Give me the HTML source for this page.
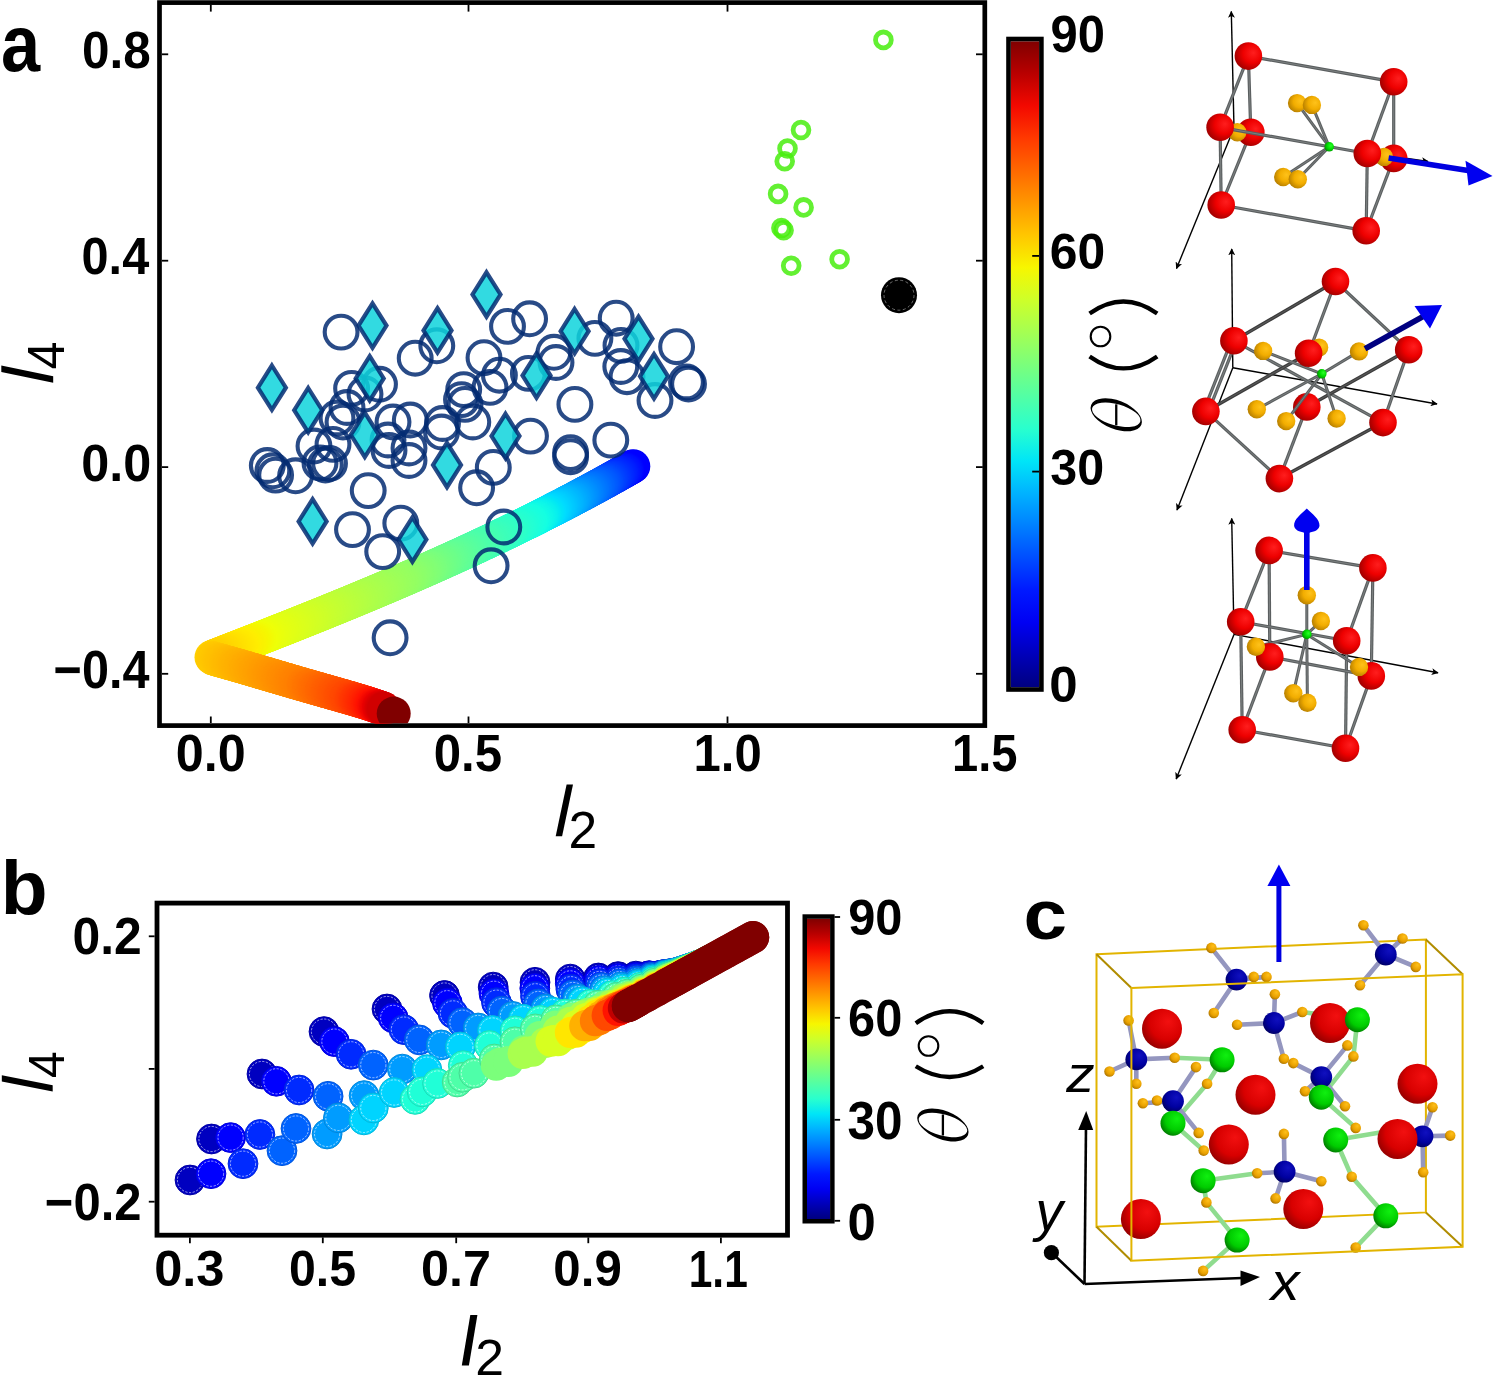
<!DOCTYPE html><html><head><meta charset="utf-8"><style>html,body{margin:0;padding:0;background:#fff;}svg{display:block;}text{font-family:"Liberation Sans",sans-serif;filter:grayscale(1);}</style></head><body>
<svg width="1495" height="1377" viewBox="0 0 1495 1377">
<rect width="1495" height="1377" fill="#fff"/>
<g fill="none" stroke="#000">
<rect x="159.5" y="2.6" width="825.3" height="723" stroke-width="4.7"/>
</g>
<g stroke="#000" stroke-width="1.8">
<line x1="210.8" y1="723" x2="210.8" y2="716.5"/>
<line x1="210.8" y1="4.8" x2="210.8" y2="11.6"/>
<line x1="468.5" y1="723" x2="468.5" y2="716.5"/>
<line x1="468.5" y1="4.8" x2="468.5" y2="11.6"/>
<line x1="727.5" y1="723" x2="727.5" y2="716.5"/>
<line x1="727.5" y1="4.8" x2="727.5" y2="11.6"/>
<line x1="162" y1="54.3" x2="168.2" y2="54.3"/>
<line x1="982.8" y1="54.3" x2="976" y2="54.3"/>
<line x1="162" y1="260.7" x2="168.2" y2="260.7"/>
<line x1="982.8" y1="260.7" x2="976" y2="260.7"/>
<line x1="162" y1="467.1" x2="168.2" y2="467.1"/>
<line x1="982.8" y1="467.1" x2="976" y2="467.1"/>
<line x1="162" y1="673.8" x2="168.2" y2="673.8"/>
<line x1="982.8" y1="673.8" x2="976" y2="673.8"/>
</g>
<text x="100" y="200" font-size="100" font-weight="bold" font-style="normal" fill="#000" transform="matrix(0.70370 0.00002 0 0.78909 -69.281 -87.207)">a</text>
<text x="100" y="200" font-size="100" font-weight="bold" font-style="normal" fill="#000" transform="matrix(0.49470 0.00002 0 0.52113 32.552 -36.546)">0.8</text>
<text x="100" y="200" font-size="100" font-weight="bold" font-style="normal" fill="#000" transform="matrix(0.48667 0.00002 0 0.52254 32.887 169.870)">0.4</text>
<text x="100" y="200" font-size="100" font-weight="bold" font-style="normal" fill="#000" transform="matrix(0.50382 0.00002 0 0.52254 30.903 376.170)">0.0</text>
<text x="100" y="200" font-size="100" font-weight="bold" font-style="normal" fill="#000" transform="matrix(0.48549 0.00002 0 0.52817 5.009 582.038)">−0.4</text>
<text x="100" y="200" font-size="100" font-weight="bold" font-style="normal" fill="#000" transform="matrix(0.50305 0.00002 0 0.52254 125.482 666.470)">0.0</text>
<text x="100" y="200" font-size="100" font-weight="bold" font-style="normal" fill="#000" transform="matrix(0.49098 0.00002 0 0.52254 384.638 666.470)">0.5</text>
<text x="100" y="200" font-size="100" font-weight="bold" font-style="normal" fill="#000" transform="matrix(0.49070 0.00002 0 0.52254 644.486 666.470)">1.0</text>
<text x="100" y="200" font-size="100" font-weight="bold" font-style="normal" fill="#000" transform="matrix(0.47099 0.00002 0 0.52429 904.975 665.919)">1.5</text>
<polygon points="566.6,784.4 573,784.4 562.1,836.2 555.7,836.2" fill="#000"/>
<text x="100" y="200" font-size="100" font-weight="normal" font-style="normal" fill="#000" transform="matrix(0.51522 0.00002 0 0.52286 516.902 743.329)">2</text>
<polygon points="1.3,365.4 1.3,371.9 53.2,382.8 53.2,376.3" fill="#000"/>
<text x="100" y="200" font-size="100" font-weight="normal" font-style="normal" transform="matrix(0 -0.50392 0.51000 0 -38.400 419.800)">4</text>
<defs><linearGradient id="cb1010" x1="0" y1="1" x2="0" y2="0">
<stop offset="0.000" stop-color="#000080"/>
<stop offset="0.050" stop-color="#0000b9"/>
<stop offset="0.100" stop-color="#0000f3"/>
<stop offset="0.150" stop-color="#0019ff"/>
<stop offset="0.200" stop-color="#004dff"/>
<stop offset="0.250" stop-color="#0080ff"/>
<stop offset="0.300" stop-color="#00b2ff"/>
<stop offset="0.350" stop-color="#00e5f7"/>
<stop offset="0.400" stop-color="#29ffce"/>
<stop offset="0.450" stop-color="#52ffa5"/>
<stop offset="0.500" stop-color="#7bff7b"/>
<stop offset="0.550" stop-color="#a5ff52"/>
<stop offset="0.600" stop-color="#ceff29"/>
<stop offset="0.650" stop-color="#f7f600"/>
<stop offset="0.700" stop-color="#ffc600"/>
<stop offset="0.750" stop-color="#ff9700"/>
<stop offset="0.800" stop-color="#ff6800"/>
<stop offset="0.850" stop-color="#ff3900"/>
<stop offset="0.900" stop-color="#f30900"/>
<stop offset="0.950" stop-color="#b90000"/>
<stop offset="1.000" stop-color="#800000"/>
</linearGradient></defs>
<rect x="1010.8" y="41.3" width="28.299999999999955" height="645.9000000000001" fill="url(#cb1010)"/>
<rect x="1008.5" y="39.0" width="32.899999999999956" height="650.5000000000001" fill="none" stroke="#000" stroke-width="4.6"/>
<text x="100" y="200" font-size="100" font-weight="bold" font-style="normal" fill="#000" transform="matrix(0.48942 0.00002 0 0.51268 1001.589 -50.648)">90</text>
<text x="100" y="200" font-size="100" font-weight="bold" font-style="normal" fill="#000" transform="matrix(0.49808 0.00002 0 0.50704 999.898 168.085)">60</text>
<text x="100" y="200" font-size="100" font-weight="bold" font-style="normal" fill="#000" transform="matrix(0.48381 0.00002 0 0.50704 1001.851 383.785)">30</text>
<text x="100" y="200" font-size="100" font-weight="bold" font-style="normal" fill="#000" transform="matrix(0.51042 0.00002 0 0.50704 998.117 601.085)">0</text>
<path fill="#000" d="M1089.25,414.8 a27.0,14.2 0 1,0 54.0,0 a27.0,14.2 0 1,0 -54.0,0 Z" transform="rotate(21.5 1116.25 414.8)"/>
<path fill="#fff" d="M1091.25,414.8 a25.0,10.6 0 1,0 50.0,0 a25.0,10.6 0 1,0 -50.0,0 Z" transform="rotate(15.5 1116.25 414.8)"/>
<line x1="1116.25" y1="404.3" x2="1116.25" y2="425.3" stroke="#000" stroke-width="2.3"/>
<circle cx="1100.5" cy="336.5" r="9.8" stroke="#000" fill="none" stroke-width="2.1"/>
<path d="M1089.6,313.5 Q1123.4,289.5 1157.2,313.5" fill="none" stroke="#000" stroke-width="4.3"/>
<path d="M1089.6,356.40000000000003 Q1123.4,380.40000000000003 1157.2,356.40000000000003" fill="none" stroke="#000" stroke-width="4.3"/>
<g stroke="#000" stroke-width="1.8">
<line x1="1032.2" y1="255.9" x2="1039" y2="255.9"/>
<line x1="1032.2" y1="471.6" x2="1039" y2="471.6"/>
</g>
<defs><clipPath id="clipA"><rect x="161.8" y="4.9" width="821" height="718.3"/></clipPath></defs>
<g clip-path="url(#clipA)">
<circle cx="633.3" cy="466.2" r="17" fill="#0000f9"/>
<circle cx="632.3" cy="466.7" r="17" fill="#0000fe"/>
<circle cx="631.3" cy="467.3" r="17" fill="#0000ff"/>
<circle cx="630.3" cy="467.9" r="17" fill="#0000ff"/>
<circle cx="629.3" cy="468.5" r="17" fill="#0000ff"/>
<circle cx="628.3" cy="469.0" r="17" fill="#0001ff"/>
<circle cx="627.3" cy="469.6" r="17" fill="#0005ff"/>
<circle cx="626.3" cy="470.2" r="17" fill="#000aff"/>
<circle cx="625.3" cy="470.7" r="17" fill="#000eff"/>
<circle cx="624.3" cy="471.3" r="17" fill="#0011ff"/>
<circle cx="623.3" cy="471.9" r="17" fill="#0014ff"/>
<circle cx="622.3" cy="472.4" r="17" fill="#0017ff"/>
<circle cx="621.3" cy="473.0" r="17" fill="#001bff"/>
<circle cx="620.3" cy="473.6" r="17" fill="#001eff"/>
<circle cx="619.3" cy="474.1" r="17" fill="#0021ff"/>
<circle cx="618.3" cy="474.7" r="17" fill="#0024ff"/>
<circle cx="617.3" cy="475.2" r="17" fill="#0027ff"/>
<circle cx="616.3" cy="475.8" r="17" fill="#002aff"/>
<circle cx="615.3" cy="476.4" r="17" fill="#002dff"/>
<circle cx="614.3" cy="476.9" r="17" fill="#0030ff"/>
<circle cx="613.3" cy="477.5" r="17" fill="#0033ff"/>
<circle cx="612.3" cy="478.0" r="17" fill="#0036ff"/>
<circle cx="611.3" cy="478.6" r="17" fill="#0039ff"/>
<circle cx="610.3" cy="479.1" r="17" fill="#003cff"/>
<circle cx="609.3" cy="479.7" r="17" fill="#003fff"/>
<circle cx="608.3" cy="480.2" r="17" fill="#0042ff"/>
<circle cx="607.3" cy="480.8" r="17" fill="#0045ff"/>
<circle cx="606.3" cy="481.4" r="17" fill="#0049ff"/>
<circle cx="605.3" cy="481.9" r="17" fill="#004cff"/>
<circle cx="604.3" cy="482.5" r="17" fill="#004fff"/>
<circle cx="603.3" cy="483.0" r="17" fill="#0052ff"/>
<circle cx="602.3" cy="483.6" r="17" fill="#0055ff"/>
<circle cx="601.3" cy="484.1" r="17" fill="#0058ff"/>
<circle cx="600.3" cy="484.7" r="17" fill="#005bff"/>
<circle cx="599.3" cy="485.2" r="17" fill="#005dff"/>
<circle cx="598.3" cy="485.7" r="17" fill="#0060ff"/>
<circle cx="597.3" cy="486.3" r="17" fill="#0063ff"/>
<circle cx="596.3" cy="486.8" r="17" fill="#0065ff"/>
<circle cx="595.3" cy="487.4" r="17" fill="#0068ff"/>
<circle cx="594.3" cy="487.9" r="17" fill="#006bff"/>
<circle cx="593.3" cy="488.5" r="17" fill="#006dff"/>
<circle cx="592.3" cy="489.0" r="17" fill="#0070ff"/>
<circle cx="591.3" cy="489.5" r="17" fill="#0073ff"/>
<circle cx="590.3" cy="490.1" r="17" fill="#0075ff"/>
<circle cx="589.3" cy="490.6" r="17" fill="#0078ff"/>
<circle cx="588.3" cy="491.2" r="17" fill="#007aff"/>
<circle cx="587.3" cy="491.7" r="17" fill="#007dff"/>
<circle cx="586.3" cy="492.2" r="17" fill="#0080ff"/>
<circle cx="585.3" cy="492.8" r="17" fill="#0082ff"/>
<circle cx="584.3" cy="493.3" r="17" fill="#0085ff"/>
<circle cx="583.3" cy="493.8" r="17" fill="#0087ff"/>
<circle cx="582.3" cy="494.4" r="17" fill="#008aff"/>
<circle cx="581.3" cy="494.9" r="17" fill="#008dff"/>
<circle cx="580.3" cy="495.4" r="17" fill="#008fff"/>
<circle cx="579.3" cy="496.0" r="17" fill="#0092ff"/>
<circle cx="578.3" cy="496.5" r="17" fill="#0094ff"/>
<circle cx="577.3" cy="497.0" r="17" fill="#0097ff"/>
<circle cx="576.3" cy="497.6" r="17" fill="#009aff"/>
<circle cx="575.3" cy="498.1" r="17" fill="#009cff"/>
<circle cx="574.3" cy="498.6" r="17" fill="#009fff"/>
<circle cx="573.3" cy="499.1" r="17" fill="#00a2ff"/>
<circle cx="572.3" cy="499.7" r="17" fill="#00a4ff"/>
<circle cx="571.3" cy="500.2" r="17" fill="#00a7ff"/>
<circle cx="570.3" cy="500.7" r="17" fill="#00a9ff"/>
<circle cx="569.3" cy="501.2" r="17" fill="#00acff"/>
<circle cx="568.3" cy="501.8" r="17" fill="#00aeff"/>
<circle cx="567.3" cy="502.3" r="17" fill="#00b1ff"/>
<circle cx="566.3" cy="502.8" r="17" fill="#00b4ff"/>
<circle cx="565.3" cy="503.3" r="17" fill="#00b6ff"/>
<circle cx="564.3" cy="503.9" r="17" fill="#00b8ff"/>
<circle cx="563.3" cy="504.4" r="17" fill="#00bbff"/>
<circle cx="562.3" cy="504.9" r="17" fill="#00bdff"/>
<circle cx="561.3" cy="505.4" r="17" fill="#00bfff"/>
<circle cx="560.3" cy="505.9" r="17" fill="#00c2ff"/>
<circle cx="559.3" cy="506.4" r="17" fill="#00c4ff"/>
<circle cx="558.3" cy="507.0" r="17" fill="#00c7ff"/>
<circle cx="557.3" cy="507.5" r="17" fill="#00c9ff"/>
<circle cx="556.3" cy="508.0" r="17" fill="#00cbff"/>
<circle cx="555.3" cy="508.5" r="17" fill="#00ceff"/>
<circle cx="554.3" cy="509.0" r="17" fill="#00d0ff"/>
<circle cx="553.3" cy="509.5" r="17" fill="#00d2ff"/>
<circle cx="552.3" cy="510.1" r="17" fill="#00d5ff"/>
<circle cx="551.3" cy="510.6" r="17" fill="#00d7ff"/>
<circle cx="550.3" cy="511.1" r="17" fill="#00d9ff"/>
<circle cx="549.3" cy="511.6" r="17" fill="#00dcff"/>
<circle cx="548.3" cy="512.1" r="17" fill="#00defd"/>
<circle cx="547.3" cy="512.6" r="17" fill="#00e1fb"/>
<circle cx="546.3" cy="513.1" r="17" fill="#00e3f9"/>
<circle cx="545.3" cy="513.6" r="17" fill="#00e5f7"/>
<circle cx="544.3" cy="514.1" r="17" fill="#02e8f5"/>
<circle cx="543.3" cy="514.6" r="17" fill="#04eaf3"/>
<circle cx="542.3" cy="515.1" r="17" fill="#05ecf1"/>
<circle cx="541.3" cy="515.6" r="17" fill="#07efef"/>
<circle cx="540.3" cy="516.1" r="17" fill="#09f0ee"/>
<circle cx="539.3" cy="516.7" r="17" fill="#0af2ed"/>
<circle cx="538.3" cy="517.2" r="17" fill="#0bf4eb"/>
<circle cx="537.3" cy="517.7" r="17" fill="#0df5ea"/>
<circle cx="536.3" cy="518.2" r="17" fill="#0ef7e9"/>
<circle cx="535.3" cy="518.7" r="17" fill="#0ff8e8"/>
<circle cx="534.3" cy="519.2" r="17" fill="#10f9e7"/>
<circle cx="533.3" cy="519.7" r="17" fill="#11fbe6"/>
<circle cx="532.3" cy="520.2" r="17" fill="#12fce4"/>
<circle cx="531.3" cy="520.7" r="17" fill="#13fee3"/>
<circle cx="530.3" cy="521.2" r="17" fill="#15ffe2"/>
<circle cx="529.3" cy="521.7" r="17" fill="#16ffe1"/>
<circle cx="528.3" cy="522.2" r="17" fill="#17ffe0"/>
<circle cx="527.3" cy="522.6" r="17" fill="#18ffdf"/>
<circle cx="526.3" cy="523.1" r="17" fill="#19ffde"/>
<circle cx="525.3" cy="523.6" r="17" fill="#1affdd"/>
<circle cx="524.3" cy="524.1" r="17" fill="#1bffdc"/>
<circle cx="523.3" cy="524.6" r="17" fill="#1cffdb"/>
<circle cx="522.3" cy="525.1" r="17" fill="#1dffd9"/>
<circle cx="521.3" cy="525.6" r="17" fill="#1effd8"/>
<circle cx="520.3" cy="526.1" r="17" fill="#1fffd7"/>
<circle cx="519.3" cy="526.6" r="17" fill="#21ffd6"/>
<circle cx="518.3" cy="527.1" r="17" fill="#22ffd5"/>
<circle cx="517.3" cy="527.6" r="17" fill="#23ffd4"/>
<circle cx="516.3" cy="528.1" r="17" fill="#24ffd3"/>
<circle cx="515.3" cy="528.6" r="17" fill="#25ffd2"/>
<circle cx="514.3" cy="529.0" r="17" fill="#26ffd1"/>
<circle cx="513.3" cy="529.5" r="17" fill="#27ffd0"/>
<circle cx="512.3" cy="530.0" r="17" fill="#28ffcf"/>
<circle cx="511.3" cy="530.5" r="17" fill="#29ffcd"/>
<circle cx="510.3" cy="531.0" r="17" fill="#2affcc"/>
<circle cx="509.3" cy="531.5" r="17" fill="#2cffcb"/>
<circle cx="508.3" cy="532.0" r="17" fill="#2dffca"/>
<circle cx="507.3" cy="532.4" r="17" fill="#2effc9"/>
<circle cx="506.3" cy="532.9" r="17" fill="#2fffc8"/>
<circle cx="505.3" cy="533.4" r="17" fill="#30ffc7"/>
<circle cx="504.3" cy="533.9" r="17" fill="#31ffc6"/>
<circle cx="503.3" cy="534.4" r="17" fill="#32ffc5"/>
<circle cx="502.3" cy="534.8" r="17" fill="#33ffc4"/>
<circle cx="501.3" cy="535.3" r="17" fill="#34ffc3"/>
<circle cx="500.3" cy="535.8" r="17" fill="#35ffc2"/>
<circle cx="499.3" cy="536.3" r="17" fill="#35ffc1"/>
<circle cx="498.3" cy="536.8" r="17" fill="#36ffc0"/>
<circle cx="497.3" cy="537.2" r="17" fill="#37ffc0"/>
<circle cx="496.3" cy="537.7" r="17" fill="#38ffbf"/>
<circle cx="495.3" cy="538.2" r="17" fill="#39ffbe"/>
<circle cx="494.3" cy="538.7" r="17" fill="#3affbd"/>
<circle cx="493.3" cy="539.2" r="17" fill="#3bffbc"/>
<circle cx="492.3" cy="539.6" r="17" fill="#3cffbb"/>
<circle cx="491.3" cy="540.1" r="17" fill="#3cffba"/>
<circle cx="490.3" cy="540.6" r="17" fill="#3dffb9"/>
<circle cx="489.3" cy="541.0" r="17" fill="#3effb9"/>
<circle cx="488.3" cy="541.5" r="17" fill="#3fffb8"/>
<circle cx="487.3" cy="542.0" r="17" fill="#40ffb7"/>
<circle cx="486.3" cy="542.5" r="17" fill="#41ffb6"/>
<circle cx="485.3" cy="542.9" r="17" fill="#42ffb5"/>
<circle cx="484.3" cy="543.4" r="17" fill="#43ffb4"/>
<circle cx="483.3" cy="543.9" r="17" fill="#43ffb3"/>
<circle cx="482.3" cy="544.3" r="17" fill="#44ffb2"/>
<circle cx="481.3" cy="544.8" r="17" fill="#45ffb2"/>
<circle cx="480.3" cy="545.3" r="17" fill="#46ffb1"/>
<circle cx="479.3" cy="545.7" r="17" fill="#47ffb0"/>
<circle cx="478.3" cy="546.2" r="17" fill="#48ffaf"/>
<circle cx="477.3" cy="546.7" r="17" fill="#49ffae"/>
<circle cx="476.3" cy="547.1" r="17" fill="#4affad"/>
<circle cx="475.3" cy="547.6" r="17" fill="#4affac"/>
<circle cx="474.3" cy="548.1" r="17" fill="#4bffab"/>
<circle cx="473.3" cy="548.5" r="17" fill="#4cffab"/>
<circle cx="472.3" cy="549.0" r="17" fill="#4dffaa"/>
<circle cx="471.3" cy="549.5" r="17" fill="#4effa9"/>
<circle cx="470.3" cy="549.9" r="17" fill="#4fffa8"/>
<circle cx="469.3" cy="550.4" r="17" fill="#50ffa7"/>
<circle cx="468.3" cy="550.9" r="17" fill="#51ffa6"/>
<circle cx="467.3" cy="551.3" r="17" fill="#52ffa5"/>
<circle cx="466.3" cy="551.8" r="17" fill="#53ffa4"/>
<circle cx="465.3" cy="552.2" r="17" fill="#54ffa3"/>
<circle cx="464.3" cy="552.7" r="17" fill="#55ffa2"/>
<circle cx="463.3" cy="553.2" r="17" fill="#56ffa1"/>
<circle cx="462.3" cy="553.6" r="17" fill="#57ffa0"/>
<circle cx="461.3" cy="554.1" r="17" fill="#58ff9f"/>
<circle cx="460.3" cy="554.5" r="17" fill="#59ff9e"/>
<circle cx="459.3" cy="555.0" r="17" fill="#5aff9d"/>
<circle cx="458.3" cy="555.4" r="17" fill="#5bff9c"/>
<circle cx="457.3" cy="555.9" r="17" fill="#5cff9b"/>
<circle cx="456.3" cy="556.4" r="17" fill="#5dff9a"/>
<circle cx="455.3" cy="556.8" r="17" fill="#5eff99"/>
<circle cx="454.3" cy="557.3" r="17" fill="#5fff98"/>
<circle cx="453.3" cy="557.7" r="17" fill="#60ff97"/>
<circle cx="452.3" cy="558.2" r="17" fill="#61ff96"/>
<circle cx="451.3" cy="558.6" r="17" fill="#62ff95"/>
<circle cx="450.3" cy="559.1" r="17" fill="#63ff94"/>
<circle cx="449.3" cy="559.5" r="17" fill="#64ff93"/>
<circle cx="448.3" cy="560.0" r="17" fill="#65ff92"/>
<circle cx="447.3" cy="560.4" r="17" fill="#66ff91"/>
<circle cx="446.3" cy="560.9" r="17" fill="#67ff90"/>
<circle cx="445.3" cy="561.3" r="17" fill="#68ff8f"/>
<circle cx="444.3" cy="561.8" r="17" fill="#69ff8d"/>
<circle cx="443.3" cy="562.2" r="17" fill="#6aff8c"/>
<circle cx="442.3" cy="562.7" r="17" fill="#6bff8b"/>
<circle cx="441.3" cy="563.1" r="17" fill="#6cff8a"/>
<circle cx="440.3" cy="563.6" r="17" fill="#6dff89"/>
<circle cx="439.3" cy="564.0" r="17" fill="#6eff88"/>
<circle cx="438.3" cy="564.5" r="17" fill="#6fff87"/>
<circle cx="437.3" cy="564.9" r="17" fill="#70ff86"/>
<circle cx="436.3" cy="565.4" r="17" fill="#71ff85"/>
<circle cx="435.3" cy="565.8" r="17" fill="#72ff84"/>
<circle cx="434.3" cy="566.3" r="17" fill="#73ff83"/>
<circle cx="433.3" cy="566.7" r="17" fill="#74ff82"/>
<circle cx="432.3" cy="567.1" r="17" fill="#75ff81"/>
<circle cx="431.3" cy="567.6" r="17" fill="#76ff80"/>
<circle cx="430.3" cy="568.0" r="17" fill="#78ff7f"/>
<circle cx="429.3" cy="568.5" r="17" fill="#79ff7e"/>
<circle cx="428.3" cy="568.9" r="17" fill="#7aff7d"/>
<circle cx="427.3" cy="569.4" r="17" fill="#7bff7c"/>
<circle cx="426.3" cy="569.8" r="17" fill="#7cff7b"/>
<circle cx="425.3" cy="570.2" r="17" fill="#7dff7a"/>
<circle cx="424.3" cy="570.7" r="17" fill="#7eff79"/>
<circle cx="423.3" cy="571.1" r="17" fill="#7fff78"/>
<circle cx="422.3" cy="571.6" r="17" fill="#80ff77"/>
<circle cx="421.3" cy="572.0" r="17" fill="#81ff76"/>
<circle cx="420.3" cy="572.4" r="17" fill="#82ff75"/>
<circle cx="419.3" cy="572.9" r="17" fill="#83ff74"/>
<circle cx="418.3" cy="573.3" r="17" fill="#83ff73"/>
<circle cx="417.3" cy="573.7" r="17" fill="#84ff72"/>
<circle cx="416.3" cy="574.2" r="17" fill="#85ff71"/>
<circle cx="415.3" cy="574.6" r="17" fill="#86ff71"/>
<circle cx="414.3" cy="575.1" r="17" fill="#87ff70"/>
<circle cx="413.3" cy="575.5" r="17" fill="#88ff6f"/>
<circle cx="412.3" cy="575.9" r="17" fill="#89ff6e"/>
<circle cx="411.3" cy="576.4" r="17" fill="#8aff6d"/>
<circle cx="410.3" cy="576.8" r="17" fill="#8bff6c"/>
<circle cx="409.3" cy="577.2" r="17" fill="#8cff6b"/>
<circle cx="408.3" cy="577.7" r="17" fill="#8dff6a"/>
<circle cx="407.3" cy="578.1" r="17" fill="#8dff69"/>
<circle cx="406.3" cy="578.5" r="17" fill="#8eff68"/>
<circle cx="405.3" cy="579.0" r="17" fill="#8fff68"/>
<circle cx="404.3" cy="579.4" r="17" fill="#90ff67"/>
<circle cx="403.3" cy="579.8" r="17" fill="#91ff66"/>
<circle cx="402.3" cy="580.3" r="17" fill="#92ff65"/>
<circle cx="401.3" cy="580.7" r="17" fill="#93ff64"/>
<circle cx="400.3" cy="581.1" r="17" fill="#94ff63"/>
<circle cx="399.3" cy="581.5" r="17" fill="#94ff62"/>
<circle cx="398.3" cy="582.0" r="17" fill="#95ff62"/>
<circle cx="397.3" cy="582.4" r="17" fill="#96ff61"/>
<circle cx="396.3" cy="582.8" r="17" fill="#96ff60"/>
<circle cx="395.3" cy="583.3" r="17" fill="#97ff60"/>
<circle cx="394.3" cy="583.7" r="17" fill="#98ff5f"/>
<circle cx="393.3" cy="584.1" r="17" fill="#98ff5f"/>
<circle cx="392.3" cy="584.5" r="17" fill="#99ff5e"/>
<circle cx="391.3" cy="585.0" r="17" fill="#99ff5d"/>
<circle cx="390.3" cy="585.4" r="17" fill="#9aff5d"/>
<circle cx="389.3" cy="585.8" r="17" fill="#9bff5c"/>
<circle cx="388.3" cy="586.2" r="17" fill="#9bff5b"/>
<circle cx="387.3" cy="586.7" r="17" fill="#9cff5b"/>
<circle cx="386.3" cy="587.1" r="17" fill="#9dff5a"/>
<circle cx="385.3" cy="587.5" r="17" fill="#9dff5a"/>
<circle cx="384.3" cy="587.9" r="17" fill="#9eff59"/>
<circle cx="383.3" cy="588.4" r="17" fill="#9eff58"/>
<circle cx="382.3" cy="588.8" r="17" fill="#9fff58"/>
<circle cx="381.3" cy="589.2" r="17" fill="#a0ff57"/>
<circle cx="380.3" cy="589.6" r="17" fill="#a0ff56"/>
<circle cx="379.3" cy="590.1" r="17" fill="#a1ff56"/>
<circle cx="378.3" cy="590.5" r="17" fill="#a2ff55"/>
<circle cx="377.3" cy="590.9" r="17" fill="#a2ff55"/>
<circle cx="376.3" cy="591.3" r="17" fill="#a3ff54"/>
<circle cx="375.3" cy="591.7" r="17" fill="#a3ff53"/>
<circle cx="374.3" cy="592.2" r="17" fill="#a4ff53"/>
<circle cx="373.3" cy="592.6" r="17" fill="#a5ff52"/>
<circle cx="372.3" cy="593.0" r="17" fill="#a5ff52"/>
<circle cx="371.3" cy="593.4" r="17" fill="#a6ff51"/>
<circle cx="370.3" cy="593.8" r="17" fill="#a7ff50"/>
<circle cx="369.3" cy="594.3" r="17" fill="#a7ff50"/>
<circle cx="368.3" cy="594.7" r="17" fill="#a8ff4f"/>
<circle cx="367.3" cy="595.1" r="17" fill="#a8ff4e"/>
<circle cx="366.3" cy="595.5" r="17" fill="#a9ff4e"/>
<circle cx="365.3" cy="595.9" r="17" fill="#aaff4d"/>
<circle cx="364.3" cy="596.3" r="17" fill="#aaff4d"/>
<circle cx="363.3" cy="596.8" r="17" fill="#abff4c"/>
<circle cx="362.3" cy="597.2" r="17" fill="#abff4b"/>
<circle cx="361.3" cy="597.6" r="17" fill="#acff4b"/>
<circle cx="360.3" cy="598.0" r="17" fill="#adff4a"/>
<circle cx="359.3" cy="598.4" r="17" fill="#adff49"/>
<circle cx="358.3" cy="598.8" r="17" fill="#aeff49"/>
<circle cx="357.3" cy="599.3" r="17" fill="#afff48"/>
<circle cx="356.3" cy="599.7" r="17" fill="#afff48"/>
<circle cx="355.3" cy="600.1" r="17" fill="#b0ff47"/>
<circle cx="354.3" cy="600.5" r="17" fill="#b0ff46"/>
<circle cx="353.3" cy="600.9" r="17" fill="#b1ff46"/>
<circle cx="352.3" cy="601.3" r="17" fill="#b2ff45"/>
<circle cx="351.3" cy="601.7" r="17" fill="#b2ff44"/>
<circle cx="350.3" cy="602.2" r="17" fill="#b3ff44"/>
<circle cx="349.3" cy="602.6" r="17" fill="#b4ff43"/>
<circle cx="348.3" cy="603.0" r="17" fill="#b4ff43"/>
<circle cx="347.3" cy="603.4" r="17" fill="#b5ff42"/>
<circle cx="346.3" cy="603.8" r="17" fill="#b5ff41"/>
<circle cx="345.3" cy="604.2" r="17" fill="#b6ff41"/>
<circle cx="344.3" cy="604.6" r="17" fill="#b7ff40"/>
<circle cx="343.3" cy="605.0" r="17" fill="#b7ff3f"/>
<circle cx="342.3" cy="605.4" r="17" fill="#b8ff3f"/>
<circle cx="341.3" cy="605.8" r="17" fill="#b9ff3e"/>
<circle cx="340.3" cy="606.3" r="17" fill="#b9ff3e"/>
<circle cx="339.3" cy="606.7" r="17" fill="#baff3d"/>
<circle cx="338.3" cy="607.1" r="17" fill="#baff3c"/>
<circle cx="337.3" cy="607.5" r="17" fill="#bbff3c"/>
<circle cx="336.3" cy="607.9" r="17" fill="#bcff3b"/>
<circle cx="335.3" cy="608.3" r="17" fill="#bcff3b"/>
<circle cx="334.3" cy="608.7" r="17" fill="#bdff3a"/>
<circle cx="333.3" cy="609.1" r="17" fill="#beff39"/>
<circle cx="332.3" cy="609.5" r="17" fill="#beff39"/>
<circle cx="331.3" cy="609.9" r="17" fill="#bfff38"/>
<circle cx="330.3" cy="610.3" r="17" fill="#bfff37"/>
<circle cx="329.3" cy="610.7" r="17" fill="#c0ff37"/>
<circle cx="328.3" cy="611.1" r="17" fill="#c1ff36"/>
<circle cx="327.3" cy="611.6" r="17" fill="#c1ff35"/>
<circle cx="326.3" cy="612.0" r="17" fill="#c2ff35"/>
<circle cx="325.3" cy="612.4" r="17" fill="#c3ff34"/>
<circle cx="324.3" cy="612.8" r="17" fill="#c3ff33"/>
<circle cx="323.3" cy="613.2" r="17" fill="#c4ff33"/>
<circle cx="322.3" cy="613.6" r="17" fill="#c5ff32"/>
<circle cx="321.3" cy="614.0" r="17" fill="#c5ff32"/>
<circle cx="320.3" cy="614.4" r="17" fill="#c6ff31"/>
<circle cx="319.3" cy="614.8" r="17" fill="#c7ff30"/>
<circle cx="318.3" cy="615.2" r="17" fill="#c7ff30"/>
<circle cx="317.3" cy="615.6" r="17" fill="#c8ff2f"/>
<circle cx="316.3" cy="616.0" r="17" fill="#c8ff2e"/>
<circle cx="315.3" cy="616.4" r="17" fill="#c9ff2e"/>
<circle cx="314.3" cy="616.8" r="17" fill="#caff2d"/>
<circle cx="313.3" cy="617.2" r="17" fill="#caff2c"/>
<circle cx="312.3" cy="617.6" r="17" fill="#cbff2c"/>
<circle cx="311.3" cy="618.0" r="17" fill="#ccff2b"/>
<circle cx="310.3" cy="618.4" r="17" fill="#ccff2a"/>
<circle cx="309.3" cy="618.8" r="17" fill="#cdff2a"/>
<circle cx="308.3" cy="619.2" r="17" fill="#ceff29"/>
<circle cx="307.3" cy="619.6" r="17" fill="#ceff28"/>
<circle cx="306.3" cy="620.0" r="17" fill="#cfff28"/>
<circle cx="305.3" cy="620.4" r="17" fill="#d0ff27"/>
<circle cx="304.3" cy="620.8" r="17" fill="#d0ff27"/>
<circle cx="303.3" cy="621.2" r="17" fill="#d1ff26"/>
<circle cx="302.3" cy="621.6" r="17" fill="#d2ff25"/>
<circle cx="301.3" cy="622.0" r="17" fill="#d2ff25"/>
<circle cx="300.3" cy="622.4" r="17" fill="#d3ff24"/>
<circle cx="299.3" cy="622.8" r="17" fill="#d3ff23"/>
<circle cx="298.3" cy="623.2" r="17" fill="#d4ff23"/>
<circle cx="297.3" cy="623.6" r="17" fill="#d5ff22"/>
<circle cx="296.3" cy="624.0" r="17" fill="#d5ff21"/>
<circle cx="295.3" cy="624.4" r="17" fill="#d6ff21"/>
<circle cx="294.3" cy="624.8" r="17" fill="#d7ff20"/>
<circle cx="293.3" cy="625.2" r="17" fill="#d7ff1f"/>
<circle cx="292.3" cy="625.6" r="17" fill="#d8ff1f"/>
<circle cx="291.3" cy="626.0" r="17" fill="#d9ff1e"/>
<circle cx="290.3" cy="626.4" r="17" fill="#d9ff1e"/>
<circle cx="289.3" cy="626.8" r="17" fill="#daff1d"/>
<circle cx="288.3" cy="627.2" r="17" fill="#dbff1c"/>
<circle cx="287.3" cy="627.6" r="17" fill="#dbff1c"/>
<circle cx="286.3" cy="628.0" r="17" fill="#dcff1b"/>
<circle cx="285.3" cy="628.4" r="17" fill="#dcff1a"/>
<circle cx="284.3" cy="628.8" r="17" fill="#ddff1a"/>
<circle cx="283.3" cy="629.2" r="17" fill="#deff19"/>
<circle cx="282.3" cy="629.6" r="17" fill="#deff18"/>
<circle cx="281.3" cy="630.0" r="17" fill="#dfff18"/>
<circle cx="280.3" cy="630.3" r="17" fill="#e0ff17"/>
<circle cx="279.3" cy="630.7" r="17" fill="#e0ff16"/>
<circle cx="278.3" cy="631.1" r="17" fill="#e1ff16"/>
<circle cx="277.3" cy="631.5" r="17" fill="#e2ff15"/>
<circle cx="276.3" cy="631.9" r="17" fill="#e2ff15"/>
<circle cx="275.3" cy="632.3" r="17" fill="#e3ff14"/>
<circle cx="274.3" cy="632.7" r="17" fill="#e4ff13"/>
<circle cx="273.3" cy="633.1" r="17" fill="#e4ff13"/>
<circle cx="272.3" cy="633.5" r="17" fill="#e5ff12"/>
<circle cx="271.3" cy="633.9" r="17" fill="#e6ff11"/>
<circle cx="270.3" cy="634.3" r="17" fill="#e6ff11"/>
<circle cx="269.3" cy="634.7" r="17" fill="#e7ff10"/>
<circle cx="268.3" cy="635.1" r="17" fill="#e8ff0f"/>
<circle cx="267.3" cy="635.5" r="17" fill="#e9ff0e"/>
<circle cx="266.3" cy="635.9" r="17" fill="#e9ff0d"/>
<circle cx="265.3" cy="636.2" r="17" fill="#eaff0c"/>
<circle cx="264.3" cy="636.6" r="17" fill="#ebff0c"/>
<circle cx="263.3" cy="637.0" r="17" fill="#ecff0b"/>
<circle cx="262.3" cy="637.4" r="17" fill="#edff0a"/>
<circle cx="261.3" cy="637.8" r="17" fill="#eeff09"/>
<circle cx="260.3" cy="638.2" r="17" fill="#efff08"/>
<circle cx="259.3" cy="638.6" r="17" fill="#effe07"/>
<circle cx="258.3" cy="639.0" r="17" fill="#f0fd07"/>
<circle cx="257.3" cy="639.4" r="17" fill="#f1fc06"/>
<circle cx="256.3" cy="639.8" r="17" fill="#f2fb05"/>
<circle cx="255.3" cy="640.2" r="17" fill="#f3fa04"/>
<circle cx="254.3" cy="640.6" r="17" fill="#f4f903"/>
<circle cx="253.3" cy="640.9" r="17" fill="#f4f802"/>
<circle cx="252.3" cy="641.3" r="17" fill="#f5f702"/>
<circle cx="251.3" cy="641.7" r="17" fill="#f6f601"/>
<circle cx="250.3" cy="642.1" r="17" fill="#f7f500"/>
<circle cx="249.3" cy="642.5" r="17" fill="#f8f400"/>
<circle cx="248.3" cy="642.9" r="17" fill="#f9f300"/>
<circle cx="247.3" cy="643.3" r="17" fill="#f9f200"/>
<circle cx="246.3" cy="643.7" r="17" fill="#faf100"/>
<circle cx="245.3" cy="644.1" r="17" fill="#fbf100"/>
<circle cx="244.3" cy="644.5" r="17" fill="#fcf000"/>
<circle cx="243.3" cy="644.8" r="17" fill="#fdef00"/>
<circle cx="242.3" cy="645.2" r="17" fill="#feee00"/>
<circle cx="241.3" cy="645.6" r="17" fill="#ffed00"/>
<circle cx="240.3" cy="646.0" r="17" fill="#ffec00"/>
<circle cx="239.3" cy="646.4" r="17" fill="#ffeb00"/>
<circle cx="238.3" cy="646.8" r="17" fill="#ffea00"/>
<circle cx="237.3" cy="647.2" r="17" fill="#ffe900"/>
<circle cx="236.3" cy="647.6" r="17" fill="#ffe800"/>
<circle cx="235.3" cy="648.0" r="17" fill="#ffe700"/>
<circle cx="234.3" cy="648.3" r="17" fill="#ffe600"/>
<circle cx="233.3" cy="648.7" r="17" fill="#ffe500"/>
<circle cx="232.3" cy="649.1" r="17" fill="#ffe400"/>
<circle cx="231.3" cy="649.5" r="17" fill="#ffe300"/>
<circle cx="230.3" cy="649.9" r="17" fill="#ffe200"/>
<circle cx="229.3" cy="650.3" r="17" fill="#ffe100"/>
<circle cx="228.3" cy="650.7" r="17" fill="#ffe000"/>
<circle cx="227.3" cy="651.1" r="17" fill="#ffdf00"/>
<circle cx="226.3" cy="651.5" r="17" fill="#ffde00"/>
<circle cx="225.3" cy="651.8" r="17" fill="#ffdd00"/>
<circle cx="224.3" cy="652.2" r="17" fill="#ffdc00"/>
<circle cx="223.3" cy="652.6" r="17" fill="#ffdb00"/>
<circle cx="222.3" cy="653.0" r="17" fill="#ffda00"/>
<circle cx="221.3" cy="653.4" r="17" fill="#ffd900"/>
<circle cx="220.3" cy="653.8" r="17" fill="#ffd800"/>
<circle cx="219.3" cy="654.2" r="17" fill="#ffd700"/>
<circle cx="218.3" cy="654.6" r="17" fill="#ffd600"/>
<circle cx="217.3" cy="654.9" r="17" fill="#ffd500"/>
<circle cx="216.3" cy="655.3" r="17" fill="#ffd400"/>
<circle cx="215.3" cy="655.7" r="17" fill="#ffd300"/>
<circle cx="214.3" cy="656.1" r="17" fill="#ffd200"/>
<circle cx="213.3" cy="656.5" r="17" fill="#ffd200"/>
<circle cx="211.5" cy="657.2" r="17" fill="#ffd000"/>
<circle cx="212.5" cy="658.3" r="17" fill="#ffca00"/>
<circle cx="213.5" cy="658.5" r="17" fill="#ffc900"/>
<circle cx="214.4" cy="658.8" r="17" fill="#ffc800"/>
<circle cx="215.4" cy="659.1" r="17" fill="#ffc800"/>
<circle cx="216.4" cy="659.4" r="17" fill="#ffc700"/>
<circle cx="217.4" cy="659.7" r="17" fill="#ffc600"/>
<circle cx="218.4" cy="659.9" r="17" fill="#ffc500"/>
<circle cx="219.4" cy="660.2" r="17" fill="#ffc400"/>
<circle cx="220.3" cy="660.5" r="17" fill="#ffc300"/>
<circle cx="221.3" cy="660.8" r="17" fill="#ffc200"/>
<circle cx="222.3" cy="661.0" r="17" fill="#ffc100"/>
<circle cx="223.3" cy="661.3" r="17" fill="#ffc100"/>
<circle cx="224.3" cy="661.6" r="17" fill="#ffc000"/>
<circle cx="225.2" cy="661.9" r="17" fill="#ffbf00"/>
<circle cx="226.2" cy="662.2" r="17" fill="#ffbe00"/>
<circle cx="227.2" cy="662.4" r="17" fill="#ffbd00"/>
<circle cx="228.2" cy="662.7" r="17" fill="#ffbc00"/>
<circle cx="229.2" cy="663.0" r="17" fill="#ffbb00"/>
<circle cx="230.1" cy="663.3" r="17" fill="#ffba00"/>
<circle cx="231.1" cy="663.6" r="17" fill="#ffba00"/>
<circle cx="232.1" cy="663.8" r="17" fill="#ffb900"/>
<circle cx="233.1" cy="664.1" r="17" fill="#ffb800"/>
<circle cx="234.1" cy="664.4" r="17" fill="#ffb700"/>
<circle cx="235.1" cy="664.7" r="17" fill="#ffb600"/>
<circle cx="236.0" cy="664.9" r="17" fill="#ffb500"/>
<circle cx="237.0" cy="665.2" r="17" fill="#ffb400"/>
<circle cx="238.0" cy="665.5" r="17" fill="#ffb300"/>
<circle cx="239.0" cy="665.8" r="17" fill="#ffb300"/>
<circle cx="239.9" cy="666.1" r="17" fill="#ffb200"/>
<circle cx="240.9" cy="666.4" r="17" fill="#ffb100"/>
<circle cx="241.9" cy="666.6" r="17" fill="#ffb000"/>
<circle cx="242.8" cy="666.9" r="17" fill="#ffb000"/>
<circle cx="243.8" cy="667.2" r="17" fill="#ffaf00"/>
<circle cx="244.8" cy="667.5" r="17" fill="#ffae00"/>
<circle cx="245.8" cy="667.8" r="17" fill="#ffad00"/>
<circle cx="246.7" cy="668.1" r="17" fill="#ffac00"/>
<circle cx="247.7" cy="668.3" r="17" fill="#ffac00"/>
<circle cx="248.7" cy="668.6" r="17" fill="#ffab00"/>
<circle cx="249.6" cy="668.9" r="17" fill="#ffaa00"/>
<circle cx="250.6" cy="669.2" r="17" fill="#ffa900"/>
<circle cx="251.6" cy="669.5" r="17" fill="#ffa800"/>
<circle cx="252.5" cy="669.8" r="17" fill="#ffa800"/>
<circle cx="253.5" cy="670.1" r="17" fill="#ffa700"/>
<circle cx="254.5" cy="670.3" r="17" fill="#ffa600"/>
<circle cx="255.5" cy="670.6" r="17" fill="#ffa500"/>
<circle cx="256.4" cy="670.9" r="17" fill="#ffa400"/>
<circle cx="257.4" cy="671.2" r="17" fill="#ffa400"/>
<circle cx="258.4" cy="671.5" r="17" fill="#ffa300"/>
<circle cx="259.3" cy="671.8" r="17" fill="#ffa200"/>
<circle cx="260.3" cy="672.1" r="17" fill="#ffa100"/>
<circle cx="261.3" cy="672.3" r="17" fill="#ffa100"/>
<circle cx="262.2" cy="672.6" r="17" fill="#ffa000"/>
<circle cx="263.2" cy="672.9" r="17" fill="#ff9f00"/>
<circle cx="264.2" cy="673.2" r="17" fill="#ff9e00"/>
<circle cx="265.2" cy="673.5" r="17" fill="#ff9d00"/>
<circle cx="266.1" cy="673.8" r="17" fill="#ff9d00"/>
<circle cx="267.1" cy="674.0" r="17" fill="#ff9c00"/>
<circle cx="268.1" cy="674.3" r="17" fill="#ff9b00"/>
<circle cx="269.0" cy="674.6" r="17" fill="#ff9a00"/>
<circle cx="270.0" cy="674.9" r="17" fill="#ff9900"/>
<circle cx="271.0" cy="675.2" r="17" fill="#ff9900"/>
<circle cx="271.9" cy="675.5" r="17" fill="#ff9800"/>
<circle cx="272.9" cy="675.8" r="17" fill="#ff9700"/>
<circle cx="273.9" cy="676.0" r="17" fill="#ff9600"/>
<circle cx="274.8" cy="676.3" r="17" fill="#ff9600"/>
<circle cx="275.8" cy="676.6" r="17" fill="#ff9500"/>
<circle cx="276.8" cy="676.9" r="17" fill="#ff9400"/>
<circle cx="277.8" cy="677.2" r="17" fill="#ff9300"/>
<circle cx="278.7" cy="677.5" r="17" fill="#ff9200"/>
<circle cx="279.7" cy="677.7" r="17" fill="#ff9200"/>
<circle cx="280.7" cy="678.0" r="17" fill="#ff9100"/>
<circle cx="281.6" cy="678.3" r="17" fill="#ff9000"/>
<circle cx="282.6" cy="678.6" r="17" fill="#ff8f00"/>
<circle cx="283.6" cy="678.9" r="17" fill="#ff8e00"/>
<circle cx="284.5" cy="679.2" r="17" fill="#ff8e00"/>
<circle cx="285.5" cy="679.5" r="17" fill="#ff8d00"/>
<circle cx="286.5" cy="679.7" r="17" fill="#ff8c00"/>
<circle cx="287.5" cy="680.0" r="17" fill="#ff8b00"/>
<circle cx="288.4" cy="680.3" r="17" fill="#ff8b00"/>
<circle cx="289.4" cy="680.6" r="17" fill="#ff8a00"/>
<circle cx="290.4" cy="680.9" r="17" fill="#ff8900"/>
<circle cx="291.3" cy="681.2" r="17" fill="#ff8800"/>
<circle cx="292.3" cy="681.5" r="17" fill="#ff8700"/>
<circle cx="293.3" cy="681.7" r="17" fill="#ff8700"/>
<circle cx="294.2" cy="682.0" r="17" fill="#ff8600"/>
<circle cx="295.2" cy="682.3" r="17" fill="#ff8500"/>
<circle cx="296.2" cy="682.6" r="17" fill="#ff8400"/>
<circle cx="297.2" cy="682.9" r="17" fill="#ff8300"/>
<circle cx="298.1" cy="683.2" r="17" fill="#ff8300"/>
<circle cx="299.1" cy="683.4" r="17" fill="#ff8200"/>
<circle cx="300.1" cy="683.7" r="17" fill="#ff8100"/>
<circle cx="301.0" cy="684.0" r="17" fill="#ff8000"/>
<circle cx="302.0" cy="684.3" r="17" fill="#ff8000"/>
<circle cx="303.0" cy="684.6" r="17" fill="#ff7e00"/>
<circle cx="304.0" cy="684.9" r="17" fill="#ff7d00"/>
<circle cx="304.9" cy="685.1" r="17" fill="#ff7c00"/>
<circle cx="305.9" cy="685.4" r="17" fill="#ff7b00"/>
<circle cx="306.9" cy="685.7" r="17" fill="#ff7a00"/>
<circle cx="307.9" cy="686.0" r="17" fill="#ff7900"/>
<circle cx="308.9" cy="686.3" r="17" fill="#ff7700"/>
<circle cx="309.8" cy="686.5" r="17" fill="#ff7600"/>
<circle cx="310.8" cy="686.8" r="17" fill="#ff7500"/>
<circle cx="311.8" cy="687.1" r="17" fill="#ff7400"/>
<circle cx="312.8" cy="687.4" r="17" fill="#ff7300"/>
<circle cx="313.8" cy="687.7" r="17" fill="#ff7200"/>
<circle cx="314.7" cy="687.9" r="17" fill="#ff7000"/>
<circle cx="315.7" cy="688.2" r="17" fill="#ff6f00"/>
<circle cx="316.7" cy="688.5" r="17" fill="#ff6e00"/>
<circle cx="317.7" cy="688.8" r="17" fill="#ff6d00"/>
<circle cx="318.7" cy="689.1" r="17" fill="#ff6c00"/>
<circle cx="319.6" cy="689.3" r="17" fill="#ff6b00"/>
<circle cx="320.6" cy="689.6" r="17" fill="#ff6a00"/>
<circle cx="321.6" cy="689.9" r="17" fill="#ff6800"/>
<circle cx="322.6" cy="690.2" r="17" fill="#ff6700"/>
<circle cx="323.6" cy="690.5" r="17" fill="#ff6600"/>
<circle cx="324.5" cy="690.7" r="17" fill="#ff6500"/>
<circle cx="325.5" cy="691.0" r="17" fill="#ff6400"/>
<circle cx="326.5" cy="691.3" r="17" fill="#ff6300"/>
<circle cx="327.5" cy="691.6" r="17" fill="#ff6100"/>
<circle cx="328.4" cy="691.8" r="17" fill="#ff6000"/>
<circle cx="329.4" cy="692.1" r="17" fill="#ff5f00"/>
<circle cx="330.4" cy="692.4" r="17" fill="#ff5e00"/>
<circle cx="331.4" cy="692.7" r="17" fill="#ff5d00"/>
<circle cx="332.4" cy="693.0" r="17" fill="#ff5c00"/>
<circle cx="333.3" cy="693.2" r="17" fill="#ff5a00"/>
<circle cx="334.3" cy="693.5" r="17" fill="#ff5900"/>
<circle cx="335.3" cy="693.8" r="17" fill="#ff5800"/>
<circle cx="336.3" cy="694.1" r="17" fill="#ff5700"/>
<circle cx="337.3" cy="694.4" r="17" fill="#ff5600"/>
<circle cx="338.2" cy="694.6" r="17" fill="#ff5500"/>
<circle cx="339.2" cy="694.9" r="17" fill="#ff5400"/>
<circle cx="340.2" cy="695.2" r="17" fill="#ff5200"/>
<circle cx="341.2" cy="695.5" r="17" fill="#ff5100"/>
<circle cx="342.2" cy="695.8" r="17" fill="#ff5000"/>
<circle cx="343.1" cy="696.0" r="17" fill="#ff4f00"/>
<circle cx="344.1" cy="696.3" r="17" fill="#ff4e00"/>
<circle cx="345.1" cy="696.6" r="17" fill="#ff4d00"/>
<circle cx="346.1" cy="696.9" r="17" fill="#ff4b00"/>
<circle cx="347.1" cy="697.2" r="17" fill="#ff4a00"/>
<circle cx="348.0" cy="697.4" r="17" fill="#ff4900"/>
<circle cx="349.0" cy="697.7" r="17" fill="#ff4800"/>
<circle cx="350.0" cy="698.0" r="17" fill="#ff4700"/>
<circle cx="351.0" cy="698.3" r="17" fill="#ff4500"/>
<circle cx="352.0" cy="698.6" r="17" fill="#ff4300"/>
<circle cx="353.0" cy="698.9" r="17" fill="#ff4100"/>
<circle cx="354.0" cy="699.2" r="17" fill="#ff3f00"/>
<circle cx="355.0" cy="699.5" r="17" fill="#ff3d00"/>
<circle cx="356.0" cy="699.8" r="17" fill="#ff3a00"/>
<circle cx="357.0" cy="700.1" r="17" fill="#ff3800"/>
<circle cx="358.0" cy="700.4" r="17" fill="#ff3600"/>
<circle cx="359.0" cy="700.7" r="17" fill="#ff3400"/>
<circle cx="360.0" cy="701.0" r="17" fill="#ff3200"/>
<circle cx="361.0" cy="701.3" r="17" fill="#ff3000"/>
<circle cx="362.0" cy="701.6" r="17" fill="#ff2e00"/>
<circle cx="363.0" cy="701.9" r="17" fill="#ff2c00"/>
<circle cx="364.0" cy="702.2" r="17" fill="#ff2a00"/>
<circle cx="365.0" cy="702.5" r="17" fill="#ff2800"/>
<circle cx="366.0" cy="702.8" r="17" fill="#ff2600"/>
<circle cx="367.0" cy="703.1" r="17" fill="#ff2300"/>
<circle cx="368.0" cy="703.5" r="17" fill="#ff2000"/>
<circle cx="369.0" cy="703.8" r="17" fill="#ff1e00"/>
<circle cx="370.0" cy="704.1" r="17" fill="#ff1b00"/>
<circle cx="371.0" cy="704.5" r="17" fill="#ff1800"/>
<circle cx="372.0" cy="704.8" r="17" fill="#ff1500"/>
<circle cx="373.0" cy="705.1" r="17" fill="#ff1200"/>
<circle cx="374.0" cy="705.5" r="17" fill="#fb1000"/>
<circle cx="375.0" cy="705.8" r="17" fill="#f80d00"/>
<circle cx="376.0" cy="706.1" r="17" fill="#f40a00"/>
<circle cx="377.0" cy="706.5" r="17" fill="#f10700"/>
<circle cx="378.0" cy="706.8" r="17" fill="#ee0500"/>
<circle cx="379.0" cy="707.1" r="17" fill="#e90100"/>
<circle cx="380.0" cy="707.5" r="17" fill="#e40000"/>
<circle cx="381.0" cy="707.8" r="17" fill="#df0000"/>
<circle cx="382.0" cy="708.1" r="17" fill="#da0000"/>
<circle cx="383.0" cy="708.5" r="17" fill="#d50000"/>
<circle cx="384.0" cy="708.8" r="17" fill="#d10000"/>
<circle cx="393.7" cy="713.6" r="17" fill="#800000"/>
<g fill="none" stroke="#042b72" stroke-opacity="0.85" stroke-width="4.1">
<circle cx="341.1" cy="332.1" r="16.4"/>
<circle cx="415.2" cy="358.2" r="16.4"/>
<circle cx="436.8" cy="345.8" r="16.4"/>
<circle cx="351.6" cy="388.4" r="16.4"/>
<circle cx="379.5" cy="384.3" r="16.4"/>
<circle cx="365" cy="394" r="16.4"/>
<circle cx="347" cy="407.5" r="16.4"/>
<circle cx="393" cy="422" r="16.4"/>
<circle cx="410.3" cy="420" r="16.4"/>
<circle cx="388" cy="440" r="16.4"/>
<circle cx="389" cy="450.5" r="16.4"/>
<circle cx="409" cy="448" r="16.4"/>
<circle cx="409" cy="460.5" r="16.4"/>
<circle cx="441.5" cy="432" r="16.4"/>
<circle cx="442.5" cy="423.5" r="16.4"/>
<circle cx="461.5" cy="399.6" r="16.4"/>
<circle cx="463.7" cy="389.6" r="16.4"/>
<circle cx="472.8" cy="422" r="16.4"/>
<circle cx="465" cy="404.4" r="16.4"/>
<circle cx="484" cy="357.7" r="16.4"/>
<circle cx="499.4" cy="375.2" r="16.4"/>
<circle cx="490" cy="387.4" r="16.4"/>
<circle cx="507.5" cy="326.4" r="16.4"/>
<circle cx="529.6" cy="318.8" r="16.4"/>
<circle cx="528.4" cy="373.4" r="16.4"/>
<circle cx="554" cy="352.3" r="16.4"/>
<circle cx="556" cy="362.5" r="16.4"/>
<circle cx="616.2" cy="318.2" r="16.4"/>
<circle cx="594.9" cy="338.4" r="16.4"/>
<circle cx="621" cy="345.4" r="16.4"/>
<circle cx="620.8" cy="366.5" r="16.4"/>
<circle cx="627" cy="376.7" r="16.4"/>
<circle cx="655" cy="400.5" r="16.4"/>
<circle cx="676.6" cy="346.7" r="16.4"/>
<circle cx="686.5" cy="382" r="16.4"/>
<circle cx="688.5" cy="384" r="16.4"/>
<circle cx="574.9" cy="404.4" r="16.4"/>
<circle cx="610.8" cy="440.1" r="16.4"/>
<circle cx="570.6" cy="452.7" r="16.4"/>
<circle cx="570.6" cy="456.7" r="16.4"/>
<circle cx="530.5" cy="436.1" r="16.4"/>
<circle cx="493.3" cy="467.4" r="16.4"/>
<circle cx="476.6" cy="487.8" r="16.4"/>
<circle cx="503.8" cy="527" r="16.4"/>
<circle cx="491.1" cy="565.8" r="16.4"/>
<circle cx="368.2" cy="490.6" r="16.4"/>
<circle cx="352.5" cy="529.6" r="16.4"/>
<circle cx="400.8" cy="523.2" r="16.4"/>
<circle cx="382.7" cy="551.6" r="16.4"/>
<circle cx="390.1" cy="637.8" r="16.4"/>
<circle cx="267.3" cy="465.5" r="16.4"/>
<circle cx="272.9" cy="470.8" r="16.4"/>
<circle cx="275.6" cy="475.1" r="16.4"/>
<circle cx="295.6" cy="475.8" r="16.4"/>
<circle cx="314" cy="446" r="16.4"/>
<circle cx="320" cy="463" r="16.4"/>
<circle cx="325.4" cy="465" r="16.4"/>
<circle cx="329.5" cy="463.5" r="16.4"/>
<circle cx="343" cy="422" r="16.4"/>
<circle cx="337" cy="418" r="16.4"/>
<circle cx="333" cy="444.4" r="16.4"/>
</g>
<g fill="#0ed3dc" fill-opacity="0.85" stroke="#042b72" stroke-opacity="0.85" stroke-width="4.2" stroke-linejoin="miter" stroke-miterlimit="10">
<path d="M486.5,272.3 L500.5,294.5 L486.5,316.7 L472.5,294.5 Z"/>
<path d="M372.5,303.40000000000003 L386.5,325.6 L372.5,347.8 L358.5,325.6 Z"/>
<path d="M437.5,308.2 L451.5,330.4 L437.5,352.59999999999997 L423.5,330.4 Z"/>
<path d="M574.6,309.0 L588.6,331.2 L574.6,353.4 L560.6,331.2 Z"/>
<path d="M638.5,316.6 L652.5,338.8 L638.5,361.0 L624.5,338.8 Z"/>
<path d="M271.9,365.5 L285.9,387.7 L271.9,409.9 L257.9,387.7 Z"/>
<path d="M369.7,356.2 L383.7,378.4 L369.7,400.59999999999997 L355.7,378.4 Z"/>
<path d="M308.2,388.0 L322.2,410.2 L308.2,432.4 L294.2,410.2 Z"/>
<path d="M364.8,412.6 L378.8,434.8 L364.8,457.0 L350.8,434.8 Z"/>
<path d="M505.5,413.8 L519.5,436 L505.5,458.2 L491.5,436 Z"/>
<path d="M536.5,353.40000000000003 L550.5,375.6 L536.5,397.8 L522.5,375.6 Z"/>
<path d="M654,354.1 L668,376.3 L654,398.5 L640,376.3 Z"/>
<path d="M447,442.8 L461,465 L447,487.2 L433,465 Z"/>
<path d="M312.6,499.2 L326.6,521.4 L312.6,543.6 L298.6,521.4 Z"/>
<path d="M412.4,517.4 L426.4,539.6 L412.4,561.8000000000001 L398.4,539.6 Z"/>
</g>
<g fill="none" stroke="#48ed0e" stroke-opacity="0.85" stroke-width="4.8">
<circle cx="883.4" cy="39.9" r="7.9"/>
<circle cx="801" cy="130" r="7.9"/>
<circle cx="787.5" cy="148.5" r="7.9"/>
<circle cx="784.7" cy="161.2" r="7.9"/>
<circle cx="778.1" cy="193.9" r="7.9"/>
<circle cx="803.6" cy="207.4" r="7.9"/>
<circle cx="781.4" cy="228" r="7.9"/>
<circle cx="783.6" cy="230.2" r="7.9"/>
<circle cx="791.2" cy="265.8" r="7.9"/>
<circle cx="839.6" cy="259.2" r="7.9"/>
</g>
<circle cx="899" cy="295.2" r="18" fill="#000"/>
<circle cx="899" cy="295.2" r="15" fill="none" stroke="#999" stroke-width="0.7" stroke-dasharray="3 2.5"/>
</g>
<defs>
<radialGradient id="gR" cx="0.62" cy="0.42" r="0.62" fx="0.68" fy="0.38"><stop offset="0" stop-color="#ff1e1e"/><stop offset="0.55" stop-color="#ee0000"/><stop offset="1" stop-color="#a40000"/></radialGradient>
<radialGradient id="gO" cx="0.62" cy="0.42" r="0.62" fx="0.68" fy="0.38"><stop offset="0" stop-color="#ffc21a"/><stop offset="0.55" stop-color="#f2ad00"/><stop offset="1" stop-color="#b98100"/></radialGradient>
<radialGradient id="gG" cx="0.62" cy="0.42" r="0.62" fx="0.68" fy="0.38"><stop offset="0" stop-color="#2cff2c"/><stop offset="0.55" stop-color="#00dd00"/><stop offset="1" stop-color="#009200"/></radialGradient>
<radialGradient id="gN" cx="0.62" cy="0.42" r="0.62" fx="0.68" fy="0.38"><stop offset="0" stop-color="#2a2ad0"/><stop offset="0.55" stop-color="#0a0aa8"/><stop offset="1" stop-color="#000068"/></radialGradient>
<marker id="ah" viewBox="0 0 10 10" refX="9" refY="5" markerWidth="7" markerHeight="7" orient="auto" markerUnits="userSpaceOnUse"><path d="M0,0 L10,5 L0,10 L2.5,5 Z" fill="#000"/></marker>
</defs>
<line x1="1234" y1="128" x2="1231.3" y2="11.5" stroke="#000" stroke-width="1.4" marker-end="url(#ah)"/>
<line x1="1234" y1="128" x2="1176.5" y2="268.5" stroke="#000" stroke-width="1.4" marker-end="url(#ah)"/>
<line x1="1380" y1="154.5" x2="1428" y2="161.5" stroke="#000" stroke-width="1.4" marker-end="url(#ah)"/>
<line x1="1248.4" y1="56.1" x2="1393.7" y2="81.8" stroke="#5b5f60" stroke-width="3.2"/>
<line x1="1248.4" y1="56.1" x2="1393.7" y2="81.8" stroke="#8c9090" stroke-width="0.96" stroke-opacity="0.7"/>
<line x1="1248.4" y1="56.1" x2="1220.1" y2="127.3" stroke="#5b5f60" stroke-width="3.2"/>
<line x1="1248.4" y1="56.1" x2="1220.1" y2="127.3" stroke="#8c9090" stroke-width="0.96" stroke-opacity="0.7"/>
<line x1="1248.4" y1="56.1" x2="1250.8" y2="132.2" stroke="#5b5f60" stroke-width="3.2"/>
<line x1="1248.4" y1="56.1" x2="1250.8" y2="132.2" stroke="#8c9090" stroke-width="0.96" stroke-opacity="0.7"/>
<line x1="1393.7" y1="81.8" x2="1367.3" y2="153.5" stroke="#5b5f60" stroke-width="3.2"/>
<line x1="1393.7" y1="81.8" x2="1367.3" y2="153.5" stroke="#8c9090" stroke-width="0.96" stroke-opacity="0.7"/>
<line x1="1393.7" y1="81.8" x2="1393.7" y2="158.4" stroke="#5b5f60" stroke-width="3.2"/>
<line x1="1393.7" y1="81.8" x2="1393.7" y2="158.4" stroke="#8c9090" stroke-width="0.96" stroke-opacity="0.7"/>
<line x1="1220.1" y1="127.3" x2="1221.2" y2="205" stroke="#5b5f60" stroke-width="3.2"/>
<line x1="1220.1" y1="127.3" x2="1221.2" y2="205" stroke="#8c9090" stroke-width="0.96" stroke-opacity="0.7"/>
<line x1="1250.8" y1="132.2" x2="1221.2" y2="205" stroke="#5b5f60" stroke-width="3.2"/>
<line x1="1250.8" y1="132.2" x2="1221.2" y2="205" stroke="#8c9090" stroke-width="0.96" stroke-opacity="0.7"/>
<line x1="1367.3" y1="153.5" x2="1366.2" y2="230.8" stroke="#5b5f60" stroke-width="3.2"/>
<line x1="1367.3" y1="153.5" x2="1366.2" y2="230.8" stroke="#8c9090" stroke-width="0.96" stroke-opacity="0.7"/>
<line x1="1393.7" y1="158.4" x2="1366.2" y2="230.8" stroke="#5b5f60" stroke-width="3.2"/>
<line x1="1393.7" y1="158.4" x2="1366.2" y2="230.8" stroke="#8c9090" stroke-width="0.96" stroke-opacity="0.7"/>
<line x1="1221.2" y1="205" x2="1366.2" y2="230.8" stroke="#5b5f60" stroke-width="3.2"/>
<line x1="1221.2" y1="205" x2="1366.2" y2="230.8" stroke="#8c9090" stroke-width="0.96" stroke-opacity="0.7"/>
<line x1="1329.2" y1="146.8" x2="1297.1" y2="103.1" stroke="#5b5f60" stroke-width="3.0"/>
<line x1="1329.2" y1="146.8" x2="1297.1" y2="103.1" stroke="#8c9090" stroke-width="0.90" stroke-opacity="0.7"/>
<line x1="1329.2" y1="146.8" x2="1311.9" y2="104.9" stroke="#5b5f60" stroke-width="3.0"/>
<line x1="1329.2" y1="146.8" x2="1311.9" y2="104.9" stroke="#8c9090" stroke-width="0.90" stroke-opacity="0.7"/>
<line x1="1329.2" y1="146.8" x2="1283.2" y2="177" stroke="#5b5f60" stroke-width="3.0"/>
<line x1="1329.2" y1="146.8" x2="1283.2" y2="177" stroke="#8c9090" stroke-width="0.90" stroke-opacity="0.7"/>
<line x1="1329.2" y1="146.8" x2="1297.8" y2="179.3" stroke="#5b5f60" stroke-width="3.0"/>
<line x1="1329.2" y1="146.8" x2="1297.8" y2="179.3" stroke="#8c9090" stroke-width="0.90" stroke-opacity="0.7"/>
<circle cx="1297.1" cy="103.1" r="9.2" fill="url(#gO)"/>
<circle cx="1311.9" cy="104.9" r="9.2" fill="url(#gO)"/>
<circle cx="1283.2" cy="177" r="9.2" fill="url(#gO)"/>
<circle cx="1297.8" cy="179.3" r="9.2" fill="url(#gO)"/>
<circle cx="1250.8" cy="132.2" r="13.8" fill="url(#gR)"/>
<circle cx="1237.3" cy="132.2" r="9.2" fill="url(#gO)"/>
<line x1="1220.1" y1="127.3" x2="1367.3" y2="153.5" stroke="#5b5f60" stroke-width="3.2"/>
<line x1="1220.1" y1="127.3" x2="1367.3" y2="153.5" stroke="#8c9090" stroke-width="0.96" stroke-opacity="0.7"/>
<circle cx="1220.1" cy="127.3" r="13.8" fill="url(#gR)"/>
<circle cx="1393.7" cy="158.4" r="13.8" fill="url(#gR)"/>
<circle cx="1384" cy="156.9" r="9.2" fill="url(#gO)"/>
<circle cx="1367.3" cy="153.5" r="13.8" fill="url(#gR)"/>
<circle cx="1248.4" cy="56.1" r="13.8" fill="url(#gR)"/>
<circle cx="1393.7" cy="81.8" r="13.8" fill="url(#gR)"/>
<circle cx="1221.2" cy="205" r="13.8" fill="url(#gR)"/>
<circle cx="1366.2" cy="230.8" r="13.8" fill="url(#gR)"/>
<circle cx="1329.2" cy="146.8" r="4.8" fill="url(#gG)"/>
<line x1="1388.6" y1="158" x2="1468" y2="170.6" stroke="#0000e0" stroke-width="5.6"/>
<polygon points="1465.5,160.8 1492.5,176 1468.5,185.5" fill="#0000f0"/>
<line x1="1232.8" y1="367.7" x2="1231.7" y2="249" stroke="#000" stroke-width="1.4" marker-end="url(#ah)"/>
<line x1="1232.8" y1="367.7" x2="1437" y2="404" stroke="#000" stroke-width="1.4" marker-end="url(#ah)"/>
<line x1="1232.8" y1="367.7" x2="1177" y2="510" stroke="#000" stroke-width="1.4" marker-end="url(#ah)"/>
<line x1="1335.5" y1="281.5" x2="1308.6" y2="353.2" stroke="#5b5f60" stroke-width="3.2"/>
<line x1="1335.5" y1="281.5" x2="1308.6" y2="353.2" stroke="#8c9090" stroke-width="0.96" stroke-opacity="0.7"/>
<line x1="1335.5" y1="281.5" x2="1408.7" y2="349.8" stroke="#5b5f60" stroke-width="3.2"/>
<line x1="1335.5" y1="281.5" x2="1408.7" y2="349.8" stroke="#8c9090" stroke-width="0.96" stroke-opacity="0.7"/>
<line x1="1408.7" y1="349.8" x2="1383" y2="422.6" stroke="#5b5f60" stroke-width="3.2"/>
<line x1="1408.7" y1="349.8" x2="1383" y2="422.6" stroke="#8c9090" stroke-width="0.96" stroke-opacity="0.7"/>
<line x1="1205.9" y1="411.4" x2="1279.4" y2="478.6" stroke="#5b5f60" stroke-width="3.2"/>
<line x1="1205.9" y1="411.4" x2="1279.4" y2="478.6" stroke="#8c9090" stroke-width="0.96" stroke-opacity="0.7"/>
<line x1="1279.4" y1="478.6" x2="1306.8" y2="406.9" stroke="#5b5f60" stroke-width="3.2"/>
<line x1="1279.4" y1="478.6" x2="1306.8" y2="406.9" stroke="#8c9090" stroke-width="0.96" stroke-opacity="0.7"/>
<line x1="1233.9" y1="340.8" x2="1383" y2="422.6" stroke="#5b5f60" stroke-width="3.2"/>
<line x1="1233.9" y1="340.8" x2="1383" y2="422.6" stroke="#8c9090" stroke-width="0.96" stroke-opacity="0.7"/>
<line x1="1233.9" y1="340.8" x2="1335.5" y2="281.5" stroke="#3c3c3c" stroke-width="3.4"/>
<line x1="1233.9" y1="340.8" x2="1335.5" y2="281.5" stroke="#666" stroke-width="1.02" stroke-opacity="0.7"/>
<line x1="1279.4" y1="478.6" x2="1383" y2="422.6" stroke="#3c3c3c" stroke-width="3.4"/>
<line x1="1279.4" y1="478.6" x2="1383" y2="422.6" stroke="#666" stroke-width="1.02" stroke-opacity="0.7"/>
<line x1="1205.9" y1="411.4" x2="1308.6" y2="353.2" stroke="#3c3c3c" stroke-width="3.4"/>
<line x1="1205.9" y1="411.4" x2="1308.6" y2="353.2" stroke="#666" stroke-width="1.02" stroke-opacity="0.7"/>
<line x1="1306.8" y1="406.9" x2="1408.7" y2="349.8" stroke="#3c3c3c" stroke-width="3.4"/>
<line x1="1306.8" y1="406.9" x2="1408.7" y2="349.8" stroke="#666" stroke-width="1.02" stroke-opacity="0.7"/>
<line x1="1231.4" y1="340.8" x2="1203.4" y2="411.4" stroke="#5b5f60" stroke-width="3.2"/>
<line x1="1231.4" y1="340.8" x2="1203.4" y2="411.4" stroke="#8c9090" stroke-width="0.96" stroke-opacity="0.7"/>
<line x1="1236.4" y1="340.8" x2="1208.4" y2="411.4" stroke="#5b5f60" stroke-width="3.2"/>
<line x1="1236.4" y1="340.8" x2="1208.4" y2="411.4" stroke="#8c9090" stroke-width="0.96" stroke-opacity="0.7"/>
<circle cx="1319.1" cy="347.6" r="9.2" fill="url(#gO)"/>
<circle cx="1306.8" cy="406.9" r="13.8" fill="url(#gR)"/>
<line x1="1321.8" y1="373.8" x2="1263.1" y2="350.9" stroke="#5b5f60" stroke-width="3.0"/>
<line x1="1321.8" y1="373.8" x2="1263.1" y2="350.9" stroke="#8c9090" stroke-width="0.90" stroke-opacity="0.7"/>
<line x1="1321.8" y1="373.8" x2="1359" y2="351.4" stroke="#5b5f60" stroke-width="3.0"/>
<line x1="1321.8" y1="373.8" x2="1359" y2="351.4" stroke="#8c9090" stroke-width="0.90" stroke-opacity="0.7"/>
<line x1="1321.8" y1="373.8" x2="1256.8" y2="409.2" stroke="#5b5f60" stroke-width="3.0"/>
<line x1="1321.8" y1="373.8" x2="1256.8" y2="409.2" stroke="#8c9090" stroke-width="0.90" stroke-opacity="0.7"/>
<line x1="1321.8" y1="373.8" x2="1286.2" y2="421.1" stroke="#5b5f60" stroke-width="3.0"/>
<line x1="1321.8" y1="373.8" x2="1286.2" y2="421.1" stroke="#8c9090" stroke-width="0.90" stroke-opacity="0.7"/>
<line x1="1321.8" y1="373.8" x2="1336.6" y2="418.6" stroke="#5b5f60" stroke-width="3.0"/>
<line x1="1321.8" y1="373.8" x2="1336.6" y2="418.6" stroke="#8c9090" stroke-width="0.90" stroke-opacity="0.7"/>
<circle cx="1263.1" cy="350.9" r="9.2" fill="url(#gO)"/>
<circle cx="1359" cy="351.4" r="9.2" fill="url(#gO)"/>
<circle cx="1256.8" cy="409.2" r="9.2" fill="url(#gO)"/>
<circle cx="1286.2" cy="421.1" r="9.2" fill="url(#gO)"/>
<circle cx="1336.6" cy="418.6" r="9.2" fill="url(#gO)"/>
<circle cx="1321.8" cy="373.8" r="4.8" fill="url(#gG)"/>
<circle cx="1335.5" cy="281.5" r="13.8" fill="url(#gR)"/>
<circle cx="1233.9" cy="340.8" r="13.8" fill="url(#gR)"/>
<circle cx="1308.6" cy="353.2" r="13.8" fill="url(#gR)"/>
<circle cx="1408.7" cy="349.8" r="13.8" fill="url(#gR)"/>
<circle cx="1205.9" cy="411.4" r="13.8" fill="url(#gR)"/>
<circle cx="1383" cy="422.6" r="13.8" fill="url(#gR)"/>
<circle cx="1279.4" cy="478.6" r="13.8" fill="url(#gR)"/>
<line x1="1365" y1="348.7" x2="1424" y2="316" stroke="#000080" stroke-width="5.6"/>
<polygon points="1414.5,306 1442,305 1430,328.5" fill="#0000f0"/>
<line x1="1234" y1="634.4" x2="1231.7" y2="518.5" stroke="#000" stroke-width="1.4" marker-end="url(#ah)"/>
<line x1="1234" y1="634.4" x2="1438" y2="672.8" stroke="#000" stroke-width="1.4" marker-end="url(#ah)"/>
<line x1="1234" y1="634.4" x2="1176.2" y2="779" stroke="#000" stroke-width="1.4" marker-end="url(#ah)"/>
<line x1="1269.1" y1="550.4" x2="1372.9" y2="567.9" stroke="#5b5f60" stroke-width="3.2"/>
<line x1="1269.1" y1="550.4" x2="1372.9" y2="567.9" stroke="#8c9090" stroke-width="0.96" stroke-opacity="0.7"/>
<line x1="1269.1" y1="550.4" x2="1240.7" y2="621.7" stroke="#5b5f60" stroke-width="3.2"/>
<line x1="1269.1" y1="550.4" x2="1240.7" y2="621.7" stroke="#8c9090" stroke-width="0.96" stroke-opacity="0.7"/>
<line x1="1269.1" y1="550.4" x2="1269.8" y2="656.9" stroke="#5b5f60" stroke-width="3.2"/>
<line x1="1269.1" y1="550.4" x2="1269.8" y2="656.9" stroke="#8c9090" stroke-width="0.96" stroke-opacity="0.7"/>
<line x1="1372.9" y1="567.9" x2="1346.7" y2="640.7" stroke="#5b5f60" stroke-width="3.2"/>
<line x1="1372.9" y1="567.9" x2="1346.7" y2="640.7" stroke="#8c9090" stroke-width="0.96" stroke-opacity="0.7"/>
<line x1="1372.9" y1="567.9" x2="1371.3" y2="675.9" stroke="#5b5f60" stroke-width="3.2"/>
<line x1="1372.9" y1="567.9" x2="1371.3" y2="675.9" stroke="#8c9090" stroke-width="0.96" stroke-opacity="0.7"/>
<line x1="1240.7" y1="621.7" x2="1242.2" y2="729.7" stroke="#5b5f60" stroke-width="3.2"/>
<line x1="1240.7" y1="621.7" x2="1242.2" y2="729.7" stroke="#8c9090" stroke-width="0.96" stroke-opacity="0.7"/>
<line x1="1269.8" y1="656.9" x2="1242.2" y2="729.7" stroke="#5b5f60" stroke-width="3.2"/>
<line x1="1269.8" y1="656.9" x2="1242.2" y2="729.7" stroke="#8c9090" stroke-width="0.96" stroke-opacity="0.7"/>
<line x1="1346.7" y1="640.7" x2="1345.5" y2="748.3" stroke="#5b5f60" stroke-width="3.2"/>
<line x1="1346.7" y1="640.7" x2="1345.5" y2="748.3" stroke="#8c9090" stroke-width="0.96" stroke-opacity="0.7"/>
<line x1="1371.3" y1="675.9" x2="1345.5" y2="748.3" stroke="#5b5f60" stroke-width="3.2"/>
<line x1="1371.3" y1="675.9" x2="1345.5" y2="748.3" stroke="#8c9090" stroke-width="0.96" stroke-opacity="0.7"/>
<line x1="1242.2" y1="729.7" x2="1345.5" y2="748.3" stroke="#5b5f60" stroke-width="3.2"/>
<line x1="1242.2" y1="729.7" x2="1345.5" y2="748.3" stroke="#8c9090" stroke-width="0.96" stroke-opacity="0.7"/>
<line x1="1269.8" y1="656.9" x2="1371.3" y2="675.9" stroke="#5b5f60" stroke-width="3.2"/>
<line x1="1269.8" y1="656.9" x2="1371.3" y2="675.9" stroke="#8c9090" stroke-width="0.96" stroke-opacity="0.7"/>
<line x1="1240.7" y1="621.7" x2="1346.7" y2="640.7" stroke="#5b5f60" stroke-width="3.2"/>
<line x1="1240.7" y1="621.7" x2="1346.7" y2="640.7" stroke="#8c9090" stroke-width="0.96" stroke-opacity="0.7"/>
<line x1="1306.8" y1="634.4" x2="1306.8" y2="595.2" stroke="#5b5f60" stroke-width="3.0"/>
<line x1="1306.8" y1="634.4" x2="1306.8" y2="595.2" stroke="#8c9090" stroke-width="0.90" stroke-opacity="0.7"/>
<line x1="1306.8" y1="634.4" x2="1320.9" y2="621" stroke="#5b5f60" stroke-width="3.0"/>
<line x1="1306.8" y1="634.4" x2="1320.9" y2="621" stroke="#8c9090" stroke-width="0.90" stroke-opacity="0.7"/>
<line x1="1306.8" y1="634.4" x2="1255.9" y2="646.8" stroke="#5b5f60" stroke-width="3.0"/>
<line x1="1306.8" y1="634.4" x2="1255.9" y2="646.8" stroke="#8c9090" stroke-width="0.90" stroke-opacity="0.7"/>
<line x1="1306.8" y1="634.4" x2="1359" y2="666.9" stroke="#5b5f60" stroke-width="3.0"/>
<line x1="1306.8" y1="634.4" x2="1359" y2="666.9" stroke="#8c9090" stroke-width="0.90" stroke-opacity="0.7"/>
<line x1="1306.8" y1="634.4" x2="1293.3" y2="693.2" stroke="#5b5f60" stroke-width="3.0"/>
<line x1="1306.8" y1="634.4" x2="1293.3" y2="693.2" stroke="#8c9090" stroke-width="0.90" stroke-opacity="0.7"/>
<line x1="1306.8" y1="634.4" x2="1307.4" y2="702.8" stroke="#5b5f60" stroke-width="3.0"/>
<line x1="1306.8" y1="634.4" x2="1307.4" y2="702.8" stroke="#8c9090" stroke-width="0.90" stroke-opacity="0.7"/>
<circle cx="1269.8" cy="656.9" r="13.8" fill="url(#gR)"/>
<circle cx="1371.3" cy="675.9" r="13.8" fill="url(#gR)"/>
<circle cx="1306.8" cy="595.2" r="9.2" fill="url(#gO)"/>
<circle cx="1320.9" cy="621" r="9.2" fill="url(#gO)"/>
<circle cx="1255.9" cy="646.8" r="9.2" fill="url(#gO)"/>
<circle cx="1359" cy="666.9" r="9.2" fill="url(#gO)"/>
<circle cx="1293.3" cy="693.2" r="9.2" fill="url(#gO)"/>
<circle cx="1307.4" cy="702.8" r="9.2" fill="url(#gO)"/>
<circle cx="1306.8" cy="634.4" r="4.8" fill="url(#gG)"/>
<circle cx="1269.1" cy="550.4" r="13.8" fill="url(#gR)"/>
<circle cx="1372.9" cy="567.9" r="13.8" fill="url(#gR)"/>
<circle cx="1240.7" cy="621.7" r="13.8" fill="url(#gR)"/>
<circle cx="1346.7" cy="640.7" r="13.8" fill="url(#gR)"/>
<circle cx="1242.2" cy="729.7" r="13.8" fill="url(#gR)"/>
<circle cx="1345.5" cy="748.3" r="13.8" fill="url(#gR)"/>
<line x1="1306.8" y1="590" x2="1306.8" y2="530" stroke="#0000e8" stroke-width="5.6"/>
<path d="M1306.8,508.5 C1312,514 1320,519 1319.5,526 C1318,532 1312,531 1306.8,534 C1301.6,531 1295.6,532 1294.1,526 C1293.6,519 1301.6,514 1306.8,508.5 Z" fill="#0000f0"/>
<defs><clipPath id="clipB"><rect x="159.4" y="905.5" width="625.8" height="327.3"/></clipPath></defs>
<g clip-path="url(#clipB)">
<circle cx="190.0" cy="1180.0" r="14.9" fill="#0000c0" stroke="#0000a5" stroke-width="1"/>
<circle cx="190.0" cy="1180.0" r="12.6" fill="none" stroke="#fff" stroke-opacity="0.75" stroke-width="0.8" stroke-dasharray="2.2 1.5"/>
<circle cx="211.5" cy="1139.0" r="14.9" fill="#0000c0" stroke="#0000a5" stroke-width="1"/>
<circle cx="211.5" cy="1139.0" r="12.6" fill="none" stroke="#fff" stroke-opacity="0.75" stroke-width="0.8" stroke-dasharray="2.2 1.5"/>
<circle cx="262.0" cy="1074.0" r="14.9" fill="#0000c0" stroke="#0000a5" stroke-width="1"/>
<circle cx="262.0" cy="1074.0" r="12.6" fill="none" stroke="#fff" stroke-opacity="0.75" stroke-width="0.8" stroke-dasharray="2.2 1.5"/>
<circle cx="324.0" cy="1031.6" r="14.9" fill="#0000c0" stroke="#0000a5" stroke-width="1"/>
<circle cx="324.0" cy="1031.6" r="12.6" fill="none" stroke="#fff" stroke-opacity="0.75" stroke-width="0.8" stroke-dasharray="2.2 1.5"/>
<circle cx="387.0" cy="1009.0" r="14.9" fill="#0000c0" stroke="#0000a5" stroke-width="1"/>
<circle cx="387.0" cy="1009.0" r="12.6" fill="none" stroke="#fff" stroke-opacity="0.75" stroke-width="0.8" stroke-dasharray="2.2 1.5"/>
<circle cx="444.5" cy="995.5" r="14.9" fill="#0000c0" stroke="#0000a5" stroke-width="1"/>
<circle cx="444.5" cy="995.5" r="12.6" fill="none" stroke="#fff" stroke-opacity="0.75" stroke-width="0.8" stroke-dasharray="2.2 1.5"/>
<circle cx="493.2" cy="987.1" r="14.9" fill="#0000c0" stroke="#0000a5" stroke-width="1"/>
<circle cx="493.2" cy="987.1" r="12.6" fill="none" stroke="#fff" stroke-opacity="0.75" stroke-width="0.8" stroke-dasharray="2.2 1.5"/>
<circle cx="535.0" cy="982.3" r="14.9" fill="#0000c0" stroke="#0000a5" stroke-width="1"/>
<circle cx="535.0" cy="982.3" r="12.6" fill="none" stroke="#fff" stroke-opacity="0.75" stroke-width="0.8" stroke-dasharray="2.2 1.5"/>
<circle cx="570.3" cy="979.1" r="14.9" fill="#0000c0" stroke="#0000a5" stroke-width="1"/>
<circle cx="570.3" cy="979.1" r="12.6" fill="none" stroke="#fff" stroke-opacity="0.75" stroke-width="0.8" stroke-dasharray="2.2 1.5"/>
<circle cx="598.4" cy="978.0" r="14.9" fill="#0000c0" stroke="#0000a5" stroke-width="1"/>
<circle cx="598.4" cy="978.0" r="12.6" fill="none" stroke="#fff" stroke-opacity="0.75" stroke-width="0.8" stroke-dasharray="2.2 1.5"/>
<circle cx="618.1" cy="976.6" r="14.9" fill="#0000c0" stroke="#0000a5" stroke-width="1"/>
<circle cx="618.1" cy="976.6" r="12.6" fill="none" stroke="#fff" stroke-opacity="0.75" stroke-width="0.8" stroke-dasharray="2.2 1.5"/>
<circle cx="635.9" cy="976.1" r="14.9" fill="#0000c0" stroke="#0000a5" stroke-width="1"/>
<circle cx="635.9" cy="976.1" r="12.6" fill="none" stroke="#fff" stroke-opacity="0.75" stroke-width="0.8" stroke-dasharray="2.2 1.5"/>
<circle cx="649.0" cy="975.7" r="14.9" fill="#0000c0" stroke="#0000a5" stroke-width="1"/>
<circle cx="649.0" cy="975.7" r="12.6" fill="none" stroke="#fff" stroke-opacity="0.75" stroke-width="0.8" stroke-dasharray="2.2 1.5"/>
<circle cx="661.2" cy="975.2" r="14.9" fill="#0000c0" stroke="#0000a5" stroke-width="1"/>
<circle cx="661.2" cy="975.2" r="12.6" fill="none" stroke="#fff" stroke-opacity="0.75" stroke-width="0.8" stroke-dasharray="2.2 1.5"/>
<circle cx="664.5" cy="974.9" r="14.9" fill="#0000c0" stroke="#0000a5" stroke-width="1"/>
<circle cx="664.5" cy="974.9" r="12.6" fill="none" stroke="#fff" stroke-opacity="0.75" stroke-width="0.8" stroke-dasharray="2.2 1.5"/>
<circle cx="667.8" cy="974.6" r="14.9" fill="#0000c0" stroke="#0000a5" stroke-width="1"/>
<circle cx="667.8" cy="974.6" r="12.6" fill="none" stroke="#fff" stroke-opacity="0.75" stroke-width="0.8" stroke-dasharray="2.2 1.5"/>
<circle cx="671.0" cy="974.3" r="14.9" fill="#0000c0" stroke="#0000a5" stroke-width="1"/>
<circle cx="671.0" cy="974.3" r="12.6" fill="none" stroke="#fff" stroke-opacity="0.75" stroke-width="0.8" stroke-dasharray="2.2 1.5"/>
<circle cx="674.3" cy="974.0" r="14.9" fill="#0000c0" stroke="#0000a5" stroke-width="1"/>
<circle cx="674.3" cy="974.0" r="12.6" fill="none" stroke="#fff" stroke-opacity="0.75" stroke-width="0.8" stroke-dasharray="2.2 1.5"/>
<circle cx="677.2" cy="973.1" r="14.9" fill="#0000c0" stroke="#0000a5" stroke-width="1"/>
<circle cx="677.2" cy="973.1" r="12.6" fill="none" stroke="#fff" stroke-opacity="0.75" stroke-width="0.8" stroke-dasharray="2.2 1.5"/>
<circle cx="680.1" cy="972.2" r="14.9" fill="#0000c0" stroke="#0000a5" stroke-width="1"/>
<circle cx="680.1" cy="972.2" r="12.6" fill="none" stroke="#fff" stroke-opacity="0.75" stroke-width="0.8" stroke-dasharray="2.2 1.5"/>
<circle cx="683.1" cy="971.4" r="14.9" fill="#0000c0" stroke="#0000a5" stroke-width="1"/>
<circle cx="683.1" cy="971.4" r="12.6" fill="none" stroke="#fff" stroke-opacity="0.75" stroke-width="0.8" stroke-dasharray="2.2 1.5"/>
<circle cx="686.0" cy="970.5" r="14.9" fill="#0000c0" stroke="#0000a5" stroke-width="1"/>
<circle cx="686.0" cy="970.5" r="12.6" fill="none" stroke="#fff" stroke-opacity="0.75" stroke-width="0.8" stroke-dasharray="2.2 1.5"/>
<circle cx="689.8" cy="969.3" r="14.9" fill="#0000c0" stroke="#0000a5" stroke-width="1"/>
<circle cx="689.8" cy="969.3" r="12.6" fill="none" stroke="#fff" stroke-opacity="0.75" stroke-width="0.8" stroke-dasharray="2.2 1.5"/>
<circle cx="693.6" cy="968.1" r="14.9" fill="#0000c0" stroke="#0000a5" stroke-width="1"/>
<circle cx="693.6" cy="968.1" r="12.6" fill="none" stroke="#fff" stroke-opacity="0.75" stroke-width="0.8" stroke-dasharray="2.2 1.5"/>
<circle cx="697.4" cy="966.9" r="14.9" fill="#0000c0" stroke="#0000a5" stroke-width="1"/>
<circle cx="697.4" cy="966.9" r="12.6" fill="none" stroke="#fff" stroke-opacity="0.75" stroke-width="0.8" stroke-dasharray="2.2 1.5"/>
<circle cx="701.2" cy="965.7" r="14.9" fill="#0000c0" stroke="#0000a5" stroke-width="1"/>
<circle cx="701.2" cy="965.7" r="12.6" fill="none" stroke="#fff" stroke-opacity="0.75" stroke-width="0.8" stroke-dasharray="2.2 1.5"/>
<circle cx="705.2" cy="963.5" r="14.9" fill="#0000c0" stroke="#0000a5" stroke-width="1"/>
<circle cx="705.2" cy="963.5" r="12.6" fill="none" stroke="#fff" stroke-opacity="0.75" stroke-width="0.8" stroke-dasharray="2.2 1.5"/>
<circle cx="709.2" cy="961.3" r="14.9" fill="#0000c0" stroke="#0000a5" stroke-width="1"/>
<circle cx="709.2" cy="961.3" r="12.6" fill="none" stroke="#fff" stroke-opacity="0.75" stroke-width="0.8" stroke-dasharray="2.2 1.5"/>
<circle cx="713.3" cy="959.1" r="14.9" fill="#0000c0" stroke="#0000a5" stroke-width="1"/>
<circle cx="713.3" cy="959.1" r="12.6" fill="none" stroke="#fff" stroke-opacity="0.75" stroke-width="0.8" stroke-dasharray="2.2 1.5"/>
<circle cx="717.3" cy="956.9" r="14.9" fill="#0000c0" stroke="#0000a5" stroke-width="1"/>
<circle cx="717.3" cy="956.9" r="12.6" fill="none" stroke="#fff" stroke-opacity="0.75" stroke-width="0.8" stroke-dasharray="2.2 1.5"/>
<circle cx="721.7" cy="954.5" r="14.9" fill="#0000c0" stroke="#0000a5" stroke-width="1"/>
<circle cx="721.7" cy="954.5" r="12.6" fill="none" stroke="#fff" stroke-opacity="0.75" stroke-width="0.8" stroke-dasharray="2.2 1.5"/>
<circle cx="726.1" cy="952.0" r="14.9" fill="#0000c0" stroke="#0000a5" stroke-width="1"/>
<circle cx="726.1" cy="952.0" r="12.6" fill="none" stroke="#fff" stroke-opacity="0.75" stroke-width="0.8" stroke-dasharray="2.2 1.5"/>
<circle cx="730.6" cy="949.6" r="14.9" fill="#0000c0" stroke="#0000a5" stroke-width="1"/>
<circle cx="730.6" cy="949.6" r="12.6" fill="none" stroke="#fff" stroke-opacity="0.75" stroke-width="0.8" stroke-dasharray="2.2 1.5"/>
<circle cx="735.0" cy="947.2" r="14.9" fill="#0000c0" stroke="#0000a5" stroke-width="1"/>
<circle cx="735.0" cy="947.2" r="12.6" fill="none" stroke="#fff" stroke-opacity="0.75" stroke-width="0.8" stroke-dasharray="2.2 1.5"/>
<circle cx="739.5" cy="944.7" r="14.9" fill="#0000c0" stroke="#0000a5" stroke-width="1"/>
<circle cx="739.5" cy="944.7" r="12.6" fill="none" stroke="#fff" stroke-opacity="0.75" stroke-width="0.8" stroke-dasharray="2.2 1.5"/>
<circle cx="744.0" cy="942.2" r="14.9" fill="#0000c0" stroke="#0000a5" stroke-width="1"/>
<circle cx="744.0" cy="942.2" r="12.6" fill="none" stroke="#fff" stroke-opacity="0.75" stroke-width="0.8" stroke-dasharray="2.2 1.5"/>
<circle cx="748.5" cy="939.7" r="14.9" fill="#0000c0" stroke="#0000a5" stroke-width="1"/>
<circle cx="748.5" cy="939.7" r="12.6" fill="none" stroke="#fff" stroke-opacity="0.75" stroke-width="0.8" stroke-dasharray="2.2 1.5"/>
<circle cx="753.0" cy="937.2" r="14.9" fill="#0000c0" stroke="#0000a5" stroke-width="1"/>
<circle cx="753.0" cy="937.2" r="12.6" fill="none" stroke="#fff" stroke-opacity="0.75" stroke-width="0.8" stroke-dasharray="2.2 1.5"/>
<circle cx="211.0" cy="1173.7" r="14.9" fill="#0000ff" stroke="#0000db" stroke-width="1"/>
<circle cx="211.0" cy="1173.7" r="12.6" fill="none" stroke="#fff" stroke-opacity="0.75" stroke-width="0.8" stroke-dasharray="2.2 1.5"/>
<circle cx="230.6" cy="1137.6" r="14.9" fill="#0000ff" stroke="#0000db" stroke-width="1"/>
<circle cx="230.6" cy="1137.6" r="12.6" fill="none" stroke="#fff" stroke-opacity="0.75" stroke-width="0.8" stroke-dasharray="2.2 1.5"/>
<circle cx="276.4" cy="1081.3" r="14.9" fill="#0000ff" stroke="#0000db" stroke-width="1"/>
<circle cx="276.4" cy="1081.3" r="12.6" fill="none" stroke="#fff" stroke-opacity="0.75" stroke-width="0.8" stroke-dasharray="2.2 1.5"/>
<circle cx="334.4" cy="1041.6" r="14.9" fill="#0000ff" stroke="#0000db" stroke-width="1"/>
<circle cx="334.4" cy="1041.6" r="12.6" fill="none" stroke="#fff" stroke-opacity="0.75" stroke-width="0.8" stroke-dasharray="2.2 1.5"/>
<circle cx="393.2" cy="1017.9" r="14.9" fill="#0000ff" stroke="#0000db" stroke-width="1"/>
<circle cx="393.2" cy="1017.9" r="12.6" fill="none" stroke="#fff" stroke-opacity="0.75" stroke-width="0.8" stroke-dasharray="2.2 1.5"/>
<circle cx="447.4" cy="1003.2" r="14.9" fill="#0000ff" stroke="#0000db" stroke-width="1"/>
<circle cx="447.4" cy="1003.2" r="12.6" fill="none" stroke="#fff" stroke-opacity="0.75" stroke-width="0.8" stroke-dasharray="2.2 1.5"/>
<circle cx="494.0" cy="993.8" r="14.9" fill="#0000ff" stroke="#0000db" stroke-width="1"/>
<circle cx="494.0" cy="993.8" r="12.6" fill="none" stroke="#fff" stroke-opacity="0.75" stroke-width="0.8" stroke-dasharray="2.2 1.5"/>
<circle cx="534.8" cy="988.3" r="14.9" fill="#0000ff" stroke="#0000db" stroke-width="1"/>
<circle cx="534.8" cy="988.3" r="12.6" fill="none" stroke="#fff" stroke-opacity="0.75" stroke-width="0.8" stroke-dasharray="2.2 1.5"/>
<circle cx="570.3" cy="983.4" r="14.9" fill="#0000ff" stroke="#0000db" stroke-width="1"/>
<circle cx="570.3" cy="983.4" r="12.6" fill="none" stroke="#fff" stroke-opacity="0.75" stroke-width="0.8" stroke-dasharray="2.2 1.5"/>
<circle cx="598.9" cy="980.5" r="14.9" fill="#0000ff" stroke="#0000db" stroke-width="1"/>
<circle cx="598.9" cy="980.5" r="12.6" fill="none" stroke="#fff" stroke-opacity="0.75" stroke-width="0.8" stroke-dasharray="2.2 1.5"/>
<circle cx="618.3" cy="978.5" r="14.9" fill="#0000ff" stroke="#0000db" stroke-width="1"/>
<circle cx="618.3" cy="978.5" r="12.6" fill="none" stroke="#fff" stroke-opacity="0.75" stroke-width="0.8" stroke-dasharray="2.2 1.5"/>
<circle cx="636.2" cy="977.3" r="14.9" fill="#0000ff" stroke="#0000db" stroke-width="1"/>
<circle cx="636.2" cy="977.3" r="12.6" fill="none" stroke="#fff" stroke-opacity="0.75" stroke-width="0.8" stroke-dasharray="2.2 1.5"/>
<circle cx="649.6" cy="976.0" r="14.9" fill="#0000ff" stroke="#0000db" stroke-width="1"/>
<circle cx="649.6" cy="976.0" r="12.6" fill="none" stroke="#fff" stroke-opacity="0.75" stroke-width="0.8" stroke-dasharray="2.2 1.5"/>
<circle cx="661.9" cy="975.0" r="14.9" fill="#0000ff" stroke="#0000db" stroke-width="1"/>
<circle cx="661.9" cy="975.0" r="12.6" fill="none" stroke="#fff" stroke-opacity="0.75" stroke-width="0.8" stroke-dasharray="2.2 1.5"/>
<circle cx="665.2" cy="974.6" r="14.9" fill="#0000ff" stroke="#0000db" stroke-width="1"/>
<circle cx="665.2" cy="974.6" r="12.6" fill="none" stroke="#fff" stroke-opacity="0.75" stroke-width="0.8" stroke-dasharray="2.2 1.5"/>
<circle cx="668.4" cy="974.3" r="14.9" fill="#0000ff" stroke="#0000db" stroke-width="1"/>
<circle cx="668.4" cy="974.3" r="12.6" fill="none" stroke="#fff" stroke-opacity="0.75" stroke-width="0.8" stroke-dasharray="2.2 1.5"/>
<circle cx="671.6" cy="973.9" r="14.9" fill="#0000ff" stroke="#0000db" stroke-width="1"/>
<circle cx="671.6" cy="973.9" r="12.6" fill="none" stroke="#fff" stroke-opacity="0.75" stroke-width="0.8" stroke-dasharray="2.2 1.5"/>
<circle cx="674.9" cy="973.6" r="14.9" fill="#0000ff" stroke="#0000db" stroke-width="1"/>
<circle cx="674.9" cy="973.6" r="12.6" fill="none" stroke="#fff" stroke-opacity="0.75" stroke-width="0.8" stroke-dasharray="2.2 1.5"/>
<circle cx="677.8" cy="972.7" r="14.9" fill="#0000ff" stroke="#0000db" stroke-width="1"/>
<circle cx="677.8" cy="972.7" r="12.6" fill="none" stroke="#fff" stroke-opacity="0.75" stroke-width="0.8" stroke-dasharray="2.2 1.5"/>
<circle cx="680.7" cy="971.8" r="14.9" fill="#0000ff" stroke="#0000db" stroke-width="1"/>
<circle cx="680.7" cy="971.8" r="12.6" fill="none" stroke="#fff" stroke-opacity="0.75" stroke-width="0.8" stroke-dasharray="2.2 1.5"/>
<circle cx="683.5" cy="970.9" r="14.9" fill="#0000ff" stroke="#0000db" stroke-width="1"/>
<circle cx="683.5" cy="970.9" r="12.6" fill="none" stroke="#fff" stroke-opacity="0.75" stroke-width="0.8" stroke-dasharray="2.2 1.5"/>
<circle cx="686.4" cy="970.1" r="14.9" fill="#0000ff" stroke="#0000db" stroke-width="1"/>
<circle cx="686.4" cy="970.1" r="12.6" fill="none" stroke="#fff" stroke-opacity="0.75" stroke-width="0.8" stroke-dasharray="2.2 1.5"/>
<circle cx="690.2" cy="968.9" r="14.9" fill="#0000ff" stroke="#0000db" stroke-width="1"/>
<circle cx="690.2" cy="968.9" r="12.6" fill="none" stroke="#fff" stroke-opacity="0.75" stroke-width="0.8" stroke-dasharray="2.2 1.5"/>
<circle cx="693.9" cy="967.6" r="14.9" fill="#0000ff" stroke="#0000db" stroke-width="1"/>
<circle cx="693.9" cy="967.6" r="12.6" fill="none" stroke="#fff" stroke-opacity="0.75" stroke-width="0.8" stroke-dasharray="2.2 1.5"/>
<circle cx="697.7" cy="966.4" r="14.9" fill="#0000ff" stroke="#0000db" stroke-width="1"/>
<circle cx="697.7" cy="966.4" r="12.6" fill="none" stroke="#fff" stroke-opacity="0.75" stroke-width="0.8" stroke-dasharray="2.2 1.5"/>
<circle cx="701.4" cy="965.2" r="14.9" fill="#0000ff" stroke="#0000db" stroke-width="1"/>
<circle cx="701.4" cy="965.2" r="12.6" fill="none" stroke="#fff" stroke-opacity="0.75" stroke-width="0.8" stroke-dasharray="2.2 1.5"/>
<circle cx="705.4" cy="963.1" r="14.9" fill="#0000ff" stroke="#0000db" stroke-width="1"/>
<circle cx="705.4" cy="963.1" r="12.6" fill="none" stroke="#fff" stroke-opacity="0.75" stroke-width="0.8" stroke-dasharray="2.2 1.5"/>
<circle cx="709.4" cy="961.0" r="14.9" fill="#0000ff" stroke="#0000db" stroke-width="1"/>
<circle cx="709.4" cy="961.0" r="12.6" fill="none" stroke="#fff" stroke-opacity="0.75" stroke-width="0.8" stroke-dasharray="2.2 1.5"/>
<circle cx="713.4" cy="958.8" r="14.9" fill="#0000ff" stroke="#0000db" stroke-width="1"/>
<circle cx="713.4" cy="958.8" r="12.6" fill="none" stroke="#fff" stroke-opacity="0.75" stroke-width="0.8" stroke-dasharray="2.2 1.5"/>
<circle cx="717.4" cy="956.7" r="14.9" fill="#0000ff" stroke="#0000db" stroke-width="1"/>
<circle cx="717.4" cy="956.7" r="12.6" fill="none" stroke="#fff" stroke-opacity="0.75" stroke-width="0.8" stroke-dasharray="2.2 1.5"/>
<circle cx="721.8" cy="954.3" r="14.9" fill="#0000ff" stroke="#0000db" stroke-width="1"/>
<circle cx="721.8" cy="954.3" r="12.6" fill="none" stroke="#fff" stroke-opacity="0.75" stroke-width="0.8" stroke-dasharray="2.2 1.5"/>
<circle cx="726.2" cy="951.9" r="14.9" fill="#0000ff" stroke="#0000db" stroke-width="1"/>
<circle cx="726.2" cy="951.9" r="12.6" fill="none" stroke="#fff" stroke-opacity="0.75" stroke-width="0.8" stroke-dasharray="2.2 1.5"/>
<circle cx="730.6" cy="949.6" r="14.9" fill="#0000ff" stroke="#0000db" stroke-width="1"/>
<circle cx="730.6" cy="949.6" r="12.6" fill="none" stroke="#fff" stroke-opacity="0.75" stroke-width="0.8" stroke-dasharray="2.2 1.5"/>
<circle cx="735.0" cy="947.2" r="14.9" fill="#0000ff" stroke="#0000db" stroke-width="1"/>
<circle cx="735.0" cy="947.2" r="12.6" fill="none" stroke="#fff" stroke-opacity="0.75" stroke-width="0.8" stroke-dasharray="2.2 1.5"/>
<circle cx="739.5" cy="944.7" r="14.9" fill="#0000ff" stroke="#0000db" stroke-width="1"/>
<circle cx="739.5" cy="944.7" r="12.6" fill="none" stroke="#fff" stroke-opacity="0.75" stroke-width="0.8" stroke-dasharray="2.2 1.5"/>
<circle cx="744.0" cy="942.2" r="14.9" fill="#0000ff" stroke="#0000db" stroke-width="1"/>
<circle cx="744.0" cy="942.2" r="12.6" fill="none" stroke="#fff" stroke-opacity="0.75" stroke-width="0.8" stroke-dasharray="2.2 1.5"/>
<circle cx="748.5" cy="939.7" r="14.9" fill="#0000ff" stroke="#0000db" stroke-width="1"/>
<circle cx="748.5" cy="939.7" r="12.6" fill="none" stroke="#fff" stroke-opacity="0.75" stroke-width="0.8" stroke-dasharray="2.2 1.5"/>
<circle cx="753.0" cy="937.2" r="14.9" fill="#0000ff" stroke="#0000db" stroke-width="1"/>
<circle cx="753.0" cy="937.2" r="12.6" fill="none" stroke="#fff" stroke-opacity="0.75" stroke-width="0.8" stroke-dasharray="2.2 1.5"/>
<circle cx="243.0" cy="1163.7" r="14.9" fill="#002aff" stroke="#0024db" stroke-width="1"/>
<circle cx="243.0" cy="1163.7" r="12.6" fill="none" stroke="#fff" stroke-opacity="0.75" stroke-width="0.8" stroke-dasharray="2.2 1.5"/>
<circle cx="259.9" cy="1134.5" r="14.9" fill="#002aff" stroke="#0024db" stroke-width="1"/>
<circle cx="259.9" cy="1134.5" r="12.6" fill="none" stroke="#fff" stroke-opacity="0.75" stroke-width="0.8" stroke-dasharray="2.2 1.5"/>
<circle cx="299.1" cy="1090.0" r="14.9" fill="#002aff" stroke="#0024db" stroke-width="1"/>
<circle cx="299.1" cy="1090.0" r="12.6" fill="none" stroke="#fff" stroke-opacity="0.75" stroke-width="0.8" stroke-dasharray="2.2 1.5"/>
<circle cx="351.1" cy="1054.3" r="14.9" fill="#002aff" stroke="#0024db" stroke-width="1"/>
<circle cx="351.1" cy="1054.3" r="12.6" fill="none" stroke="#fff" stroke-opacity="0.75" stroke-width="0.8" stroke-dasharray="2.2 1.5"/>
<circle cx="403.9" cy="1029.6" r="14.9" fill="#002aff" stroke="#0024db" stroke-width="1"/>
<circle cx="403.9" cy="1029.6" r="12.6" fill="none" stroke="#fff" stroke-opacity="0.75" stroke-width="0.8" stroke-dasharray="2.2 1.5"/>
<circle cx="453.0" cy="1013.4" r="14.9" fill="#002aff" stroke="#0024db" stroke-width="1"/>
<circle cx="453.0" cy="1013.4" r="12.6" fill="none" stroke="#fff" stroke-opacity="0.75" stroke-width="0.8" stroke-dasharray="2.2 1.5"/>
<circle cx="496.5" cy="1002.7" r="14.9" fill="#002aff" stroke="#0024db" stroke-width="1"/>
<circle cx="496.5" cy="1002.7" r="12.6" fill="none" stroke="#fff" stroke-opacity="0.75" stroke-width="0.8" stroke-dasharray="2.2 1.5"/>
<circle cx="535.5" cy="996.3" r="14.9" fill="#002aff" stroke="#0024db" stroke-width="1"/>
<circle cx="535.5" cy="996.3" r="12.6" fill="none" stroke="#fff" stroke-opacity="0.75" stroke-width="0.8" stroke-dasharray="2.2 1.5"/>
<circle cx="570.9" cy="989.2" r="14.9" fill="#002aff" stroke="#0024db" stroke-width="1"/>
<circle cx="570.9" cy="989.2" r="12.6" fill="none" stroke="#fff" stroke-opacity="0.75" stroke-width="0.8" stroke-dasharray="2.2 1.5"/>
<circle cx="599.9" cy="983.9" r="14.9" fill="#002aff" stroke="#0024db" stroke-width="1"/>
<circle cx="599.9" cy="983.9" r="12.6" fill="none" stroke="#fff" stroke-opacity="0.75" stroke-width="0.8" stroke-dasharray="2.2 1.5"/>
<circle cx="618.9" cy="981.1" r="14.9" fill="#002aff" stroke="#0024db" stroke-width="1"/>
<circle cx="618.9" cy="981.1" r="12.6" fill="none" stroke="#fff" stroke-opacity="0.75" stroke-width="0.8" stroke-dasharray="2.2 1.5"/>
<circle cx="636.7" cy="979.0" r="14.9" fill="#002aff" stroke="#0024db" stroke-width="1"/>
<circle cx="636.7" cy="979.0" r="12.6" fill="none" stroke="#fff" stroke-opacity="0.75" stroke-width="0.8" stroke-dasharray="2.2 1.5"/>
<circle cx="650.5" cy="976.6" r="14.9" fill="#002aff" stroke="#0024db" stroke-width="1"/>
<circle cx="650.5" cy="976.6" r="12.6" fill="none" stroke="#fff" stroke-opacity="0.75" stroke-width="0.8" stroke-dasharray="2.2 1.5"/>
<circle cx="662.9" cy="974.8" r="14.9" fill="#002aff" stroke="#0024db" stroke-width="1"/>
<circle cx="662.9" cy="974.8" r="12.6" fill="none" stroke="#fff" stroke-opacity="0.75" stroke-width="0.8" stroke-dasharray="2.2 1.5"/>
<circle cx="666.1" cy="974.3" r="14.9" fill="#002aff" stroke="#0024db" stroke-width="1"/>
<circle cx="666.1" cy="974.3" r="12.6" fill="none" stroke="#fff" stroke-opacity="0.75" stroke-width="0.8" stroke-dasharray="2.2 1.5"/>
<circle cx="669.3" cy="973.9" r="14.9" fill="#002aff" stroke="#0024db" stroke-width="1"/>
<circle cx="669.3" cy="973.9" r="12.6" fill="none" stroke="#fff" stroke-opacity="0.75" stroke-width="0.8" stroke-dasharray="2.2 1.5"/>
<circle cx="672.5" cy="973.5" r="14.9" fill="#002aff" stroke="#0024db" stroke-width="1"/>
<circle cx="672.5" cy="973.5" r="12.6" fill="none" stroke="#fff" stroke-opacity="0.75" stroke-width="0.8" stroke-dasharray="2.2 1.5"/>
<circle cx="675.7" cy="973.0" r="14.9" fill="#002aff" stroke="#0024db" stroke-width="1"/>
<circle cx="675.7" cy="973.0" r="12.6" fill="none" stroke="#fff" stroke-opacity="0.75" stroke-width="0.8" stroke-dasharray="2.2 1.5"/>
<circle cx="678.5" cy="972.1" r="14.9" fill="#002aff" stroke="#0024db" stroke-width="1"/>
<circle cx="678.5" cy="972.1" r="12.6" fill="none" stroke="#fff" stroke-opacity="0.75" stroke-width="0.8" stroke-dasharray="2.2 1.5"/>
<circle cx="681.3" cy="971.3" r="14.9" fill="#002aff" stroke="#0024db" stroke-width="1"/>
<circle cx="681.3" cy="971.3" r="12.6" fill="none" stroke="#fff" stroke-opacity="0.75" stroke-width="0.8" stroke-dasharray="2.2 1.5"/>
<circle cx="684.2" cy="970.4" r="14.9" fill="#002aff" stroke="#0024db" stroke-width="1"/>
<circle cx="684.2" cy="970.4" r="12.6" fill="none" stroke="#fff" stroke-opacity="0.75" stroke-width="0.8" stroke-dasharray="2.2 1.5"/>
<circle cx="687.0" cy="969.5" r="14.9" fill="#002aff" stroke="#0024db" stroke-width="1"/>
<circle cx="687.0" cy="969.5" r="12.6" fill="none" stroke="#fff" stroke-opacity="0.75" stroke-width="0.8" stroke-dasharray="2.2 1.5"/>
<circle cx="690.7" cy="968.3" r="14.9" fill="#002aff" stroke="#0024db" stroke-width="1"/>
<circle cx="690.7" cy="968.3" r="12.6" fill="none" stroke="#fff" stroke-opacity="0.75" stroke-width="0.8" stroke-dasharray="2.2 1.5"/>
<circle cx="694.4" cy="967.1" r="14.9" fill="#002aff" stroke="#0024db" stroke-width="1"/>
<circle cx="694.4" cy="967.1" r="12.6" fill="none" stroke="#fff" stroke-opacity="0.75" stroke-width="0.8" stroke-dasharray="2.2 1.5"/>
<circle cx="698.0" cy="965.9" r="14.9" fill="#002aff" stroke="#0024db" stroke-width="1"/>
<circle cx="698.0" cy="965.9" r="12.6" fill="none" stroke="#fff" stroke-opacity="0.75" stroke-width="0.8" stroke-dasharray="2.2 1.5"/>
<circle cx="701.7" cy="964.6" r="14.9" fill="#002aff" stroke="#0024db" stroke-width="1"/>
<circle cx="701.7" cy="964.6" r="12.6" fill="none" stroke="#fff" stroke-opacity="0.75" stroke-width="0.8" stroke-dasharray="2.2 1.5"/>
<circle cx="705.7" cy="962.6" r="14.9" fill="#002aff" stroke="#0024db" stroke-width="1"/>
<circle cx="705.7" cy="962.6" r="12.6" fill="none" stroke="#fff" stroke-opacity="0.75" stroke-width="0.8" stroke-dasharray="2.2 1.5"/>
<circle cx="709.6" cy="960.5" r="14.9" fill="#002aff" stroke="#0024db" stroke-width="1"/>
<circle cx="709.6" cy="960.5" r="12.6" fill="none" stroke="#fff" stroke-opacity="0.75" stroke-width="0.8" stroke-dasharray="2.2 1.5"/>
<circle cx="713.6" cy="958.4" r="14.9" fill="#002aff" stroke="#0024db" stroke-width="1"/>
<circle cx="713.6" cy="958.4" r="12.6" fill="none" stroke="#fff" stroke-opacity="0.75" stroke-width="0.8" stroke-dasharray="2.2 1.5"/>
<circle cx="717.6" cy="956.4" r="14.9" fill="#002aff" stroke="#0024db" stroke-width="1"/>
<circle cx="717.6" cy="956.4" r="12.6" fill="none" stroke="#fff" stroke-opacity="0.75" stroke-width="0.8" stroke-dasharray="2.2 1.5"/>
<circle cx="721.9" cy="954.1" r="14.9" fill="#002aff" stroke="#0024db" stroke-width="1"/>
<circle cx="721.9" cy="954.1" r="12.6" fill="none" stroke="#fff" stroke-opacity="0.75" stroke-width="0.8" stroke-dasharray="2.2 1.5"/>
<circle cx="726.3" cy="951.8" r="14.9" fill="#002aff" stroke="#0024db" stroke-width="1"/>
<circle cx="726.3" cy="951.8" r="12.6" fill="none" stroke="#fff" stroke-opacity="0.75" stroke-width="0.8" stroke-dasharray="2.2 1.5"/>
<circle cx="730.6" cy="949.5" r="14.9" fill="#002aff" stroke="#0024db" stroke-width="1"/>
<circle cx="730.6" cy="949.5" r="12.6" fill="none" stroke="#fff" stroke-opacity="0.75" stroke-width="0.8" stroke-dasharray="2.2 1.5"/>
<circle cx="735.0" cy="947.2" r="14.9" fill="#002aff" stroke="#0024db" stroke-width="1"/>
<circle cx="735.0" cy="947.2" r="12.6" fill="none" stroke="#fff" stroke-opacity="0.75" stroke-width="0.8" stroke-dasharray="2.2 1.5"/>
<circle cx="739.5" cy="944.7" r="14.9" fill="#002aff" stroke="#0024db" stroke-width="1"/>
<circle cx="739.5" cy="944.7" r="12.6" fill="none" stroke="#fff" stroke-opacity="0.75" stroke-width="0.8" stroke-dasharray="2.2 1.5"/>
<circle cx="744.0" cy="942.2" r="14.9" fill="#002aff" stroke="#0024db" stroke-width="1"/>
<circle cx="744.0" cy="942.2" r="12.6" fill="none" stroke="#fff" stroke-opacity="0.75" stroke-width="0.8" stroke-dasharray="2.2 1.5"/>
<circle cx="748.5" cy="939.7" r="14.9" fill="#002aff" stroke="#0024db" stroke-width="1"/>
<circle cx="748.5" cy="939.7" r="12.6" fill="none" stroke="#fff" stroke-opacity="0.75" stroke-width="0.8" stroke-dasharray="2.2 1.5"/>
<circle cx="753.0" cy="937.2" r="14.9" fill="#002aff" stroke="#0024db" stroke-width="1"/>
<circle cx="753.0" cy="937.2" r="12.6" fill="none" stroke="#fff" stroke-opacity="0.75" stroke-width="0.8" stroke-dasharray="2.2 1.5"/>
<circle cx="282.0" cy="1150.7" r="14.9" fill="#0063ff" stroke="#0055db" stroke-width="1"/>
<circle cx="282.0" cy="1150.7" r="12.6" fill="none" stroke="#fff" stroke-opacity="0.75" stroke-width="0.8" stroke-dasharray="2.2 1.5"/>
<circle cx="296.0" cy="1128.5" r="14.9" fill="#0063ff" stroke="#0055db" stroke-width="1"/>
<circle cx="296.0" cy="1128.5" r="12.6" fill="none" stroke="#fff" stroke-opacity="0.75" stroke-width="0.8" stroke-dasharray="2.2 1.5"/>
<circle cx="328.1" cy="1096.3" r="14.9" fill="#0063ff" stroke="#0055db" stroke-width="1"/>
<circle cx="328.1" cy="1096.3" r="12.6" fill="none" stroke="#fff" stroke-opacity="0.75" stroke-width="0.8" stroke-dasharray="2.2 1.5"/>
<circle cx="373.3" cy="1065.1" r="14.9" fill="#0063ff" stroke="#0055db" stroke-width="1"/>
<circle cx="373.3" cy="1065.1" r="12.6" fill="none" stroke="#fff" stroke-opacity="0.75" stroke-width="0.8" stroke-dasharray="2.2 1.5"/>
<circle cx="419.3" cy="1039.9" r="14.9" fill="#0063ff" stroke="#0055db" stroke-width="1"/>
<circle cx="419.3" cy="1039.9" r="12.6" fill="none" stroke="#fff" stroke-opacity="0.75" stroke-width="0.8" stroke-dasharray="2.2 1.5"/>
<circle cx="462.5" cy="1022.7" r="14.9" fill="#0063ff" stroke="#0055db" stroke-width="1"/>
<circle cx="462.5" cy="1022.7" r="12.6" fill="none" stroke="#fff" stroke-opacity="0.75" stroke-width="0.8" stroke-dasharray="2.2 1.5"/>
<circle cx="502.0" cy="1011.1" r="14.9" fill="#0063ff" stroke="#0055db" stroke-width="1"/>
<circle cx="502.0" cy="1011.1" r="12.6" fill="none" stroke="#fff" stroke-opacity="0.75" stroke-width="0.8" stroke-dasharray="2.2 1.5"/>
<circle cx="538.5" cy="1004.0" r="14.9" fill="#0063ff" stroke="#0055db" stroke-width="1"/>
<circle cx="538.5" cy="1004.0" r="12.6" fill="none" stroke="#fff" stroke-opacity="0.75" stroke-width="0.8" stroke-dasharray="2.2 1.5"/>
<circle cx="573.0" cy="995.0" r="14.9" fill="#0063ff" stroke="#0055db" stroke-width="1"/>
<circle cx="573.0" cy="995.0" r="12.6" fill="none" stroke="#fff" stroke-opacity="0.75" stroke-width="0.8" stroke-dasharray="2.2 1.5"/>
<circle cx="601.8" cy="987.6" r="14.9" fill="#0063ff" stroke="#0055db" stroke-width="1"/>
<circle cx="601.8" cy="987.6" r="12.6" fill="none" stroke="#fff" stroke-opacity="0.75" stroke-width="0.8" stroke-dasharray="2.2 1.5"/>
<circle cx="619.8" cy="984.1" r="14.9" fill="#0063ff" stroke="#0055db" stroke-width="1"/>
<circle cx="619.8" cy="984.1" r="12.6" fill="none" stroke="#fff" stroke-opacity="0.75" stroke-width="0.8" stroke-dasharray="2.2 1.5"/>
<circle cx="637.4" cy="981.0" r="14.9" fill="#0063ff" stroke="#0055db" stroke-width="1"/>
<circle cx="637.4" cy="981.0" r="12.6" fill="none" stroke="#fff" stroke-opacity="0.75" stroke-width="0.8" stroke-dasharray="2.2 1.5"/>
<circle cx="651.5" cy="977.5" r="14.9" fill="#0063ff" stroke="#0055db" stroke-width="1"/>
<circle cx="651.5" cy="977.5" r="12.6" fill="none" stroke="#fff" stroke-opacity="0.75" stroke-width="0.8" stroke-dasharray="2.2 1.5"/>
<circle cx="663.9" cy="974.8" r="14.9" fill="#0063ff" stroke="#0055db" stroke-width="1"/>
<circle cx="663.9" cy="974.8" r="12.6" fill="none" stroke="#fff" stroke-opacity="0.75" stroke-width="0.8" stroke-dasharray="2.2 1.5"/>
<circle cx="667.1" cy="974.3" r="14.9" fill="#0063ff" stroke="#0055db" stroke-width="1"/>
<circle cx="667.1" cy="974.3" r="12.6" fill="none" stroke="#fff" stroke-opacity="0.75" stroke-width="0.8" stroke-dasharray="2.2 1.5"/>
<circle cx="670.2" cy="973.7" r="14.9" fill="#0063ff" stroke="#0055db" stroke-width="1"/>
<circle cx="670.2" cy="973.7" r="12.6" fill="none" stroke="#fff" stroke-opacity="0.75" stroke-width="0.8" stroke-dasharray="2.2 1.5"/>
<circle cx="673.3" cy="973.2" r="14.9" fill="#0063ff" stroke="#0055db" stroke-width="1"/>
<circle cx="673.3" cy="973.2" r="12.6" fill="none" stroke="#fff" stroke-opacity="0.75" stroke-width="0.8" stroke-dasharray="2.2 1.5"/>
<circle cx="676.5" cy="972.7" r="14.9" fill="#0063ff" stroke="#0055db" stroke-width="1"/>
<circle cx="676.5" cy="972.7" r="12.6" fill="none" stroke="#fff" stroke-opacity="0.75" stroke-width="0.8" stroke-dasharray="2.2 1.5"/>
<circle cx="679.2" cy="971.8" r="14.9" fill="#0063ff" stroke="#0055db" stroke-width="1"/>
<circle cx="679.2" cy="971.8" r="12.6" fill="none" stroke="#fff" stroke-opacity="0.75" stroke-width="0.8" stroke-dasharray="2.2 1.5"/>
<circle cx="682.0" cy="970.9" r="14.9" fill="#0063ff" stroke="#0055db" stroke-width="1"/>
<circle cx="682.0" cy="970.9" r="12.6" fill="none" stroke="#fff" stroke-opacity="0.75" stroke-width="0.8" stroke-dasharray="2.2 1.5"/>
<circle cx="684.8" cy="970.0" r="14.9" fill="#0063ff" stroke="#0055db" stroke-width="1"/>
<circle cx="684.8" cy="970.0" r="12.6" fill="none" stroke="#fff" stroke-opacity="0.75" stroke-width="0.8" stroke-dasharray="2.2 1.5"/>
<circle cx="687.5" cy="969.1" r="14.9" fill="#0063ff" stroke="#0055db" stroke-width="1"/>
<circle cx="687.5" cy="969.1" r="12.6" fill="none" stroke="#fff" stroke-opacity="0.75" stroke-width="0.8" stroke-dasharray="2.2 1.5"/>
<circle cx="691.1" cy="967.8" r="14.9" fill="#0063ff" stroke="#0055db" stroke-width="1"/>
<circle cx="691.1" cy="967.8" r="12.6" fill="none" stroke="#fff" stroke-opacity="0.75" stroke-width="0.8" stroke-dasharray="2.2 1.5"/>
<circle cx="694.8" cy="966.6" r="14.9" fill="#0063ff" stroke="#0055db" stroke-width="1"/>
<circle cx="694.8" cy="966.6" r="12.6" fill="none" stroke="#fff" stroke-opacity="0.75" stroke-width="0.8" stroke-dasharray="2.2 1.5"/>
<circle cx="698.4" cy="965.3" r="14.9" fill="#0063ff" stroke="#0055db" stroke-width="1"/>
<circle cx="698.4" cy="965.3" r="12.6" fill="none" stroke="#fff" stroke-opacity="0.75" stroke-width="0.8" stroke-dasharray="2.2 1.5"/>
<circle cx="702.0" cy="964.1" r="14.9" fill="#0063ff" stroke="#0055db" stroke-width="1"/>
<circle cx="702.0" cy="964.1" r="12.6" fill="none" stroke="#fff" stroke-opacity="0.75" stroke-width="0.8" stroke-dasharray="2.2 1.5"/>
<circle cx="705.9" cy="962.1" r="14.9" fill="#0063ff" stroke="#0055db" stroke-width="1"/>
<circle cx="705.9" cy="962.1" r="12.6" fill="none" stroke="#fff" stroke-opacity="0.75" stroke-width="0.8" stroke-dasharray="2.2 1.5"/>
<circle cx="709.8" cy="960.1" r="14.9" fill="#0063ff" stroke="#0055db" stroke-width="1"/>
<circle cx="709.8" cy="960.1" r="12.6" fill="none" stroke="#fff" stroke-opacity="0.75" stroke-width="0.8" stroke-dasharray="2.2 1.5"/>
<circle cx="713.8" cy="958.1" r="14.9" fill="#0063ff" stroke="#0055db" stroke-width="1"/>
<circle cx="713.8" cy="958.1" r="12.6" fill="none" stroke="#fff" stroke-opacity="0.75" stroke-width="0.8" stroke-dasharray="2.2 1.5"/>
<circle cx="717.7" cy="956.1" r="14.9" fill="#0063ff" stroke="#0055db" stroke-width="1"/>
<circle cx="717.7" cy="956.1" r="12.6" fill="none" stroke="#fff" stroke-opacity="0.75" stroke-width="0.8" stroke-dasharray="2.2 1.5"/>
<circle cx="722.0" cy="953.9" r="14.9" fill="#0063ff" stroke="#0055db" stroke-width="1"/>
<circle cx="722.0" cy="953.9" r="12.6" fill="none" stroke="#fff" stroke-opacity="0.75" stroke-width="0.8" stroke-dasharray="2.2 1.5"/>
<circle cx="726.3" cy="951.6" r="14.9" fill="#0063ff" stroke="#0055db" stroke-width="1"/>
<circle cx="726.3" cy="951.6" r="12.6" fill="none" stroke="#fff" stroke-opacity="0.75" stroke-width="0.8" stroke-dasharray="2.2 1.5"/>
<circle cx="730.7" cy="949.4" r="14.9" fill="#0063ff" stroke="#0055db" stroke-width="1"/>
<circle cx="730.7" cy="949.4" r="12.6" fill="none" stroke="#fff" stroke-opacity="0.75" stroke-width="0.8" stroke-dasharray="2.2 1.5"/>
<circle cx="735.0" cy="947.2" r="14.9" fill="#0063ff" stroke="#0055db" stroke-width="1"/>
<circle cx="735.0" cy="947.2" r="12.6" fill="none" stroke="#fff" stroke-opacity="0.75" stroke-width="0.8" stroke-dasharray="2.2 1.5"/>
<circle cx="739.5" cy="944.7" r="14.9" fill="#0063ff" stroke="#0055db" stroke-width="1"/>
<circle cx="739.5" cy="944.7" r="12.6" fill="none" stroke="#fff" stroke-opacity="0.75" stroke-width="0.8" stroke-dasharray="2.2 1.5"/>
<circle cx="744.0" cy="942.2" r="14.9" fill="#0063ff" stroke="#0055db" stroke-width="1"/>
<circle cx="744.0" cy="942.2" r="12.6" fill="none" stroke="#fff" stroke-opacity="0.75" stroke-width="0.8" stroke-dasharray="2.2 1.5"/>
<circle cx="748.5" cy="939.7" r="14.9" fill="#0063ff" stroke="#0055db" stroke-width="1"/>
<circle cx="748.5" cy="939.7" r="12.6" fill="none" stroke="#fff" stroke-opacity="0.75" stroke-width="0.8" stroke-dasharray="2.2 1.5"/>
<circle cx="753.0" cy="937.2" r="14.9" fill="#0063ff" stroke="#0055db" stroke-width="1"/>
<circle cx="753.0" cy="937.2" r="12.6" fill="none" stroke="#fff" stroke-opacity="0.75" stroke-width="0.8" stroke-dasharray="2.2 1.5"/>
<circle cx="327.1" cy="1134.0" r="14.9" fill="#009cff" stroke="#0086db" stroke-width="1"/>
<circle cx="327.1" cy="1134.0" r="12.6" fill="none" stroke="#fff" stroke-opacity="0.75" stroke-width="0.8" stroke-dasharray="2.2 1.5"/>
<circle cx="338.4" cy="1117.9" r="14.9" fill="#009cff" stroke="#0086db" stroke-width="1"/>
<circle cx="338.4" cy="1117.9" r="12.6" fill="none" stroke="#fff" stroke-opacity="0.75" stroke-width="0.8" stroke-dasharray="2.2 1.5"/>
<circle cx="364.1" cy="1095.6" r="14.9" fill="#009cff" stroke="#0086db" stroke-width="1"/>
<circle cx="364.1" cy="1095.6" r="12.6" fill="none" stroke="#fff" stroke-opacity="0.75" stroke-width="0.8" stroke-dasharray="2.2 1.5"/>
<circle cx="402.3" cy="1069.1" r="14.9" fill="#009cff" stroke="#0086db" stroke-width="1"/>
<circle cx="402.3" cy="1069.1" r="12.6" fill="none" stroke="#fff" stroke-opacity="0.75" stroke-width="0.8" stroke-dasharray="2.2 1.5"/>
<circle cx="441.2" cy="1044.9" r="14.9" fill="#009cff" stroke="#0086db" stroke-width="1"/>
<circle cx="441.2" cy="1044.9" r="12.6" fill="none" stroke="#fff" stroke-opacity="0.75" stroke-width="0.8" stroke-dasharray="2.2 1.5"/>
<circle cx="478.2" cy="1028.0" r="14.9" fill="#009cff" stroke="#0086db" stroke-width="1"/>
<circle cx="478.2" cy="1028.0" r="12.6" fill="none" stroke="#fff" stroke-opacity="0.75" stroke-width="0.8" stroke-dasharray="2.2 1.5"/>
<circle cx="512.9" cy="1016.4" r="14.9" fill="#009cff" stroke="#0086db" stroke-width="1"/>
<circle cx="512.9" cy="1016.4" r="12.6" fill="none" stroke="#fff" stroke-opacity="0.75" stroke-width="0.8" stroke-dasharray="2.2 1.5"/>
<circle cx="545.7" cy="1009.1" r="14.9" fill="#009cff" stroke="#0086db" stroke-width="1"/>
<circle cx="545.7" cy="1009.1" r="12.6" fill="none" stroke="#fff" stroke-opacity="0.75" stroke-width="0.8" stroke-dasharray="2.2 1.5"/>
<circle cx="577.8" cy="999.2" r="14.9" fill="#009cff" stroke="#0086db" stroke-width="1"/>
<circle cx="577.8" cy="999.2" r="12.6" fill="none" stroke="#fff" stroke-opacity="0.75" stroke-width="0.8" stroke-dasharray="2.2 1.5"/>
<circle cx="605.0" cy="990.8" r="14.9" fill="#009cff" stroke="#0086db" stroke-width="1"/>
<circle cx="605.0" cy="990.8" r="12.6" fill="none" stroke="#fff" stroke-opacity="0.75" stroke-width="0.8" stroke-dasharray="2.2 1.5"/>
<circle cx="621.3" cy="987.0" r="14.9" fill="#009cff" stroke="#0086db" stroke-width="1"/>
<circle cx="621.3" cy="987.0" r="12.6" fill="none" stroke="#fff" stroke-opacity="0.75" stroke-width="0.8" stroke-dasharray="2.2 1.5"/>
<circle cx="638.3" cy="983.2" r="14.9" fill="#009cff" stroke="#0086db" stroke-width="1"/>
<circle cx="638.3" cy="983.2" r="12.6" fill="none" stroke="#fff" stroke-opacity="0.75" stroke-width="0.8" stroke-dasharray="2.2 1.5"/>
<circle cx="652.4" cy="978.8" r="14.9" fill="#009cff" stroke="#0086db" stroke-width="1"/>
<circle cx="652.4" cy="978.8" r="12.6" fill="none" stroke="#fff" stroke-opacity="0.75" stroke-width="0.8" stroke-dasharray="2.2 1.5"/>
<circle cx="664.7" cy="975.4" r="14.9" fill="#009cff" stroke="#0086db" stroke-width="1"/>
<circle cx="664.7" cy="975.4" r="12.6" fill="none" stroke="#fff" stroke-opacity="0.75" stroke-width="0.8" stroke-dasharray="2.2 1.5"/>
<circle cx="667.8" cy="974.7" r="14.9" fill="#009cff" stroke="#0086db" stroke-width="1"/>
<circle cx="667.8" cy="974.7" r="12.6" fill="none" stroke="#fff" stroke-opacity="0.75" stroke-width="0.8" stroke-dasharray="2.2 1.5"/>
<circle cx="670.9" cy="974.1" r="14.9" fill="#009cff" stroke="#0086db" stroke-width="1"/>
<circle cx="670.9" cy="974.1" r="12.6" fill="none" stroke="#fff" stroke-opacity="0.75" stroke-width="0.8" stroke-dasharray="2.2 1.5"/>
<circle cx="674.0" cy="973.4" r="14.9" fill="#009cff" stroke="#0086db" stroke-width="1"/>
<circle cx="674.0" cy="973.4" r="12.6" fill="none" stroke="#fff" stroke-opacity="0.75" stroke-width="0.8" stroke-dasharray="2.2 1.5"/>
<circle cx="677.0" cy="972.8" r="14.9" fill="#009cff" stroke="#0086db" stroke-width="1"/>
<circle cx="677.0" cy="972.8" r="12.6" fill="none" stroke="#fff" stroke-opacity="0.75" stroke-width="0.8" stroke-dasharray="2.2 1.5"/>
<circle cx="679.7" cy="971.8" r="14.9" fill="#009cff" stroke="#0086db" stroke-width="1"/>
<circle cx="679.7" cy="971.8" r="12.6" fill="none" stroke="#fff" stroke-opacity="0.75" stroke-width="0.8" stroke-dasharray="2.2 1.5"/>
<circle cx="682.5" cy="970.9" r="14.9" fill="#009cff" stroke="#0086db" stroke-width="1"/>
<circle cx="682.5" cy="970.9" r="12.6" fill="none" stroke="#fff" stroke-opacity="0.75" stroke-width="0.8" stroke-dasharray="2.2 1.5"/>
<circle cx="685.2" cy="969.9" r="14.9" fill="#009cff" stroke="#0086db" stroke-width="1"/>
<circle cx="685.2" cy="969.9" r="12.6" fill="none" stroke="#fff" stroke-opacity="0.75" stroke-width="0.8" stroke-dasharray="2.2 1.5"/>
<circle cx="687.9" cy="969.0" r="14.9" fill="#009cff" stroke="#0086db" stroke-width="1"/>
<circle cx="687.9" cy="969.0" r="12.6" fill="none" stroke="#fff" stroke-opacity="0.75" stroke-width="0.8" stroke-dasharray="2.2 1.5"/>
<circle cx="691.4" cy="967.7" r="14.9" fill="#009cff" stroke="#0086db" stroke-width="1"/>
<circle cx="691.4" cy="967.7" r="12.6" fill="none" stroke="#fff" stroke-opacity="0.75" stroke-width="0.8" stroke-dasharray="2.2 1.5"/>
<circle cx="695.0" cy="966.4" r="14.9" fill="#009cff" stroke="#0086db" stroke-width="1"/>
<circle cx="695.0" cy="966.4" r="12.6" fill="none" stroke="#fff" stroke-opacity="0.75" stroke-width="0.8" stroke-dasharray="2.2 1.5"/>
<circle cx="698.6" cy="965.1" r="14.9" fill="#009cff" stroke="#0086db" stroke-width="1"/>
<circle cx="698.6" cy="965.1" r="12.6" fill="none" stroke="#fff" stroke-opacity="0.75" stroke-width="0.8" stroke-dasharray="2.2 1.5"/>
<circle cx="702.1" cy="963.8" r="14.9" fill="#009cff" stroke="#0086db" stroke-width="1"/>
<circle cx="702.1" cy="963.8" r="12.6" fill="none" stroke="#fff" stroke-opacity="0.75" stroke-width="0.8" stroke-dasharray="2.2 1.5"/>
<circle cx="706.0" cy="961.9" r="14.9" fill="#009cff" stroke="#0086db" stroke-width="1"/>
<circle cx="706.0" cy="961.9" r="12.6" fill="none" stroke="#fff" stroke-opacity="0.75" stroke-width="0.8" stroke-dasharray="2.2 1.5"/>
<circle cx="709.9" cy="959.9" r="14.9" fill="#009cff" stroke="#0086db" stroke-width="1"/>
<circle cx="709.9" cy="959.9" r="12.6" fill="none" stroke="#fff" stroke-opacity="0.75" stroke-width="0.8" stroke-dasharray="2.2 1.5"/>
<circle cx="713.9" cy="957.9" r="14.9" fill="#009cff" stroke="#0086db" stroke-width="1"/>
<circle cx="713.9" cy="957.9" r="12.6" fill="none" stroke="#fff" stroke-opacity="0.75" stroke-width="0.8" stroke-dasharray="2.2 1.5"/>
<circle cx="717.8" cy="956.0" r="14.9" fill="#009cff" stroke="#0086db" stroke-width="1"/>
<circle cx="717.8" cy="956.0" r="12.6" fill="none" stroke="#fff" stroke-opacity="0.75" stroke-width="0.8" stroke-dasharray="2.2 1.5"/>
<circle cx="722.1" cy="953.8" r="14.9" fill="#009cff" stroke="#0086db" stroke-width="1"/>
<circle cx="722.1" cy="953.8" r="12.6" fill="none" stroke="#fff" stroke-opacity="0.75" stroke-width="0.8" stroke-dasharray="2.2 1.5"/>
<circle cx="726.4" cy="951.6" r="14.9" fill="#009cff" stroke="#0086db" stroke-width="1"/>
<circle cx="726.4" cy="951.6" r="12.6" fill="none" stroke="#fff" stroke-opacity="0.75" stroke-width="0.8" stroke-dasharray="2.2 1.5"/>
<circle cx="730.7" cy="949.4" r="14.9" fill="#009cff" stroke="#0086db" stroke-width="1"/>
<circle cx="730.7" cy="949.4" r="12.6" fill="none" stroke="#fff" stroke-opacity="0.75" stroke-width="0.8" stroke-dasharray="2.2 1.5"/>
<circle cx="735.0" cy="947.2" r="14.9" fill="#009cff" stroke="#0086db" stroke-width="1"/>
<circle cx="735.0" cy="947.2" r="12.6" fill="none" stroke="#fff" stroke-opacity="0.75" stroke-width="0.8" stroke-dasharray="2.2 1.5"/>
<circle cx="739.5" cy="944.7" r="14.9" fill="#009cff" stroke="#0086db" stroke-width="1"/>
<circle cx="739.5" cy="944.7" r="12.6" fill="none" stroke="#fff" stroke-opacity="0.75" stroke-width="0.8" stroke-dasharray="2.2 1.5"/>
<circle cx="744.0" cy="942.2" r="14.9" fill="#009cff" stroke="#0086db" stroke-width="1"/>
<circle cx="744.0" cy="942.2" r="12.6" fill="none" stroke="#fff" stroke-opacity="0.75" stroke-width="0.8" stroke-dasharray="2.2 1.5"/>
<circle cx="748.5" cy="939.7" r="14.9" fill="#009cff" stroke="#0086db" stroke-width="1"/>
<circle cx="748.5" cy="939.7" r="12.6" fill="none" stroke="#fff" stroke-opacity="0.75" stroke-width="0.8" stroke-dasharray="2.2 1.5"/>
<circle cx="753.0" cy="937.2" r="14.9" fill="#009cff" stroke="#0086db" stroke-width="1"/>
<circle cx="753.0" cy="937.2" r="12.6" fill="none" stroke="#fff" stroke-opacity="0.75" stroke-width="0.8" stroke-dasharray="2.2 1.5"/>
<circle cx="363.9" cy="1119.9" r="14.9" fill="#00d4ff" stroke="#00b6db" stroke-width="1"/>
<circle cx="363.9" cy="1119.9" r="12.6" fill="none" stroke="#fff" stroke-opacity="0.75" stroke-width="0.8" stroke-dasharray="2.2 1.5"/>
<circle cx="373.3" cy="1108.0" r="14.9" fill="#00d4ff" stroke="#00b6db" stroke-width="1"/>
<circle cx="373.3" cy="1108.0" r="12.6" fill="none" stroke="#fff" stroke-opacity="0.75" stroke-width="0.8" stroke-dasharray="2.2 1.5"/>
<circle cx="394.1" cy="1092.5" r="14.9" fill="#00d4ff" stroke="#00b6db" stroke-width="1"/>
<circle cx="394.1" cy="1092.5" r="12.6" fill="none" stroke="#fff" stroke-opacity="0.75" stroke-width="0.8" stroke-dasharray="2.2 1.5"/>
<circle cx="426.9" cy="1069.7" r="14.9" fill="#00d4ff" stroke="#00b6db" stroke-width="1"/>
<circle cx="426.9" cy="1069.7" r="12.6" fill="none" stroke="#fff" stroke-opacity="0.75" stroke-width="0.8" stroke-dasharray="2.2 1.5"/>
<circle cx="460.3" cy="1046.9" r="14.9" fill="#00d4ff" stroke="#00b6db" stroke-width="1"/>
<circle cx="460.3" cy="1046.9" r="12.6" fill="none" stroke="#fff" stroke-opacity="0.75" stroke-width="0.8" stroke-dasharray="2.2 1.5"/>
<circle cx="492.4" cy="1030.5" r="14.9" fill="#00d4ff" stroke="#00b6db" stroke-width="1"/>
<circle cx="492.4" cy="1030.5" r="12.6" fill="none" stroke="#fff" stroke-opacity="0.75" stroke-width="0.8" stroke-dasharray="2.2 1.5"/>
<circle cx="523.2" cy="1019.2" r="14.9" fill="#00d4ff" stroke="#00b6db" stroke-width="1"/>
<circle cx="523.2" cy="1019.2" r="12.6" fill="none" stroke="#fff" stroke-opacity="0.75" stroke-width="0.8" stroke-dasharray="2.2 1.5"/>
<circle cx="552.8" cy="1012.1" r="14.9" fill="#00d4ff" stroke="#00b6db" stroke-width="1"/>
<circle cx="552.8" cy="1012.1" r="12.6" fill="none" stroke="#fff" stroke-opacity="0.75" stroke-width="0.8" stroke-dasharray="2.2 1.5"/>
<circle cx="582.5" cy="1001.9" r="14.9" fill="#00d4ff" stroke="#00b6db" stroke-width="1"/>
<circle cx="582.5" cy="1001.9" r="12.6" fill="none" stroke="#fff" stroke-opacity="0.75" stroke-width="0.8" stroke-dasharray="2.2 1.5"/>
<circle cx="607.9" cy="993.0" r="14.9" fill="#00d4ff" stroke="#00b6db" stroke-width="1"/>
<circle cx="607.9" cy="993.0" r="12.6" fill="none" stroke="#fff" stroke-opacity="0.75" stroke-width="0.8" stroke-dasharray="2.2 1.5"/>
<circle cx="622.8" cy="989.2" r="14.9" fill="#00d4ff" stroke="#00b6db" stroke-width="1"/>
<circle cx="622.8" cy="989.2" r="12.6" fill="none" stroke="#fff" stroke-opacity="0.75" stroke-width="0.8" stroke-dasharray="2.2 1.5"/>
<circle cx="639.2" cy="984.9" r="14.9" fill="#00d4ff" stroke="#00b6db" stroke-width="1"/>
<circle cx="639.2" cy="984.9" r="12.6" fill="none" stroke="#fff" stroke-opacity="0.75" stroke-width="0.8" stroke-dasharray="2.2 1.5"/>
<circle cx="653.1" cy="979.9" r="14.9" fill="#00d4ff" stroke="#00b6db" stroke-width="1"/>
<circle cx="653.1" cy="979.9" r="12.6" fill="none" stroke="#fff" stroke-opacity="0.75" stroke-width="0.8" stroke-dasharray="2.2 1.5"/>
<circle cx="665.3" cy="976.0" r="14.9" fill="#00d4ff" stroke="#00b6db" stroke-width="1"/>
<circle cx="665.3" cy="976.0" r="12.6" fill="none" stroke="#fff" stroke-opacity="0.75" stroke-width="0.8" stroke-dasharray="2.2 1.5"/>
<circle cx="668.3" cy="975.3" r="14.9" fill="#00d4ff" stroke="#00b6db" stroke-width="1"/>
<circle cx="668.3" cy="975.3" r="12.6" fill="none" stroke="#fff" stroke-opacity="0.75" stroke-width="0.8" stroke-dasharray="2.2 1.5"/>
<circle cx="671.3" cy="974.5" r="14.9" fill="#00d4ff" stroke="#00b6db" stroke-width="1"/>
<circle cx="671.3" cy="974.5" r="12.6" fill="none" stroke="#fff" stroke-opacity="0.75" stroke-width="0.8" stroke-dasharray="2.2 1.5"/>
<circle cx="674.4" cy="973.7" r="14.9" fill="#00d4ff" stroke="#00b6db" stroke-width="1"/>
<circle cx="674.4" cy="973.7" r="12.6" fill="none" stroke="#fff" stroke-opacity="0.75" stroke-width="0.8" stroke-dasharray="2.2 1.5"/>
<circle cx="677.4" cy="973.0" r="14.9" fill="#00d4ff" stroke="#00b6db" stroke-width="1"/>
<circle cx="677.4" cy="973.0" r="12.6" fill="none" stroke="#fff" stroke-opacity="0.75" stroke-width="0.8" stroke-dasharray="2.2 1.5"/>
<circle cx="680.1" cy="972.0" r="14.9" fill="#00d4ff" stroke="#00b6db" stroke-width="1"/>
<circle cx="680.1" cy="972.0" r="12.6" fill="none" stroke="#fff" stroke-opacity="0.75" stroke-width="0.8" stroke-dasharray="2.2 1.5"/>
<circle cx="682.7" cy="971.0" r="14.9" fill="#00d4ff" stroke="#00b6db" stroke-width="1"/>
<circle cx="682.7" cy="971.0" r="12.6" fill="none" stroke="#fff" stroke-opacity="0.75" stroke-width="0.8" stroke-dasharray="2.2 1.5"/>
<circle cx="685.4" cy="970.1" r="14.9" fill="#00d4ff" stroke="#00b6db" stroke-width="1"/>
<circle cx="685.4" cy="970.1" r="12.6" fill="none" stroke="#fff" stroke-opacity="0.75" stroke-width="0.8" stroke-dasharray="2.2 1.5"/>
<circle cx="688.1" cy="969.1" r="14.9" fill="#00d4ff" stroke="#00b6db" stroke-width="1"/>
<circle cx="688.1" cy="969.1" r="12.6" fill="none" stroke="#fff" stroke-opacity="0.75" stroke-width="0.8" stroke-dasharray="2.2 1.5"/>
<circle cx="691.6" cy="967.8" r="14.9" fill="#00d4ff" stroke="#00b6db" stroke-width="1"/>
<circle cx="691.6" cy="967.8" r="12.6" fill="none" stroke="#fff" stroke-opacity="0.75" stroke-width="0.8" stroke-dasharray="2.2 1.5"/>
<circle cx="695.1" cy="966.4" r="14.9" fill="#00d4ff" stroke="#00b6db" stroke-width="1"/>
<circle cx="695.1" cy="966.4" r="12.6" fill="none" stroke="#fff" stroke-opacity="0.75" stroke-width="0.8" stroke-dasharray="2.2 1.5"/>
<circle cx="698.7" cy="965.1" r="14.9" fill="#00d4ff" stroke="#00b6db" stroke-width="1"/>
<circle cx="698.7" cy="965.1" r="12.6" fill="none" stroke="#fff" stroke-opacity="0.75" stroke-width="0.8" stroke-dasharray="2.2 1.5"/>
<circle cx="702.2" cy="963.7" r="14.9" fill="#00d4ff" stroke="#00b6db" stroke-width="1"/>
<circle cx="702.2" cy="963.7" r="12.6" fill="none" stroke="#fff" stroke-opacity="0.75" stroke-width="0.8" stroke-dasharray="2.2 1.5"/>
<circle cx="706.1" cy="961.8" r="14.9" fill="#00d4ff" stroke="#00b6db" stroke-width="1"/>
<circle cx="706.1" cy="961.8" r="12.6" fill="none" stroke="#fff" stroke-opacity="0.75" stroke-width="0.8" stroke-dasharray="2.2 1.5"/>
<circle cx="710.0" cy="959.8" r="14.9" fill="#00d4ff" stroke="#00b6db" stroke-width="1"/>
<circle cx="710.0" cy="959.8" r="12.6" fill="none" stroke="#fff" stroke-opacity="0.75" stroke-width="0.8" stroke-dasharray="2.2 1.5"/>
<circle cx="713.9" cy="957.8" r="14.9" fill="#00d4ff" stroke="#00b6db" stroke-width="1"/>
<circle cx="713.9" cy="957.8" r="12.6" fill="none" stroke="#fff" stroke-opacity="0.75" stroke-width="0.8" stroke-dasharray="2.2 1.5"/>
<circle cx="717.8" cy="955.9" r="14.9" fill="#00d4ff" stroke="#00b6db" stroke-width="1"/>
<circle cx="717.8" cy="955.9" r="12.6" fill="none" stroke="#fff" stroke-opacity="0.75" stroke-width="0.8" stroke-dasharray="2.2 1.5"/>
<circle cx="722.1" cy="953.7" r="14.9" fill="#00d4ff" stroke="#00b6db" stroke-width="1"/>
<circle cx="722.1" cy="953.7" r="12.6" fill="none" stroke="#fff" stroke-opacity="0.75" stroke-width="0.8" stroke-dasharray="2.2 1.5"/>
<circle cx="726.4" cy="951.5" r="14.9" fill="#00d4ff" stroke="#00b6db" stroke-width="1"/>
<circle cx="726.4" cy="951.5" r="12.6" fill="none" stroke="#fff" stroke-opacity="0.75" stroke-width="0.8" stroke-dasharray="2.2 1.5"/>
<circle cx="730.7" cy="949.4" r="14.9" fill="#00d4ff" stroke="#00b6db" stroke-width="1"/>
<circle cx="730.7" cy="949.4" r="12.6" fill="none" stroke="#fff" stroke-opacity="0.75" stroke-width="0.8" stroke-dasharray="2.2 1.5"/>
<circle cx="735.0" cy="947.2" r="14.9" fill="#00d4ff" stroke="#00b6db" stroke-width="1"/>
<circle cx="735.0" cy="947.2" r="12.6" fill="none" stroke="#fff" stroke-opacity="0.75" stroke-width="0.8" stroke-dasharray="2.2 1.5"/>
<circle cx="739.5" cy="944.7" r="14.9" fill="#00d4ff" stroke="#00b6db" stroke-width="1"/>
<circle cx="739.5" cy="944.7" r="12.6" fill="none" stroke="#fff" stroke-opacity="0.75" stroke-width="0.8" stroke-dasharray="2.2 1.5"/>
<circle cx="744.0" cy="942.2" r="14.9" fill="#00d4ff" stroke="#00b6db" stroke-width="1"/>
<circle cx="744.0" cy="942.2" r="12.6" fill="none" stroke="#fff" stroke-opacity="0.75" stroke-width="0.8" stroke-dasharray="2.2 1.5"/>
<circle cx="748.5" cy="939.7" r="14.9" fill="#00d4ff" stroke="#00b6db" stroke-width="1"/>
<circle cx="748.5" cy="939.7" r="12.6" fill="none" stroke="#fff" stroke-opacity="0.75" stroke-width="0.8" stroke-dasharray="2.2 1.5"/>
<circle cx="753.0" cy="937.2" r="14.9" fill="#00d4ff" stroke="#00b6db" stroke-width="1"/>
<circle cx="753.0" cy="937.2" r="12.6" fill="none" stroke="#fff" stroke-opacity="0.75" stroke-width="0.8" stroke-dasharray="2.2 1.5"/>
<circle cx="415.1" cy="1099.4" r="14.9" fill="#20ffd7" stroke="#1bdbb8" stroke-width="1"/>
<circle cx="415.1" cy="1099.4" r="12.6" fill="none" stroke="#fff" stroke-opacity="0.75" stroke-width="0.8" stroke-dasharray="2.2 1.5"/>
<circle cx="422.2" cy="1091.9" r="14.9" fill="#20ffd7" stroke="#1bdbb8" stroke-width="1"/>
<circle cx="422.2" cy="1091.9" r="12.6" fill="none" stroke="#fff" stroke-opacity="0.75" stroke-width="0.8" stroke-dasharray="2.2 1.5"/>
<circle cx="437.5" cy="1083.5" r="14.9" fill="#20ffd7" stroke="#1bdbb8" stroke-width="1"/>
<circle cx="437.5" cy="1083.5" r="12.6" fill="none" stroke="#fff" stroke-opacity="0.75" stroke-width="0.8" stroke-dasharray="2.2 1.5"/>
<circle cx="463.3" cy="1065.6" r="14.9" fill="#20ffd7" stroke="#1bdbb8" stroke-width="1"/>
<circle cx="463.3" cy="1065.6" r="12.6" fill="none" stroke="#fff" stroke-opacity="0.75" stroke-width="0.8" stroke-dasharray="2.2 1.5"/>
<circle cx="489.5" cy="1045.5" r="14.9" fill="#20ffd7" stroke="#1bdbb8" stroke-width="1"/>
<circle cx="489.5" cy="1045.5" r="12.6" fill="none" stroke="#fff" stroke-opacity="0.75" stroke-width="0.8" stroke-dasharray="2.2 1.5"/>
<circle cx="515.1" cy="1030.8" r="14.9" fill="#20ffd7" stroke="#1bdbb8" stroke-width="1"/>
<circle cx="515.1" cy="1030.8" r="12.6" fill="none" stroke="#fff" stroke-opacity="0.75" stroke-width="0.8" stroke-dasharray="2.2 1.5"/>
<circle cx="540.2" cy="1020.5" r="14.9" fill="#20ffd7" stroke="#1bdbb8" stroke-width="1"/>
<circle cx="540.2" cy="1020.5" r="12.6" fill="none" stroke="#fff" stroke-opacity="0.75" stroke-width="0.8" stroke-dasharray="2.2 1.5"/>
<circle cx="565.0" cy="1014.0" r="14.9" fill="#20ffd7" stroke="#1bdbb8" stroke-width="1"/>
<circle cx="565.0" cy="1014.0" r="12.6" fill="none" stroke="#fff" stroke-opacity="0.75" stroke-width="0.8" stroke-dasharray="2.2 1.5"/>
<circle cx="590.6" cy="1004.3" r="14.9" fill="#20ffd7" stroke="#1bdbb8" stroke-width="1"/>
<circle cx="590.6" cy="1004.3" r="12.6" fill="none" stroke="#fff" stroke-opacity="0.75" stroke-width="0.8" stroke-dasharray="2.2 1.5"/>
<circle cx="612.6" cy="995.6" r="14.9" fill="#20ffd7" stroke="#1bdbb8" stroke-width="1"/>
<circle cx="612.6" cy="995.6" r="12.6" fill="none" stroke="#fff" stroke-opacity="0.75" stroke-width="0.8" stroke-dasharray="2.2 1.5"/>
<circle cx="625.1" cy="992.0" r="14.9" fill="#20ffd7" stroke="#1bdbb8" stroke-width="1"/>
<circle cx="625.1" cy="992.0" r="12.6" fill="none" stroke="#fff" stroke-opacity="0.75" stroke-width="0.8" stroke-dasharray="2.2 1.5"/>
<circle cx="640.5" cy="987.2" r="14.9" fill="#20ffd7" stroke="#1bdbb8" stroke-width="1"/>
<circle cx="640.5" cy="987.2" r="12.6" fill="none" stroke="#fff" stroke-opacity="0.75" stroke-width="0.8" stroke-dasharray="2.2 1.5"/>
<circle cx="654.0" cy="981.6" r="14.9" fill="#20ffd7" stroke="#1bdbb8" stroke-width="1"/>
<circle cx="654.0" cy="981.6" r="12.6" fill="none" stroke="#fff" stroke-opacity="0.75" stroke-width="0.8" stroke-dasharray="2.2 1.5"/>
<circle cx="665.9" cy="977.2" r="14.9" fill="#20ffd7" stroke="#1bdbb8" stroke-width="1"/>
<circle cx="665.9" cy="977.2" r="12.6" fill="none" stroke="#fff" stroke-opacity="0.75" stroke-width="0.8" stroke-dasharray="2.2 1.5"/>
<circle cx="668.8" cy="976.3" r="14.9" fill="#20ffd7" stroke="#1bdbb8" stroke-width="1"/>
<circle cx="668.8" cy="976.3" r="12.6" fill="none" stroke="#fff" stroke-opacity="0.75" stroke-width="0.8" stroke-dasharray="2.2 1.5"/>
<circle cx="671.8" cy="975.4" r="14.9" fill="#20ffd7" stroke="#1bdbb8" stroke-width="1"/>
<circle cx="671.8" cy="975.4" r="12.6" fill="none" stroke="#fff" stroke-opacity="0.75" stroke-width="0.8" stroke-dasharray="2.2 1.5"/>
<circle cx="674.7" cy="974.5" r="14.9" fill="#20ffd7" stroke="#1bdbb8" stroke-width="1"/>
<circle cx="674.7" cy="974.5" r="12.6" fill="none" stroke="#fff" stroke-opacity="0.75" stroke-width="0.8" stroke-dasharray="2.2 1.5"/>
<circle cx="677.7" cy="973.6" r="14.9" fill="#20ffd7" stroke="#1bdbb8" stroke-width="1"/>
<circle cx="677.7" cy="973.6" r="12.6" fill="none" stroke="#fff" stroke-opacity="0.75" stroke-width="0.8" stroke-dasharray="2.2 1.5"/>
<circle cx="680.3" cy="972.6" r="14.9" fill="#20ffd7" stroke="#1bdbb8" stroke-width="1"/>
<circle cx="680.3" cy="972.6" r="12.6" fill="none" stroke="#fff" stroke-opacity="0.75" stroke-width="0.8" stroke-dasharray="2.2 1.5"/>
<circle cx="683.0" cy="971.6" r="14.9" fill="#20ffd7" stroke="#1bdbb8" stroke-width="1"/>
<circle cx="683.0" cy="971.6" r="12.6" fill="none" stroke="#fff" stroke-opacity="0.75" stroke-width="0.8" stroke-dasharray="2.2 1.5"/>
<circle cx="685.6" cy="970.5" r="14.9" fill="#20ffd7" stroke="#1bdbb8" stroke-width="1"/>
<circle cx="685.6" cy="970.5" r="12.6" fill="none" stroke="#fff" stroke-opacity="0.75" stroke-width="0.8" stroke-dasharray="2.2 1.5"/>
<circle cx="688.2" cy="969.5" r="14.9" fill="#20ffd7" stroke="#1bdbb8" stroke-width="1"/>
<circle cx="688.2" cy="969.5" r="12.6" fill="none" stroke="#fff" stroke-opacity="0.75" stroke-width="0.8" stroke-dasharray="2.2 1.5"/>
<circle cx="691.7" cy="968.0" r="14.9" fill="#20ffd7" stroke="#1bdbb8" stroke-width="1"/>
<circle cx="691.7" cy="968.0" r="12.6" fill="none" stroke="#fff" stroke-opacity="0.75" stroke-width="0.8" stroke-dasharray="2.2 1.5"/>
<circle cx="695.2" cy="966.6" r="14.9" fill="#20ffd7" stroke="#1bdbb8" stroke-width="1"/>
<circle cx="695.2" cy="966.6" r="12.6" fill="none" stroke="#fff" stroke-opacity="0.75" stroke-width="0.8" stroke-dasharray="2.2 1.5"/>
<circle cx="698.7" cy="965.2" r="14.9" fill="#20ffd7" stroke="#1bdbb8" stroke-width="1"/>
<circle cx="698.7" cy="965.2" r="12.6" fill="none" stroke="#fff" stroke-opacity="0.75" stroke-width="0.8" stroke-dasharray="2.2 1.5"/>
<circle cx="702.2" cy="963.8" r="14.9" fill="#20ffd7" stroke="#1bdbb8" stroke-width="1"/>
<circle cx="702.2" cy="963.8" r="12.6" fill="none" stroke="#fff" stroke-opacity="0.75" stroke-width="0.8" stroke-dasharray="2.2 1.5"/>
<circle cx="706.1" cy="961.8" r="14.9" fill="#20ffd7" stroke="#1bdbb8" stroke-width="1"/>
<circle cx="706.1" cy="961.8" r="12.6" fill="none" stroke="#fff" stroke-opacity="0.75" stroke-width="0.8" stroke-dasharray="2.2 1.5"/>
<circle cx="710.0" cy="959.8" r="14.9" fill="#20ffd7" stroke="#1bdbb8" stroke-width="1"/>
<circle cx="710.0" cy="959.8" r="12.6" fill="none" stroke="#fff" stroke-opacity="0.75" stroke-width="0.8" stroke-dasharray="2.2 1.5"/>
<circle cx="713.9" cy="957.9" r="14.9" fill="#20ffd7" stroke="#1bdbb8" stroke-width="1"/>
<circle cx="713.9" cy="957.9" r="12.6" fill="none" stroke="#fff" stroke-opacity="0.75" stroke-width="0.8" stroke-dasharray="2.2 1.5"/>
<circle cx="717.8" cy="955.9" r="14.9" fill="#20ffd7" stroke="#1bdbb8" stroke-width="1"/>
<circle cx="717.8" cy="955.9" r="12.6" fill="none" stroke="#fff" stroke-opacity="0.75" stroke-width="0.8" stroke-dasharray="2.2 1.5"/>
<circle cx="722.1" cy="953.7" r="14.9" fill="#20ffd7" stroke="#1bdbb8" stroke-width="1"/>
<circle cx="722.1" cy="953.7" r="12.6" fill="none" stroke="#fff" stroke-opacity="0.75" stroke-width="0.8" stroke-dasharray="2.2 1.5"/>
<circle cx="726.4" cy="951.5" r="14.9" fill="#20ffd7" stroke="#1bdbb8" stroke-width="1"/>
<circle cx="726.4" cy="951.5" r="12.6" fill="none" stroke="#fff" stroke-opacity="0.75" stroke-width="0.8" stroke-dasharray="2.2 1.5"/>
<circle cx="730.7" cy="949.4" r="14.9" fill="#20ffd7" stroke="#1bdbb8" stroke-width="1"/>
<circle cx="730.7" cy="949.4" r="12.6" fill="none" stroke="#fff" stroke-opacity="0.75" stroke-width="0.8" stroke-dasharray="2.2 1.5"/>
<circle cx="735.0" cy="947.2" r="14.9" fill="#20ffd7" stroke="#1bdbb8" stroke-width="1"/>
<circle cx="735.0" cy="947.2" r="12.6" fill="none" stroke="#fff" stroke-opacity="0.75" stroke-width="0.8" stroke-dasharray="2.2 1.5"/>
<circle cx="739.5" cy="944.7" r="14.9" fill="#20ffd7" stroke="#1bdbb8" stroke-width="1"/>
<circle cx="739.5" cy="944.7" r="12.6" fill="none" stroke="#fff" stroke-opacity="0.75" stroke-width="0.8" stroke-dasharray="2.2 1.5"/>
<circle cx="744.0" cy="942.2" r="14.9" fill="#20ffd7" stroke="#1bdbb8" stroke-width="1"/>
<circle cx="744.0" cy="942.2" r="12.6" fill="none" stroke="#fff" stroke-opacity="0.75" stroke-width="0.8" stroke-dasharray="2.2 1.5"/>
<circle cx="748.5" cy="939.7" r="14.9" fill="#20ffd7" stroke="#1bdbb8" stroke-width="1"/>
<circle cx="748.5" cy="939.7" r="12.6" fill="none" stroke="#fff" stroke-opacity="0.75" stroke-width="0.8" stroke-dasharray="2.2 1.5"/>
<circle cx="753.0" cy="937.2" r="14.9" fill="#20ffd7" stroke="#1bdbb8" stroke-width="1"/>
<circle cx="753.0" cy="937.2" r="12.6" fill="none" stroke="#fff" stroke-opacity="0.75" stroke-width="0.8" stroke-dasharray="2.2 1.5"/>
<circle cx="457.2" cy="1082.0" r="14.9" fill="#4effa9" stroke="#43db91" stroke-width="1"/>
<circle cx="457.2" cy="1082.0" r="12.6" fill="none" stroke="#fff" stroke-opacity="0.75" stroke-width="0.8" stroke-dasharray="2.2 1.5"/>
<circle cx="462.6" cy="1077.3" r="14.9" fill="#4effa9" stroke="#43db91" stroke-width="1"/>
<circle cx="462.6" cy="1077.3" r="12.6" fill="none" stroke="#fff" stroke-opacity="0.75" stroke-width="0.8" stroke-dasharray="2.2 1.5"/>
<circle cx="473.9" cy="1073.2" r="14.9" fill="#4effa9" stroke="#43db91" stroke-width="1"/>
<circle cx="473.9" cy="1073.2" r="12.6" fill="none" stroke="#fff" stroke-opacity="0.75" stroke-width="0.8" stroke-dasharray="2.2 1.5"/>
<circle cx="494.3" cy="1059.0" r="14.9" fill="#4effa9" stroke="#43db91" stroke-width="1"/>
<circle cx="494.3" cy="1059.0" r="12.6" fill="none" stroke="#fff" stroke-opacity="0.75" stroke-width="0.8" stroke-dasharray="2.2 1.5"/>
<circle cx="515.0" cy="1041.8" r="14.9" fill="#4effa9" stroke="#43db91" stroke-width="1"/>
<circle cx="515.0" cy="1041.8" r="12.6" fill="none" stroke="#fff" stroke-opacity="0.75" stroke-width="0.8" stroke-dasharray="2.2 1.5"/>
<circle cx="535.3" cy="1028.9" r="14.9" fill="#4effa9" stroke="#43db91" stroke-width="1"/>
<circle cx="535.3" cy="1028.9" r="12.6" fill="none" stroke="#fff" stroke-opacity="0.75" stroke-width="0.8" stroke-dasharray="2.2 1.5"/>
<circle cx="555.9" cy="1019.9" r="14.9" fill="#4effa9" stroke="#43db91" stroke-width="1"/>
<circle cx="555.9" cy="1019.9" r="12.6" fill="none" stroke="#fff" stroke-opacity="0.75" stroke-width="0.8" stroke-dasharray="2.2 1.5"/>
<circle cx="576.4" cy="1014.1" r="14.9" fill="#4effa9" stroke="#43db91" stroke-width="1"/>
<circle cx="576.4" cy="1014.1" r="12.6" fill="none" stroke="#fff" stroke-opacity="0.75" stroke-width="0.8" stroke-dasharray="2.2 1.5"/>
<circle cx="598.0" cy="1005.3" r="14.9" fill="#4effa9" stroke="#43db91" stroke-width="1"/>
<circle cx="598.0" cy="1005.3" r="12.6" fill="none" stroke="#fff" stroke-opacity="0.75" stroke-width="0.8" stroke-dasharray="2.2 1.5"/>
<circle cx="616.8" cy="997.3" r="14.9" fill="#4effa9" stroke="#43db91" stroke-width="1"/>
<circle cx="616.8" cy="997.3" r="12.6" fill="none" stroke="#fff" stroke-opacity="0.75" stroke-width="0.8" stroke-dasharray="2.2 1.5"/>
<circle cx="627.2" cy="994.1" r="14.9" fill="#4effa9" stroke="#43db91" stroke-width="1"/>
<circle cx="627.2" cy="994.1" r="12.6" fill="none" stroke="#fff" stroke-opacity="0.75" stroke-width="0.8" stroke-dasharray="2.2 1.5"/>
<circle cx="641.6" cy="989.0" r="14.9" fill="#4effa9" stroke="#43db91" stroke-width="1"/>
<circle cx="641.6" cy="989.0" r="12.6" fill="none" stroke="#fff" stroke-opacity="0.75" stroke-width="0.8" stroke-dasharray="2.2 1.5"/>
<circle cx="654.7" cy="983.1" r="14.9" fill="#4effa9" stroke="#43db91" stroke-width="1"/>
<circle cx="654.7" cy="983.1" r="12.6" fill="none" stroke="#fff" stroke-opacity="0.75" stroke-width="0.8" stroke-dasharray="2.2 1.5"/>
<circle cx="666.2" cy="978.4" r="14.9" fill="#4effa9" stroke="#43db91" stroke-width="1"/>
<circle cx="666.2" cy="978.4" r="12.6" fill="none" stroke="#fff" stroke-opacity="0.75" stroke-width="0.8" stroke-dasharray="2.2 1.5"/>
<circle cx="669.1" cy="977.4" r="14.9" fill="#4effa9" stroke="#43db91" stroke-width="1"/>
<circle cx="669.1" cy="977.4" r="12.6" fill="none" stroke="#fff" stroke-opacity="0.75" stroke-width="0.8" stroke-dasharray="2.2 1.5"/>
<circle cx="672.0" cy="976.4" r="14.9" fill="#4effa9" stroke="#43db91" stroke-width="1"/>
<circle cx="672.0" cy="976.4" r="12.6" fill="none" stroke="#fff" stroke-opacity="0.75" stroke-width="0.8" stroke-dasharray="2.2 1.5"/>
<circle cx="674.9" cy="975.4" r="14.9" fill="#4effa9" stroke="#43db91" stroke-width="1"/>
<circle cx="674.9" cy="975.4" r="12.6" fill="none" stroke="#fff" stroke-opacity="0.75" stroke-width="0.8" stroke-dasharray="2.2 1.5"/>
<circle cx="677.8" cy="974.4" r="14.9" fill="#4effa9" stroke="#43db91" stroke-width="1"/>
<circle cx="677.8" cy="974.4" r="12.6" fill="none" stroke="#fff" stroke-opacity="0.75" stroke-width="0.8" stroke-dasharray="2.2 1.5"/>
<circle cx="680.4" cy="973.3" r="14.9" fill="#4effa9" stroke="#43db91" stroke-width="1"/>
<circle cx="680.4" cy="973.3" r="12.6" fill="none" stroke="#fff" stroke-opacity="0.75" stroke-width="0.8" stroke-dasharray="2.2 1.5"/>
<circle cx="683.0" cy="972.1" r="14.9" fill="#4effa9" stroke="#43db91" stroke-width="1"/>
<circle cx="683.0" cy="972.1" r="12.6" fill="none" stroke="#fff" stroke-opacity="0.75" stroke-width="0.8" stroke-dasharray="2.2 1.5"/>
<circle cx="685.6" cy="971.0" r="14.9" fill="#4effa9" stroke="#43db91" stroke-width="1"/>
<circle cx="685.6" cy="971.0" r="12.6" fill="none" stroke="#fff" stroke-opacity="0.75" stroke-width="0.8" stroke-dasharray="2.2 1.5"/>
<circle cx="688.3" cy="969.9" r="14.9" fill="#4effa9" stroke="#43db91" stroke-width="1"/>
<circle cx="688.3" cy="969.9" r="12.6" fill="none" stroke="#fff" stroke-opacity="0.75" stroke-width="0.8" stroke-dasharray="2.2 1.5"/>
<circle cx="691.7" cy="968.4" r="14.9" fill="#4effa9" stroke="#43db91" stroke-width="1"/>
<circle cx="691.7" cy="968.4" r="12.6" fill="none" stroke="#fff" stroke-opacity="0.75" stroke-width="0.8" stroke-dasharray="2.2 1.5"/>
<circle cx="695.2" cy="966.9" r="14.9" fill="#4effa9" stroke="#43db91" stroke-width="1"/>
<circle cx="695.2" cy="966.9" r="12.6" fill="none" stroke="#fff" stroke-opacity="0.75" stroke-width="0.8" stroke-dasharray="2.2 1.5"/>
<circle cx="698.6" cy="965.4" r="14.9" fill="#4effa9" stroke="#43db91" stroke-width="1"/>
<circle cx="698.6" cy="965.4" r="12.6" fill="none" stroke="#fff" stroke-opacity="0.75" stroke-width="0.8" stroke-dasharray="2.2 1.5"/>
<circle cx="702.1" cy="963.9" r="14.9" fill="#4effa9" stroke="#43db91" stroke-width="1"/>
<circle cx="702.1" cy="963.9" r="12.6" fill="none" stroke="#fff" stroke-opacity="0.75" stroke-width="0.8" stroke-dasharray="2.2 1.5"/>
<circle cx="706.0" cy="961.9" r="14.9" fill="#4effa9" stroke="#43db91" stroke-width="1"/>
<circle cx="706.0" cy="961.9" r="12.6" fill="none" stroke="#fff" stroke-opacity="0.75" stroke-width="0.8" stroke-dasharray="2.2 1.5"/>
<circle cx="709.9" cy="960.0" r="14.9" fill="#4effa9" stroke="#43db91" stroke-width="1"/>
<circle cx="709.9" cy="960.0" r="12.6" fill="none" stroke="#fff" stroke-opacity="0.75" stroke-width="0.8" stroke-dasharray="2.2 1.5"/>
<circle cx="713.8" cy="958.0" r="14.9" fill="#4effa9" stroke="#43db91" stroke-width="1"/>
<circle cx="713.8" cy="958.0" r="12.6" fill="none" stroke="#fff" stroke-opacity="0.75" stroke-width="0.8" stroke-dasharray="2.2 1.5"/>
<circle cx="717.7" cy="956.0" r="14.9" fill="#4effa9" stroke="#43db91" stroke-width="1"/>
<circle cx="717.7" cy="956.0" r="12.6" fill="none" stroke="#fff" stroke-opacity="0.75" stroke-width="0.8" stroke-dasharray="2.2 1.5"/>
<circle cx="722.0" cy="953.8" r="14.9" fill="#4effa9" stroke="#43db91" stroke-width="1"/>
<circle cx="722.0" cy="953.8" r="12.6" fill="none" stroke="#fff" stroke-opacity="0.75" stroke-width="0.8" stroke-dasharray="2.2 1.5"/>
<circle cx="726.3" cy="951.6" r="14.9" fill="#4effa9" stroke="#43db91" stroke-width="1"/>
<circle cx="726.3" cy="951.6" r="12.6" fill="none" stroke="#fff" stroke-opacity="0.75" stroke-width="0.8" stroke-dasharray="2.2 1.5"/>
<circle cx="730.7" cy="949.4" r="14.9" fill="#4effa9" stroke="#43db91" stroke-width="1"/>
<circle cx="730.7" cy="949.4" r="12.6" fill="none" stroke="#fff" stroke-opacity="0.75" stroke-width="0.8" stroke-dasharray="2.2 1.5"/>
<circle cx="735.0" cy="947.2" r="14.9" fill="#4effa9" stroke="#43db91" stroke-width="1"/>
<circle cx="735.0" cy="947.2" r="12.6" fill="none" stroke="#fff" stroke-opacity="0.75" stroke-width="0.8" stroke-dasharray="2.2 1.5"/>
<circle cx="739.5" cy="944.7" r="14.9" fill="#4effa9" stroke="#43db91" stroke-width="1"/>
<circle cx="739.5" cy="944.7" r="12.6" fill="none" stroke="#fff" stroke-opacity="0.75" stroke-width="0.8" stroke-dasharray="2.2 1.5"/>
<circle cx="744.0" cy="942.2" r="14.9" fill="#4effa9" stroke="#43db91" stroke-width="1"/>
<circle cx="744.0" cy="942.2" r="12.6" fill="none" stroke="#fff" stroke-opacity="0.75" stroke-width="0.8" stroke-dasharray="2.2 1.5"/>
<circle cx="748.5" cy="939.7" r="14.9" fill="#4effa9" stroke="#43db91" stroke-width="1"/>
<circle cx="748.5" cy="939.7" r="12.6" fill="none" stroke="#fff" stroke-opacity="0.75" stroke-width="0.8" stroke-dasharray="2.2 1.5"/>
<circle cx="753.0" cy="937.2" r="14.9" fill="#4effa9" stroke="#43db91" stroke-width="1"/>
<circle cx="753.0" cy="937.2" r="12.6" fill="none" stroke="#fff" stroke-opacity="0.75" stroke-width="0.8" stroke-dasharray="2.2 1.5"/>
<circle cx="496.2" cy="1065.4" r="15.4" fill="#7bff7b"/>
<circle cx="500.2" cy="1062.8" r="15.4" fill="#7bff7b"/>
<circle cx="508.4" cy="1061.5" r="15.4" fill="#7bff7b"/>
<circle cx="523.9" cy="1050.7" r="15.4" fill="#7bff7b"/>
<circle cx="539.7" cy="1036.5" r="15.4" fill="#7bff7b"/>
<circle cx="555.4" cy="1025.8" r="15.4" fill="#7bff7b"/>
<circle cx="571.6" cy="1018.2" r="15.4" fill="#7bff7b"/>
<circle cx="588.0" cy="1013.2" r="15.4" fill="#7bff7b"/>
<circle cx="605.6" cy="1005.6" r="15.4" fill="#7bff7b"/>
<circle cx="621.0" cy="998.6" r="15.4" fill="#7bff7b"/>
<circle cx="629.3" cy="995.9" r="15.4" fill="#7bff7b"/>
<circle cx="642.7" cy="990.6" r="15.4" fill="#7bff7b"/>
<circle cx="655.3" cy="984.6" r="15.4" fill="#7bff7b"/>
<circle cx="666.5" cy="979.6" r="15.4" fill="#7bff7b"/>
<circle cx="669.3" cy="978.5" r="15.4" fill="#7bff7b"/>
<circle cx="672.1" cy="977.4" r="15.4" fill="#7bff7b"/>
<circle cx="674.9" cy="976.3" r="15.4" fill="#7bff7b"/>
<circle cx="677.8" cy="975.2" r="15.4" fill="#7bff7b"/>
<circle cx="680.4" cy="974.0" r="15.4" fill="#7bff7b"/>
<circle cx="683.0" cy="972.8" r="15.4" fill="#7bff7b"/>
<circle cx="685.6" cy="971.7" r="15.4" fill="#7bff7b"/>
<circle cx="688.2" cy="970.5" r="15.4" fill="#7bff7b"/>
<circle cx="691.7" cy="968.9" r="15.4" fill="#7bff7b"/>
<circle cx="695.1" cy="967.3" r="15.4" fill="#7bff7b"/>
<circle cx="698.5" cy="965.7" r="15.4" fill="#7bff7b"/>
<circle cx="702.0" cy="964.2" r="15.4" fill="#7bff7b"/>
<circle cx="705.9" cy="962.1" r="15.4" fill="#7bff7b"/>
<circle cx="709.8" cy="960.1" r="15.4" fill="#7bff7b"/>
<circle cx="713.7" cy="958.1" r="15.4" fill="#7bff7b"/>
<circle cx="717.7" cy="956.1" r="15.4" fill="#7bff7b"/>
<circle cx="722.0" cy="953.9" r="15.4" fill="#7bff7b"/>
<circle cx="726.3" cy="951.6" r="15.4" fill="#7bff7b"/>
<circle cx="730.6" cy="949.4" r="15.4" fill="#7bff7b"/>
<circle cx="735.0" cy="947.2" r="15.4" fill="#7bff7b"/>
<circle cx="739.5" cy="944.7" r="15.4" fill="#7bff7b"/>
<circle cx="744.0" cy="942.2" r="15.4" fill="#7bff7b"/>
<circle cx="748.5" cy="939.7" r="15.4" fill="#7bff7b"/>
<circle cx="753.0" cy="937.2" r="15.4" fill="#7bff7b"/>
<circle cx="522.9" cy="1053.6" r="15.4" fill="#a9ff4e"/>
<circle cx="526.2" cy="1051.8" r="15.4" fill="#a9ff4e"/>
<circle cx="532.7" cy="1051.3" r="15.4" fill="#a9ff4e"/>
<circle cx="545.1" cy="1042.7" r="15.4" fill="#a9ff4e"/>
<circle cx="557.8" cy="1031.0" r="15.4" fill="#a9ff4e"/>
<circle cx="570.4" cy="1022.1" r="15.4" fill="#a9ff4e"/>
<circle cx="583.5" cy="1015.7" r="15.4" fill="#a9ff4e"/>
<circle cx="597.0" cy="1011.5" r="15.4" fill="#a9ff4e"/>
<circle cx="611.4" cy="1005.1" r="15.4" fill="#a9ff4e"/>
<circle cx="624.2" cy="999.2" r="15.4" fill="#a9ff4e"/>
<circle cx="630.9" cy="996.9" r="15.4" fill="#a9ff4e"/>
<circle cx="643.4" cy="991.7" r="15.4" fill="#a9ff4e"/>
<circle cx="655.7" cy="985.7" r="15.4" fill="#a9ff4e"/>
<circle cx="666.5" cy="980.6" r="15.4" fill="#a9ff4e"/>
<circle cx="669.3" cy="979.4" r="15.4" fill="#a9ff4e"/>
<circle cx="672.1" cy="978.2" r="15.4" fill="#a9ff4e"/>
<circle cx="674.9" cy="977.0" r="15.4" fill="#a9ff4e"/>
<circle cx="677.7" cy="975.9" r="15.4" fill="#a9ff4e"/>
<circle cx="680.3" cy="974.6" r="15.4" fill="#a9ff4e"/>
<circle cx="682.9" cy="973.4" r="15.4" fill="#a9ff4e"/>
<circle cx="685.5" cy="972.2" r="15.4" fill="#a9ff4e"/>
<circle cx="688.1" cy="971.0" r="15.4" fill="#a9ff4e"/>
<circle cx="691.5" cy="969.3" r="15.4" fill="#a9ff4e"/>
<circle cx="695.0" cy="967.7" r="15.4" fill="#a9ff4e"/>
<circle cx="698.4" cy="966.1" r="15.4" fill="#a9ff4e"/>
<circle cx="701.8" cy="964.4" r="15.4" fill="#a9ff4e"/>
<circle cx="705.8" cy="962.4" r="15.4" fill="#a9ff4e"/>
<circle cx="709.7" cy="960.3" r="15.4" fill="#a9ff4e"/>
<circle cx="713.7" cy="958.3" r="15.4" fill="#a9ff4e"/>
<circle cx="717.6" cy="956.2" r="15.4" fill="#a9ff4e"/>
<circle cx="721.9" cy="954.0" r="15.4" fill="#a9ff4e"/>
<circle cx="726.3" cy="951.7" r="15.4" fill="#a9ff4e"/>
<circle cx="730.6" cy="949.4" r="15.4" fill="#a9ff4e"/>
<circle cx="735.0" cy="947.2" r="15.4" fill="#a9ff4e"/>
<circle cx="739.5" cy="944.7" r="15.4" fill="#a9ff4e"/>
<circle cx="744.0" cy="942.2" r="15.4" fill="#a9ff4e"/>
<circle cx="748.5" cy="939.7" r="15.4" fill="#a9ff4e"/>
<circle cx="753.0" cy="937.2" r="15.4" fill="#a9ff4e"/>
<circle cx="550.9" cy="1041.3" r="15.4" fill="#d7ff20"/>
<circle cx="553.5" cy="1040.4" r="15.4" fill="#d7ff20"/>
<circle cx="558.0" cy="1040.9" r="15.4" fill="#d7ff20"/>
<circle cx="567.2" cy="1034.6" r="15.4" fill="#d7ff20"/>
<circle cx="576.6" cy="1025.4" r="15.4" fill="#d7ff20"/>
<circle cx="586.0" cy="1018.4" r="15.4" fill="#d7ff20"/>
<circle cx="596.0" cy="1013.3" r="15.4" fill="#d7ff20"/>
<circle cx="606.3" cy="1009.9" r="15.4" fill="#d7ff20"/>
<circle cx="617.5" cy="1004.7" r="15.4" fill="#d7ff20"/>
<circle cx="627.5" cy="999.9" r="15.4" fill="#d7ff20"/>
<circle cx="632.5" cy="998.1" r="15.4" fill="#d7ff20"/>
<circle cx="644.3" cy="992.8" r="15.4" fill="#d7ff20"/>
<circle cx="656.0" cy="986.8" r="15.4" fill="#d7ff20"/>
<circle cx="666.6" cy="981.6" r="15.4" fill="#d7ff20"/>
<circle cx="669.3" cy="980.3" r="15.4" fill="#d7ff20"/>
<circle cx="672.1" cy="979.1" r="15.4" fill="#d7ff20"/>
<circle cx="674.8" cy="977.8" r="15.4" fill="#d7ff20"/>
<circle cx="677.6" cy="976.6" r="15.4" fill="#d7ff20"/>
<circle cx="680.2" cy="975.3" r="15.4" fill="#d7ff20"/>
<circle cx="682.8" cy="974.0" r="15.4" fill="#d7ff20"/>
<circle cx="685.4" cy="972.8" r="15.4" fill="#d7ff20"/>
<circle cx="688.0" cy="971.5" r="15.4" fill="#d7ff20"/>
<circle cx="691.4" cy="969.8" r="15.4" fill="#d7ff20"/>
<circle cx="694.9" cy="968.1" r="15.4" fill="#d7ff20"/>
<circle cx="698.3" cy="966.4" r="15.4" fill="#d7ff20"/>
<circle cx="701.7" cy="964.7" r="15.4" fill="#d7ff20"/>
<circle cx="705.7" cy="962.6" r="15.4" fill="#d7ff20"/>
<circle cx="709.6" cy="960.5" r="15.4" fill="#d7ff20"/>
<circle cx="713.6" cy="958.4" r="15.4" fill="#d7ff20"/>
<circle cx="717.5" cy="956.4" r="15.4" fill="#d7ff20"/>
<circle cx="721.9" cy="954.1" r="15.4" fill="#d7ff20"/>
<circle cx="726.2" cy="951.8" r="15.4" fill="#d7ff20"/>
<circle cx="730.6" cy="949.5" r="15.4" fill="#d7ff20"/>
<circle cx="734.9" cy="947.2" r="15.4" fill="#d7ff20"/>
<circle cx="739.5" cy="944.7" r="15.4" fill="#d7ff20"/>
<circle cx="744.0" cy="942.2" r="15.4" fill="#d7ff20"/>
<circle cx="748.5" cy="939.7" r="15.4" fill="#d7ff20"/>
<circle cx="753.0" cy="937.2" r="15.4" fill="#d7ff20"/>
<circle cx="570.2" cy="1032.6" r="15.4" fill="#ffe600"/>
<circle cx="572.3" cy="1031.9" r="15.4" fill="#ffe600"/>
<circle cx="575.9" cy="1032.4" r="15.4" fill="#ffe600"/>
<circle cx="583.0" cy="1027.5" r="15.4" fill="#ffe600"/>
<circle cx="590.2" cy="1020.4" r="15.4" fill="#ffe600"/>
<circle cx="597.5" cy="1014.9" r="15.4" fill="#ffe600"/>
<circle cx="605.3" cy="1010.9" r="15.4" fill="#ffe600"/>
<circle cx="613.3" cy="1008.2" r="15.4" fill="#ffe600"/>
<circle cx="622.1" cy="1004.0" r="15.4" fill="#ffe600"/>
<circle cx="629.9" cy="1000.2" r="15.4" fill="#ffe600"/>
<circle cx="633.7" cy="998.8" r="15.4" fill="#ffe600"/>
<circle cx="644.9" cy="993.5" r="15.4" fill="#ffe600"/>
<circle cx="656.3" cy="987.6" r="15.4" fill="#ffe600"/>
<circle cx="666.6" cy="982.4" r="15.4" fill="#ffe600"/>
<circle cx="669.3" cy="981.1" r="15.4" fill="#ffe600"/>
<circle cx="672.0" cy="979.8" r="15.4" fill="#ffe600"/>
<circle cx="674.8" cy="978.5" r="15.4" fill="#ffe600"/>
<circle cx="677.5" cy="977.2" r="15.4" fill="#ffe600"/>
<circle cx="680.1" cy="975.8" r="15.4" fill="#ffe600"/>
<circle cx="682.7" cy="974.5" r="15.4" fill="#ffe600"/>
<circle cx="685.3" cy="973.2" r="15.4" fill="#ffe600"/>
<circle cx="687.9" cy="971.9" r="15.4" fill="#ffe600"/>
<circle cx="691.3" cy="970.2" r="15.4" fill="#ffe600"/>
<circle cx="694.7" cy="968.4" r="15.4" fill="#ffe600"/>
<circle cx="698.2" cy="966.7" r="15.4" fill="#ffe600"/>
<circle cx="701.6" cy="964.9" r="15.4" fill="#ffe600"/>
<circle cx="705.6" cy="962.8" r="15.4" fill="#ffe600"/>
<circle cx="709.5" cy="960.7" r="15.4" fill="#ffe600"/>
<circle cx="713.5" cy="958.6" r="15.4" fill="#ffe600"/>
<circle cx="717.5" cy="956.5" r="15.4" fill="#ffe600"/>
<circle cx="721.8" cy="954.2" r="15.4" fill="#ffe600"/>
<circle cx="726.2" cy="951.8" r="15.4" fill="#ffe600"/>
<circle cx="730.6" cy="949.5" r="15.4" fill="#ffe600"/>
<circle cx="734.9" cy="947.2" r="15.4" fill="#ffe600"/>
<circle cx="739.5" cy="944.7" r="15.4" fill="#ffe600"/>
<circle cx="744.0" cy="942.2" r="15.4" fill="#ffe600"/>
<circle cx="748.5" cy="939.7" r="15.4" fill="#ffe600"/>
<circle cx="753.0" cy="937.2" r="15.4" fill="#ffe600"/>
<circle cx="584.6" cy="1025.9" r="15.4" fill="#ffb100"/>
<circle cx="586.5" cy="1025.2" r="15.4" fill="#ffb100"/>
<circle cx="589.5" cy="1025.5" r="15.4" fill="#ffb100"/>
<circle cx="595.0" cy="1021.7" r="15.4" fill="#ffb100"/>
<circle cx="600.7" cy="1016.2" r="15.4" fill="#ffb100"/>
<circle cx="606.5" cy="1012.0" r="15.4" fill="#ffb100"/>
<circle cx="612.5" cy="1008.8" r="15.4" fill="#ffb100"/>
<circle cx="618.8" cy="1006.6" r="15.4" fill="#ffb100"/>
<circle cx="625.7" cy="1003.4" r="15.4" fill="#ffb100"/>
<circle cx="631.8" cy="1000.3" r="15.4" fill="#ffb100"/>
<circle cx="634.6" cy="999.3" r="15.4" fill="#ffb100"/>
<circle cx="645.3" cy="994.1" r="15.4" fill="#ffb100"/>
<circle cx="656.4" cy="988.2" r="15.4" fill="#ffb100"/>
<circle cx="666.6" cy="983.0" r="15.4" fill="#ffb100"/>
<circle cx="669.3" cy="981.6" r="15.4" fill="#ffb100"/>
<circle cx="672.0" cy="980.3" r="15.4" fill="#ffb100"/>
<circle cx="674.7" cy="979.0" r="15.4" fill="#ffb100"/>
<circle cx="677.4" cy="977.6" r="15.4" fill="#ffb100"/>
<circle cx="680.0" cy="976.3" r="15.4" fill="#ffb100"/>
<circle cx="682.6" cy="974.9" r="15.4" fill="#ffb100"/>
<circle cx="685.2" cy="973.6" r="15.4" fill="#ffb100"/>
<circle cx="687.8" cy="972.2" r="15.4" fill="#ffb100"/>
<circle cx="691.2" cy="970.5" r="15.4" fill="#ffb100"/>
<circle cx="694.6" cy="968.7" r="15.4" fill="#ffb100"/>
<circle cx="698.1" cy="966.9" r="15.4" fill="#ffb100"/>
<circle cx="701.5" cy="965.1" r="15.4" fill="#ffb100"/>
<circle cx="705.5" cy="963.0" r="15.4" fill="#ffb100"/>
<circle cx="709.5" cy="960.9" r="15.4" fill="#ffb100"/>
<circle cx="713.4" cy="958.7" r="15.4" fill="#ffb100"/>
<circle cx="717.4" cy="956.6" r="15.4" fill="#ffb100"/>
<circle cx="721.8" cy="954.2" r="15.4" fill="#ffb100"/>
<circle cx="726.2" cy="951.9" r="15.4" fill="#ffb100"/>
<circle cx="730.6" cy="949.5" r="15.4" fill="#ffb100"/>
<circle cx="734.9" cy="947.2" r="15.4" fill="#ffb100"/>
<circle cx="739.5" cy="944.7" r="15.4" fill="#ffb100"/>
<circle cx="744.0" cy="942.2" r="15.4" fill="#ffb100"/>
<circle cx="748.5" cy="939.7" r="15.4" fill="#ffb100"/>
<circle cx="753.0" cy="937.2" r="15.4" fill="#ffb100"/>
<circle cx="595.2" cy="1020.9" r="15.4" fill="#ff7d00"/>
<circle cx="596.9" cy="1020.1" r="15.4" fill="#ff7d00"/>
<circle cx="599.6" cy="1019.7" r="15.4" fill="#ff7d00"/>
<circle cx="604.1" cy="1016.6" r="15.4" fill="#ff7d00"/>
<circle cx="608.8" cy="1012.5" r="15.4" fill="#ff7d00"/>
<circle cx="613.4" cy="1009.3" r="15.4" fill="#ff7d00"/>
<circle cx="618.3" cy="1006.8" r="15.4" fill="#ff7d00"/>
<circle cx="623.2" cy="1005.1" r="15.4" fill="#ff7d00"/>
<circle cx="628.5" cy="1002.6" r="15.4" fill="#ff7d00"/>
<circle cx="633.3" cy="1000.3" r="15.4" fill="#ff7d00"/>
<circle cx="635.4" cy="999.6" r="15.4" fill="#ff7d00"/>
<circle cx="645.7" cy="994.5" r="15.4" fill="#ff7d00"/>
<circle cx="656.5" cy="988.7" r="15.4" fill="#ff7d00"/>
<circle cx="666.5" cy="983.5" r="15.4" fill="#ff7d00"/>
<circle cx="669.2" cy="982.1" r="15.4" fill="#ff7d00"/>
<circle cx="671.9" cy="980.7" r="15.4" fill="#ff7d00"/>
<circle cx="674.6" cy="979.4" r="15.4" fill="#ff7d00"/>
<circle cx="677.3" cy="978.0" r="15.4" fill="#ff7d00"/>
<circle cx="679.9" cy="976.6" r="15.4" fill="#ff7d00"/>
<circle cx="682.5" cy="975.3" r="15.4" fill="#ff7d00"/>
<circle cx="685.1" cy="973.9" r="15.4" fill="#ff7d00"/>
<circle cx="687.7" cy="972.5" r="15.4" fill="#ff7d00"/>
<circle cx="691.1" cy="970.7" r="15.4" fill="#ff7d00"/>
<circle cx="694.5" cy="968.9" r="15.4" fill="#ff7d00"/>
<circle cx="698.0" cy="967.1" r="15.4" fill="#ff7d00"/>
<circle cx="701.4" cy="965.3" r="15.4" fill="#ff7d00"/>
<circle cx="705.4" cy="963.2" r="15.4" fill="#ff7d00"/>
<circle cx="709.4" cy="961.0" r="15.4" fill="#ff7d00"/>
<circle cx="713.4" cy="958.8" r="15.4" fill="#ff7d00"/>
<circle cx="717.4" cy="956.7" r="15.4" fill="#ff7d00"/>
<circle cx="721.8" cy="954.3" r="15.4" fill="#ff7d00"/>
<circle cx="726.2" cy="951.9" r="15.4" fill="#ff7d00"/>
<circle cx="730.5" cy="949.5" r="15.4" fill="#ff7d00"/>
<circle cx="734.9" cy="947.2" r="15.4" fill="#ff7d00"/>
<circle cx="739.4" cy="944.7" r="15.4" fill="#ff7d00"/>
<circle cx="744.0" cy="942.2" r="15.4" fill="#ff7d00"/>
<circle cx="748.5" cy="939.7" r="15.4" fill="#ff7d00"/>
<circle cx="753.0" cy="937.2" r="15.4" fill="#ff7d00"/>
<circle cx="607.0" cy="1015.5" r="15.4" fill="#ff4800"/>
<circle cx="608.5" cy="1014.7" r="15.4" fill="#ff4800"/>
<circle cx="610.6" cy="1014.1" r="15.4" fill="#ff4800"/>
<circle cx="613.9" cy="1011.9" r="15.4" fill="#ff4800"/>
<circle cx="617.3" cy="1009.1" r="15.4" fill="#ff4800"/>
<circle cx="620.7" cy="1006.9" r="15.4" fill="#ff4800"/>
<circle cx="624.2" cy="1005.2" r="15.4" fill="#ff4800"/>
<circle cx="627.7" cy="1003.9" r="15.4" fill="#ff4800"/>
<circle cx="631.4" cy="1002.1" r="15.4" fill="#ff4800"/>
<circle cx="634.8" cy="1000.5" r="15.4" fill="#ff4800"/>
<circle cx="636.1" cy="1000.0" r="15.4" fill="#ff4800"/>
<circle cx="646.0" cy="994.9" r="15.4" fill="#ff4800"/>
<circle cx="656.7" cy="989.2" r="15.4" fill="#ff4800"/>
<circle cx="666.5" cy="984.0" r="15.4" fill="#ff4800"/>
<circle cx="669.2" cy="982.6" r="15.4" fill="#ff4800"/>
<circle cx="671.8" cy="981.2" r="15.4" fill="#ff4800"/>
<circle cx="674.5" cy="979.8" r="15.4" fill="#ff4800"/>
<circle cx="677.2" cy="978.4" r="15.4" fill="#ff4800"/>
<circle cx="679.8" cy="977.0" r="15.4" fill="#ff4800"/>
<circle cx="682.4" cy="975.6" r="15.4" fill="#ff4800"/>
<circle cx="685.0" cy="974.2" r="15.4" fill="#ff4800"/>
<circle cx="687.6" cy="972.8" r="15.4" fill="#ff4800"/>
<circle cx="691.0" cy="971.0" r="15.4" fill="#ff4800"/>
<circle cx="694.5" cy="969.1" r="15.4" fill="#ff4800"/>
<circle cx="697.9" cy="967.3" r="15.4" fill="#ff4800"/>
<circle cx="701.3" cy="965.5" r="15.4" fill="#ff4800"/>
<circle cx="705.3" cy="963.3" r="15.4" fill="#ff4800"/>
<circle cx="709.3" cy="961.1" r="15.4" fill="#ff4800"/>
<circle cx="713.3" cy="958.9" r="15.4" fill="#ff4800"/>
<circle cx="717.3" cy="956.8" r="15.4" fill="#ff4800"/>
<circle cx="721.7" cy="954.4" r="15.4" fill="#ff4800"/>
<circle cx="726.1" cy="952.0" r="15.4" fill="#ff4800"/>
<circle cx="730.5" cy="949.6" r="15.4" fill="#ff4800"/>
<circle cx="734.9" cy="947.2" r="15.4" fill="#ff4800"/>
<circle cx="739.4" cy="944.7" r="15.4" fill="#ff4800"/>
<circle cx="744.0" cy="942.2" r="15.4" fill="#ff4800"/>
<circle cx="748.5" cy="939.7" r="15.4" fill="#ff4800"/>
<circle cx="753.0" cy="937.2" r="15.4" fill="#ff4800"/>
<circle cx="617.9" cy="1010.5" r="15.4" fill="#ff1400"/>
<circle cx="619.2" cy="1009.8" r="15.4" fill="#ff1400"/>
<circle cx="620.8" cy="1009.2" r="15.4" fill="#ff1400"/>
<circle cx="622.9" cy="1007.8" r="15.4" fill="#ff1400"/>
<circle cx="625.1" cy="1006.2" r="15.4" fill="#ff1400"/>
<circle cx="627.3" cy="1004.9" r="15.4" fill="#ff1400"/>
<circle cx="629.5" cy="1003.7" r="15.4" fill="#ff1400"/>
<circle cx="631.7" cy="1002.8" r="15.4" fill="#ff1400"/>
<circle cx="634.0" cy="1001.7" r="15.4" fill="#ff1400"/>
<circle cx="636.2" cy="1000.6" r="15.4" fill="#ff1400"/>
<circle cx="636.8" cy="1000.4" r="15.4" fill="#ff1400"/>
<circle cx="646.4" cy="995.3" r="15.4" fill="#ff1400"/>
<circle cx="656.8" cy="989.7" r="15.4" fill="#ff1400"/>
<circle cx="666.5" cy="984.4" r="15.4" fill="#ff1400"/>
<circle cx="669.1" cy="983.0" r="15.4" fill="#ff1400"/>
<circle cx="671.8" cy="981.6" r="15.4" fill="#ff1400"/>
<circle cx="674.4" cy="980.1" r="15.4" fill="#ff1400"/>
<circle cx="677.1" cy="978.7" r="15.4" fill="#ff1400"/>
<circle cx="679.7" cy="977.3" r="15.4" fill="#ff1400"/>
<circle cx="682.3" cy="975.9" r="15.4" fill="#ff1400"/>
<circle cx="684.9" cy="974.5" r="15.4" fill="#ff1400"/>
<circle cx="687.6" cy="973.0" r="15.4" fill="#ff1400"/>
<circle cx="691.0" cy="971.2" r="15.4" fill="#ff1400"/>
<circle cx="694.4" cy="969.3" r="15.4" fill="#ff1400"/>
<circle cx="697.8" cy="967.5" r="15.4" fill="#ff1400"/>
<circle cx="701.2" cy="965.6" r="15.4" fill="#ff1400"/>
<circle cx="705.3" cy="963.4" r="15.4" fill="#ff1400"/>
<circle cx="709.3" cy="961.2" r="15.4" fill="#ff1400"/>
<circle cx="713.3" cy="959.0" r="15.4" fill="#ff1400"/>
<circle cx="717.3" cy="956.8" r="15.4" fill="#ff1400"/>
<circle cx="721.7" cy="954.4" r="15.4" fill="#ff1400"/>
<circle cx="726.1" cy="952.0" r="15.4" fill="#ff1400"/>
<circle cx="730.5" cy="949.6" r="15.4" fill="#ff1400"/>
<circle cx="734.9" cy="947.2" r="15.4" fill="#ff1400"/>
<circle cx="739.4" cy="944.7" r="15.4" fill="#ff1400"/>
<circle cx="744.0" cy="942.2" r="15.4" fill="#ff1400"/>
<circle cx="748.5" cy="939.7" r="15.4" fill="#ff1400"/>
<circle cx="753.0" cy="937.2" r="15.4" fill="#ff1400"/>
<circle cx="623.2" cy="1008.1" r="15.4" fill="#c00000"/>
<circle cx="624.4" cy="1007.3" r="15.4" fill="#c00000"/>
<circle cx="625.8" cy="1006.5" r="15.4" fill="#c00000"/>
<circle cx="627.4" cy="1005.5" r="15.4" fill="#c00000"/>
<circle cx="629.0" cy="1004.5" r="15.4" fill="#c00000"/>
<circle cx="630.6" cy="1003.7" r="15.4" fill="#c00000"/>
<circle cx="632.2" cy="1002.9" r="15.4" fill="#c00000"/>
<circle cx="633.8" cy="1002.2" r="15.4" fill="#c00000"/>
<circle cx="635.4" cy="1001.4" r="15.4" fill="#c00000"/>
<circle cx="636.9" cy="1000.7" r="15.4" fill="#c00000"/>
<circle cx="637.2" cy="1000.6" r="15.4" fill="#c00000"/>
<circle cx="646.5" cy="995.5" r="15.4" fill="#c00000"/>
<circle cx="656.8" cy="989.9" r="15.4" fill="#c00000"/>
<circle cx="666.5" cy="984.7" r="15.4" fill="#c00000"/>
<circle cx="669.1" cy="983.2" r="15.4" fill="#c00000"/>
<circle cx="671.8" cy="981.8" r="15.4" fill="#c00000"/>
<circle cx="674.4" cy="980.3" r="15.4" fill="#c00000"/>
<circle cx="677.1" cy="978.9" r="15.4" fill="#c00000"/>
<circle cx="679.7" cy="977.5" r="15.4" fill="#c00000"/>
<circle cx="682.3" cy="976.0" r="15.4" fill="#c00000"/>
<circle cx="684.9" cy="974.6" r="15.4" fill="#c00000"/>
<circle cx="687.5" cy="973.2" r="15.4" fill="#c00000"/>
<circle cx="690.9" cy="971.3" r="15.4" fill="#c00000"/>
<circle cx="694.4" cy="969.4" r="15.4" fill="#c00000"/>
<circle cx="697.8" cy="967.6" r="15.4" fill="#c00000"/>
<circle cx="701.2" cy="965.7" r="15.4" fill="#c00000"/>
<circle cx="705.2" cy="963.5" r="15.4" fill="#c00000"/>
<circle cx="709.2" cy="961.3" r="15.4" fill="#c00000"/>
<circle cx="713.3" cy="959.1" r="15.4" fill="#c00000"/>
<circle cx="717.3" cy="956.9" r="15.4" fill="#c00000"/>
<circle cx="721.7" cy="954.4" r="15.4" fill="#c00000"/>
<circle cx="726.1" cy="952.0" r="15.4" fill="#c00000"/>
<circle cx="730.5" cy="949.6" r="15.4" fill="#c00000"/>
<circle cx="734.9" cy="947.2" r="15.4" fill="#c00000"/>
<circle cx="739.4" cy="944.7" r="15.4" fill="#c00000"/>
<circle cx="744.0" cy="942.2" r="15.4" fill="#c00000"/>
<circle cx="748.5" cy="939.7" r="15.4" fill="#c00000"/>
<circle cx="753.0" cy="937.2" r="15.4" fill="#c00000"/>
<circle cx="628.0" cy="1006.0" r="16.2" fill="#800000"/>
<circle cx="629.1" cy="1005.4" r="16.2" fill="#800000"/>
<circle cx="630.1" cy="1004.8" r="16.2" fill="#800000"/>
<circle cx="631.2" cy="1004.3" r="16.2" fill="#800000"/>
<circle cx="632.2" cy="1003.7" r="16.2" fill="#800000"/>
<circle cx="633.3" cy="1003.1" r="16.2" fill="#800000"/>
<circle cx="634.3" cy="1002.5" r="16.2" fill="#800000"/>
<circle cx="635.4" cy="1002.0" r="16.2" fill="#800000"/>
<circle cx="636.4" cy="1001.4" r="16.2" fill="#800000"/>
<circle cx="637.5" cy="1000.8" r="16.2" fill="#800000"/>
<circle cx="637.5" cy="1000.8" r="16.2" fill="#800000"/>
<circle cx="646.7" cy="995.7" r="16.2" fill="#800000"/>
<circle cx="656.9" cy="990.1" r="16.2" fill="#800000"/>
<circle cx="666.5" cy="984.8" r="16.2" fill="#800000"/>
<circle cx="669.1" cy="983.4" r="16.2" fill="#800000"/>
<circle cx="671.8" cy="981.9" r="16.2" fill="#800000"/>
<circle cx="674.4" cy="980.5" r="16.2" fill="#800000"/>
<circle cx="677.0" cy="979.0" r="16.2" fill="#800000"/>
<circle cx="679.7" cy="977.6" r="16.2" fill="#800000"/>
<circle cx="682.3" cy="976.1" r="16.2" fill="#800000"/>
<circle cx="684.9" cy="974.7" r="16.2" fill="#800000"/>
<circle cx="687.5" cy="973.3" r="16.2" fill="#800000"/>
<circle cx="690.9" cy="971.4" r="16.2" fill="#800000"/>
<circle cx="694.3" cy="969.5" r="16.2" fill="#800000"/>
<circle cx="697.8" cy="967.6" r="16.2" fill="#800000"/>
<circle cx="701.2" cy="965.7" r="16.2" fill="#800000"/>
<circle cx="705.2" cy="963.5" r="16.2" fill="#800000"/>
<circle cx="709.2" cy="961.3" r="16.2" fill="#800000"/>
<circle cx="713.2" cy="959.1" r="16.2" fill="#800000"/>
<circle cx="717.3" cy="956.9" r="16.2" fill="#800000"/>
<circle cx="721.7" cy="954.5" r="16.2" fill="#800000"/>
<circle cx="726.1" cy="952.0" r="16.2" fill="#800000"/>
<circle cx="730.5" cy="949.6" r="16.2" fill="#800000"/>
<circle cx="734.9" cy="947.2" r="16.2" fill="#800000"/>
<circle cx="739.4" cy="944.7" r="16.2" fill="#800000"/>
<circle cx="744.0" cy="942.2" r="16.2" fill="#800000"/>
<circle cx="748.5" cy="939.7" r="16.2" fill="#800000"/>
<circle cx="753.0" cy="937.2" r="16.2" fill="#800000"/>
<line x1="628.0" y1="1006.0" x2="753.0" y2="937.2" stroke="#800000" stroke-width="32.4" stroke-linecap="round"/>
</g>
<rect x="157" y="903.1" width="630.5" height="332.1" fill="none" stroke="#000" stroke-width="4.8"/>
<g stroke="#000" stroke-width="1.8">
<line x1="148.8" y1="936.3" x2="154.6" y2="936.3"/>
<line x1="148.8" y1="1068.9" x2="154.6" y2="1068.9"/>
<line x1="148.8" y1="1201.7" x2="154.6" y2="1201.7"/>
<line x1="189.9" y1="1237.4" x2="189.9" y2="1243.2"/>
<line x1="322.8" y1="1237.4" x2="322.8" y2="1243.2"/>
<line x1="456.2" y1="1237.4" x2="456.2" y2="1243.2"/>
<line x1="588.3" y1="1237.4" x2="588.3" y2="1243.2"/>
<line x1="720.9" y1="1237.4" x2="720.9" y2="1243.2"/>
<line x1="834.4" y1="917" x2="840.1" y2="917"/>
<line x1="834.4" y1="1017.8" x2="840.1" y2="1017.8"/>
<line x1="834.4" y1="1119.8" x2="840.1" y2="1119.8"/>
<line x1="834.4" y1="1220.8" x2="840.1" y2="1220.8"/>
</g>
<text x="100" y="200" font-size="100" font-weight="bold" font-style="normal" fill="#000" transform="matrix(0.76667 0.00002 0 0.76081 -75.867 761.577)">b</text>
<text x="100" y="200" font-size="100" font-weight="bold" font-style="normal" fill="#000" transform="matrix(0.49847 0.00002 0 0.51972 22.659 850.537)">0.2</text>
<text x="100" y="200" font-size="100" font-weight="bold" font-style="normal" fill="#000" transform="matrix(0.49000 0.00002 0 0.51972 -4.160 1116.437)">−0.2</text>
<text x="100" y="200" font-size="100" font-weight="bold" font-style="normal" fill="#000" transform="matrix(0.50606 0.00002 0 0.50141 103.570 1186.017)">0.3</text>
<text x="100" y="200" font-size="100" font-weight="bold" font-style="normal" fill="#000" transform="matrix(0.48195 0.00002 0 0.50141 240.877 1186.017)">0.5</text>
<text x="100" y="200" font-size="100" font-weight="bold" font-style="normal" fill="#000" transform="matrix(0.50382 0.00002 0 0.50141 370.703 1186.017)">0.7</text>
<text x="100" y="200" font-size="100" font-weight="bold" font-style="normal" fill="#000" transform="matrix(0.49242 0.00002 0 0.50845 504.088 1184.501)">0.9</text>
<text x="100" y="200" font-size="100" font-weight="bold" font-style="normal" fill="#000" transform="matrix(0.42519 0.00002 0 0.52319 646.230 1182.062)">1.1</text>
<polygon points="470.3,1315 477.4,1315 468.9,1365.4 461.8,1365.4" fill="#000"/>
<text x="100" y="200" font-size="100" font-weight="normal" font-style="normal" fill="#000" transform="matrix(0.51739 0.00002 0 0.50286 423.574 1274.729)">2</text>
<polygon points="1.8,1075.2 1.8,1081.6 52.7,1091.6 52.7,1085.2" fill="#000"/>
<text x="100" y="200" font-size="100" font-weight="normal" font-style="normal" transform="matrix(0 -0.48039 0.50571 0 -37.543 1126.000)">4</text>
<defs><linearGradient id="cb807" x1="0" y1="1" x2="0" y2="0">
<stop offset="0.000" stop-color="#000080"/>
<stop offset="0.050" stop-color="#0000b9"/>
<stop offset="0.100" stop-color="#0000f3"/>
<stop offset="0.150" stop-color="#0019ff"/>
<stop offset="0.200" stop-color="#004dff"/>
<stop offset="0.250" stop-color="#0080ff"/>
<stop offset="0.300" stop-color="#00b2ff"/>
<stop offset="0.350" stop-color="#00e5f7"/>
<stop offset="0.400" stop-color="#29ffce"/>
<stop offset="0.450" stop-color="#52ffa5"/>
<stop offset="0.500" stop-color="#7bff7b"/>
<stop offset="0.550" stop-color="#a5ff52"/>
<stop offset="0.600" stop-color="#ceff29"/>
<stop offset="0.650" stop-color="#f7f600"/>
<stop offset="0.700" stop-color="#ffc600"/>
<stop offset="0.750" stop-color="#ff9700"/>
<stop offset="0.800" stop-color="#ff6800"/>
<stop offset="0.850" stop-color="#ff3900"/>
<stop offset="0.900" stop-color="#f30900"/>
<stop offset="0.950" stop-color="#b90000"/>
<stop offset="1.000" stop-color="#800000"/>
</linearGradient></defs>
<rect x="807" y="918.8" width="23.100000000000023" height="300.20000000000005" fill="url(#cb807)"/>
<rect x="804.75" y="916.55" width="27.600000000000023" height="304.70000000000005" fill="none" stroke="#000" stroke-width="4.5"/>
<text x="100" y="200" font-size="100" font-weight="bold" font-style="normal" fill="#000" transform="matrix(0.48750 0.00002 0 0.50141 799.388 834.317)">90</text>
<text x="100" y="200" font-size="100" font-weight="bold" font-style="normal" fill="#000" transform="matrix(0.48750 0.00002 0 0.51127 799.388 933.835)">60</text>
<text x="100" y="200" font-size="100" font-weight="bold" font-style="normal" fill="#000" transform="matrix(0.49429 0.00002 0 0.52958 797.983 1032.955)">30</text>
<text x="100" y="200" font-size="100" font-weight="bold" font-style="normal" fill="#000" transform="matrix(0.50833 0.00002 0 0.52113 796.733 1136.054)">0</text>
<path fill="#000" d="M915.9,1125 a27.0,14.2 0 1,0 54.0,0 a27.0,14.2 0 1,0 -54.0,0 Z" transform="rotate(21.5 942.9 1125)"/>
<path fill="#fff" d="M917.9,1125 a25.0,10.6 0 1,0 50.0,0 a25.0,10.6 0 1,0 -50.0,0 Z" transform="rotate(15.5 942.9 1125)"/>
<line x1="942.9" y1="1114.5" x2="942.9" y2="1135.5" stroke="#000" stroke-width="2.3"/>
<circle cx="928.5" cy="1046" r="9.8" stroke="#000" fill="none" stroke-width="2.1"/>
<path d="M915.8,1023.1999999999999 Q949.5,999.2000000000002 983.2,1023.1999999999999" fill="none" stroke="#000" stroke-width="4.3"/>
<path d="M915.8,1066.3 Q949.5,1087.7 983.2,1066.3" fill="none" stroke="#000" stroke-width="4.3"/>
<defs>
<radialGradient id="cR" cx="0.6" cy="0.38" r="0.7" fx="0.66" fy="0.32"><stop offset="0" stop-color="#f21010"/><stop offset="0.6" stop-color="#d80000"/><stop offset="1" stop-color="#8a0000"/></radialGradient>
<radialGradient id="cG" cx="0.6" cy="0.38" r="0.7" fx="0.66" fy="0.32"><stop offset="0" stop-color="#10f010"/><stop offset="0.6" stop-color="#00cc00"/><stop offset="1" stop-color="#006c00"/></radialGradient>
<radialGradient id="cN" cx="0.6" cy="0.38" r="0.7" fx="0.66" fy="0.32"><stop offset="0" stop-color="#1010c0"/><stop offset="0.6" stop-color="#0000a0"/><stop offset="1" stop-color="#000058"/></radialGradient>
<radialGradient id="cH" cx="0.6" cy="0.38" r="0.7" fx="0.66" fy="0.32"><stop offset="0" stop-color="#ffc01a"/><stop offset="0.6" stop-color="#e8a000"/><stop offset="1" stop-color="#a06c00"/></radialGradient>
</defs>
<text x="100" y="200" font-size="100" font-weight="bold" font-style="normal" fill="#000" transform="matrix(0.78367 0.00002 0 0.69818 945.198 799.865)">c</text>
<polygon points="1096.5,954.2 1425.9,939.5 1425.9,1212.4 1096.5,1226.8" fill="none" stroke="#e2b400" stroke-width="2"/>
<line x1="1096.5" y1="954.2" x2="1131.4" y2="988" stroke="#b08c00" stroke-width="2"/>
<line x1="1425.9" y1="939.5" x2="1462.6" y2="974.3" stroke="#b08c00" stroke-width="2"/>
<line x1="1425.9" y1="1212.4" x2="1462.6" y2="1246.8" stroke="#b08c00" stroke-width="2"/>
<line x1="1096.5" y1="1226.8" x2="1131.4" y2="1260.8" stroke="#b08c00" stroke-width="2"/>
<g stroke-linecap="round">
<line x1="1174.7" y1="1057.8" x2="1222.1" y2="1059.8" stroke="#8fdc8f" stroke-width="4.6"/>
<line x1="1222.1" y1="1059.8" x2="1207.1" y2="1083.8" stroke="#8fdc8f" stroke-width="4.6"/>
<line x1="1207.1" y1="1083.8" x2="1173" y2="1123.2" stroke="#8fdc8f" stroke-width="4.6"/>
<line x1="1173" y1="1123.2" x2="1203.7" y2="1150.6" stroke="#8fdc8f" stroke-width="4.6"/>
<line x1="1357.4" y1="1019.7" x2="1353.4" y2="1056.4" stroke="#8fdc8f" stroke-width="4.6"/>
<line x1="1357.4" y1="1019.7" x2="1302.3" y2="1012" stroke="#8fdc8f" stroke-width="4.6"/>
<line x1="1353.4" y1="1056.4" x2="1321.3" y2="1097.2" stroke="#8fdc8f" stroke-width="4.6"/>
<line x1="1321.3" y1="1097.2" x2="1355.7" y2="1127.9" stroke="#8fdc8f" stroke-width="4.6"/>
<line x1="1335.7" y1="1140" x2="1351.7" y2="1176.7" stroke="#8fdc8f" stroke-width="4.6"/>
<line x1="1335.7" y1="1140" x2="1383" y2="1132" stroke="#8fdc8f" stroke-width="4.6"/>
<line x1="1351.7" y1="1176.7" x2="1385.8" y2="1215.8" stroke="#8fdc8f" stroke-width="4.6"/>
<line x1="1385.8" y1="1215.8" x2="1355.7" y2="1247.5" stroke="#8fdc8f" stroke-width="4.6"/>
<line x1="1203.1" y1="1180.7" x2="1257.2" y2="1173.3" stroke="#8fdc8f" stroke-width="4.6"/>
<line x1="1203.1" y1="1180.7" x2="1206.4" y2="1202.4" stroke="#8fdc8f" stroke-width="4.6"/>
<line x1="1206.4" y1="1202.4" x2="1237.1" y2="1240.1" stroke="#8fdc8f" stroke-width="4.6"/>
<line x1="1237.1" y1="1240.1" x2="1203.1" y2="1270.9" stroke="#8fdc8f" stroke-width="4.6"/>
<line x1="1236.5" y1="979.6" x2="1211.4" y2="947.9" stroke="#9496bf" stroke-width="4.6"/>
<line x1="1236.5" y1="979.6" x2="1266.5" y2="976.9" stroke="#9496bf" stroke-width="4.6"/>
<line x1="1236.5" y1="979.6" x2="1213.8" y2="1013" stroke="#9496bf" stroke-width="4.6"/>
<line x1="1236.5" y1="979.6" x2="1253.8" y2="976.9" stroke="#9496bf" stroke-width="4.6"/>
<line x1="1385.8" y1="954.5" x2="1363.4" y2="925.2" stroke="#9496bf" stroke-width="4.6"/>
<line x1="1385.8" y1="954.5" x2="1402.5" y2="938.5" stroke="#9496bf" stroke-width="4.6"/>
<line x1="1385.8" y1="954.5" x2="1415.8" y2="966.9" stroke="#9496bf" stroke-width="4.6"/>
<line x1="1385.8" y1="954.5" x2="1360" y2="985.3" stroke="#9496bf" stroke-width="4.6"/>
<line x1="1273.9" y1="1023" x2="1274.9" y2="994.3" stroke="#9496bf" stroke-width="4.6"/>
<line x1="1273.9" y1="1023" x2="1302.3" y2="1012" stroke="#9496bf" stroke-width="4.6"/>
<line x1="1273.9" y1="1023" x2="1237.1" y2="1024.7" stroke="#9496bf" stroke-width="4.6"/>
<line x1="1273.9" y1="1023" x2="1283.9" y2="1058.8" stroke="#9496bf" stroke-width="4.6"/>
<line x1="1136.3" y1="1059.4" x2="1128.6" y2="1020.4" stroke="#9496bf" stroke-width="4.6"/>
<line x1="1136.3" y1="1059.4" x2="1174.7" y2="1057.8" stroke="#9496bf" stroke-width="4.6"/>
<line x1="1136.3" y1="1059.4" x2="1109.5" y2="1071.5" stroke="#9496bf" stroke-width="4.6"/>
<line x1="1136.3" y1="1059.4" x2="1136.3" y2="1083.8" stroke="#9496bf" stroke-width="4.6"/>
<line x1="1321.3" y1="1077.1" x2="1293.3" y2="1063.1" stroke="#9496bf" stroke-width="4.6"/>
<line x1="1321.3" y1="1077.1" x2="1347.4" y2="1045.4" stroke="#9496bf" stroke-width="4.6"/>
<line x1="1321.3" y1="1077.1" x2="1305" y2="1091.2" stroke="#9496bf" stroke-width="4.6"/>
<line x1="1321.3" y1="1077.1" x2="1345" y2="1106.2" stroke="#9496bf" stroke-width="4.6"/>
<line x1="1173" y1="1101.2" x2="1196" y2="1067.1" stroke="#9496bf" stroke-width="4.6"/>
<line x1="1173" y1="1101.2" x2="1142.9" y2="1103.2" stroke="#9496bf" stroke-width="4.6"/>
<line x1="1173" y1="1101.2" x2="1157" y2="1100.5" stroke="#9496bf" stroke-width="4.6"/>
<line x1="1173" y1="1101.2" x2="1198.7" y2="1132.9" stroke="#9496bf" stroke-width="4.6"/>
<line x1="1422.5" y1="1136.3" x2="1432.5" y2="1107.2" stroke="#9496bf" stroke-width="4.6"/>
<line x1="1422.5" y1="1136.3" x2="1450.2" y2="1135.6" stroke="#9496bf" stroke-width="4.6"/>
<line x1="1422.5" y1="1136.3" x2="1423.2" y2="1172.3" stroke="#9496bf" stroke-width="4.6"/>
<line x1="1422.5" y1="1136.3" x2="1400" y2="1133" stroke="#9496bf" stroke-width="4.6"/>
<line x1="1284.6" y1="1171.7" x2="1283.9" y2="1133.9" stroke="#9496bf" stroke-width="4.6"/>
<line x1="1284.6" y1="1171.7" x2="1257.2" y2="1173.3" stroke="#9496bf" stroke-width="4.6"/>
<line x1="1284.6" y1="1171.7" x2="1321.3" y2="1181.3" stroke="#9496bf" stroke-width="4.6"/>
<line x1="1284.6" y1="1171.7" x2="1275.6" y2="1198.4" stroke="#9496bf" stroke-width="4.6"/>
</g>
<circle cx="1211.4" cy="947.9" r="5.3" fill="url(#cH)"/>
<circle cx="1266.5" cy="976.9" r="5.3" fill="url(#cH)"/>
<circle cx="1213.8" cy="1013" r="5.3" fill="url(#cH)"/>
<circle cx="1253.8" cy="976.9" r="5.3" fill="url(#cH)"/>
<circle cx="1363.4" cy="925.2" r="5.3" fill="url(#cH)"/>
<circle cx="1402.5" cy="938.5" r="5.3" fill="url(#cH)"/>
<circle cx="1415.8" cy="966.9" r="5.3" fill="url(#cH)"/>
<circle cx="1360" cy="985.3" r="5.3" fill="url(#cH)"/>
<circle cx="1274.9" cy="994.3" r="5.3" fill="url(#cH)"/>
<circle cx="1302.3" cy="1012" r="5.3" fill="url(#cH)"/>
<circle cx="1237.1" cy="1024.7" r="5.3" fill="url(#cH)"/>
<circle cx="1283.9" cy="1058.8" r="5.3" fill="url(#cH)"/>
<circle cx="1128.6" cy="1020.4" r="5.3" fill="url(#cH)"/>
<circle cx="1174.7" cy="1057.8" r="5.3" fill="url(#cH)"/>
<circle cx="1109.5" cy="1071.5" r="5.3" fill="url(#cH)"/>
<circle cx="1136.3" cy="1083.8" r="5.3" fill="url(#cH)"/>
<circle cx="1293.3" cy="1063.1" r="5.3" fill="url(#cH)"/>
<circle cx="1347.4" cy="1045.4" r="5.3" fill="url(#cH)"/>
<circle cx="1305" cy="1091.2" r="5.3" fill="url(#cH)"/>
<circle cx="1345" cy="1106.2" r="5.3" fill="url(#cH)"/>
<circle cx="1196" cy="1067.1" r="5.3" fill="url(#cH)"/>
<circle cx="1142.9" cy="1103.2" r="5.3" fill="url(#cH)"/>
<circle cx="1157" cy="1100.5" r="5.3" fill="url(#cH)"/>
<circle cx="1198.7" cy="1132.9" r="5.3" fill="url(#cH)"/>
<circle cx="1432.5" cy="1107.2" r="5.3" fill="url(#cH)"/>
<circle cx="1450.2" cy="1135.6" r="5.3" fill="url(#cH)"/>
<circle cx="1423.2" cy="1172.3" r="5.3" fill="url(#cH)"/>
<circle cx="1400" cy="1133" r="5.3" fill="url(#cH)"/>
<circle cx="1283.9" cy="1133.9" r="5.3" fill="url(#cH)"/>
<circle cx="1257.2" cy="1173.3" r="5.3" fill="url(#cH)"/>
<circle cx="1321.3" cy="1181.3" r="5.3" fill="url(#cH)"/>
<circle cx="1275.6" cy="1198.4" r="5.3" fill="url(#cH)"/>
<circle cx="1207.1" cy="1083.8" r="5.3" fill="url(#cH)"/>
<circle cx="1203.7" cy="1150.6" r="5.3" fill="url(#cH)"/>
<circle cx="1353.4" cy="1056.4" r="5.3" fill="url(#cH)"/>
<circle cx="1355.7" cy="1127.9" r="5.3" fill="url(#cH)"/>
<circle cx="1351.7" cy="1176.7" r="5.3" fill="url(#cH)"/>
<circle cx="1355.7" cy="1247.5" r="5.3" fill="url(#cH)"/>
<circle cx="1206.4" cy="1202.4" r="5.3" fill="url(#cH)"/>
<circle cx="1203.1" cy="1270.9" r="5.3" fill="url(#cH)"/>
<circle cx="1422.5" cy="1136.3" r="10.9" fill="url(#cN)"/>
<circle cx="1162" cy="1028.7" r="20" fill="url(#cR)"/>
<circle cx="1330" cy="1023" r="20" fill="url(#cR)"/>
<circle cx="1255.5" cy="1094.8" r="20" fill="url(#cR)"/>
<circle cx="1417.5" cy="1083.8" r="20" fill="url(#cR)"/>
<circle cx="1228.8" cy="1144.6" r="20" fill="url(#cR)"/>
<circle cx="1397.5" cy="1138.9" r="20" fill="url(#cR)"/>
<circle cx="1140.9" cy="1219.1" r="20" fill="url(#cR)"/>
<circle cx="1303.3" cy="1209.1" r="20" fill="url(#cR)"/>
<circle cx="1236.5" cy="979.6" r="10.9" fill="url(#cN)"/>
<circle cx="1385.8" cy="954.5" r="10.9" fill="url(#cN)"/>
<circle cx="1273.9" cy="1023" r="10.9" fill="url(#cN)"/>
<circle cx="1136.3" cy="1059.4" r="10.9" fill="url(#cN)"/>
<circle cx="1321.3" cy="1077.1" r="10.9" fill="url(#cN)"/>
<circle cx="1173" cy="1101.2" r="10.9" fill="url(#cN)"/>
<circle cx="1284.6" cy="1171.7" r="10.9" fill="url(#cN)"/>
<circle cx="1357.4" cy="1019.7" r="12.5" fill="url(#cG)"/>
<circle cx="1222.1" cy="1059.8" r="12.5" fill="url(#cG)"/>
<circle cx="1321.3" cy="1097.2" r="12.5" fill="url(#cG)"/>
<circle cx="1173" cy="1123.2" r="12.5" fill="url(#cG)"/>
<circle cx="1335.7" cy="1140" r="12.5" fill="url(#cG)"/>
<circle cx="1203.1" cy="1180.7" r="12.5" fill="url(#cG)"/>
<circle cx="1385.8" cy="1215.8" r="12.5" fill="url(#cG)"/>
<circle cx="1237.1" cy="1240.1" r="12.5" fill="url(#cG)"/>
<polygon points="1131.4,988 1462.6,974.3 1462.6,1246.8 1131.4,1260.8" fill="none" stroke="#e2b400" stroke-width="2"/>
<line x1="1278.9" y1="962" x2="1278.9" y2="883" stroke="#0000e0" stroke-width="5"/>
<polygon points="1278.9,864.5 1290.4,886 1267.4,886" fill="#0000f0"/>
<g stroke="#000" stroke-width="2.6" fill="none"><line x1="1084.5" y1="1284" x2="1086" y2="1126"/><line x1="1084.5" y1="1284" x2="1242" y2="1278"/><line x1="1084.5" y1="1284" x2="1052" y2="1253"/></g>
<polygon points="1086.2,1111 1093.2,1130 1078.2,1130" fill="#000"/>
<polygon points="1260,1277 1240.5,1270.5 1240.5,1286" fill="#000"/>
<circle cx="1051.4" cy="1252.7" r="7.6" fill="#000"/>
<text x="100" y="200" font-size="100" font-weight="normal" font-style="italic" fill="#000" transform="matrix(0.56800 0.00002 0 0.52642 1009.468 987.017)">z</text>
<text x="100" y="200" font-size="100" font-weight="normal" font-style="italic" fill="#000" transform="matrix(0.54918 0.00002 0 0.55405 980.577 1118.954)">y</text>
<text x="100" y="200" font-size="100" font-weight="normal" font-style="italic" fill="#000" transform="matrix(0.57544 0.00002 0 0.52075 1213.258 1195.749)">x</text>
</svg></body></html>
